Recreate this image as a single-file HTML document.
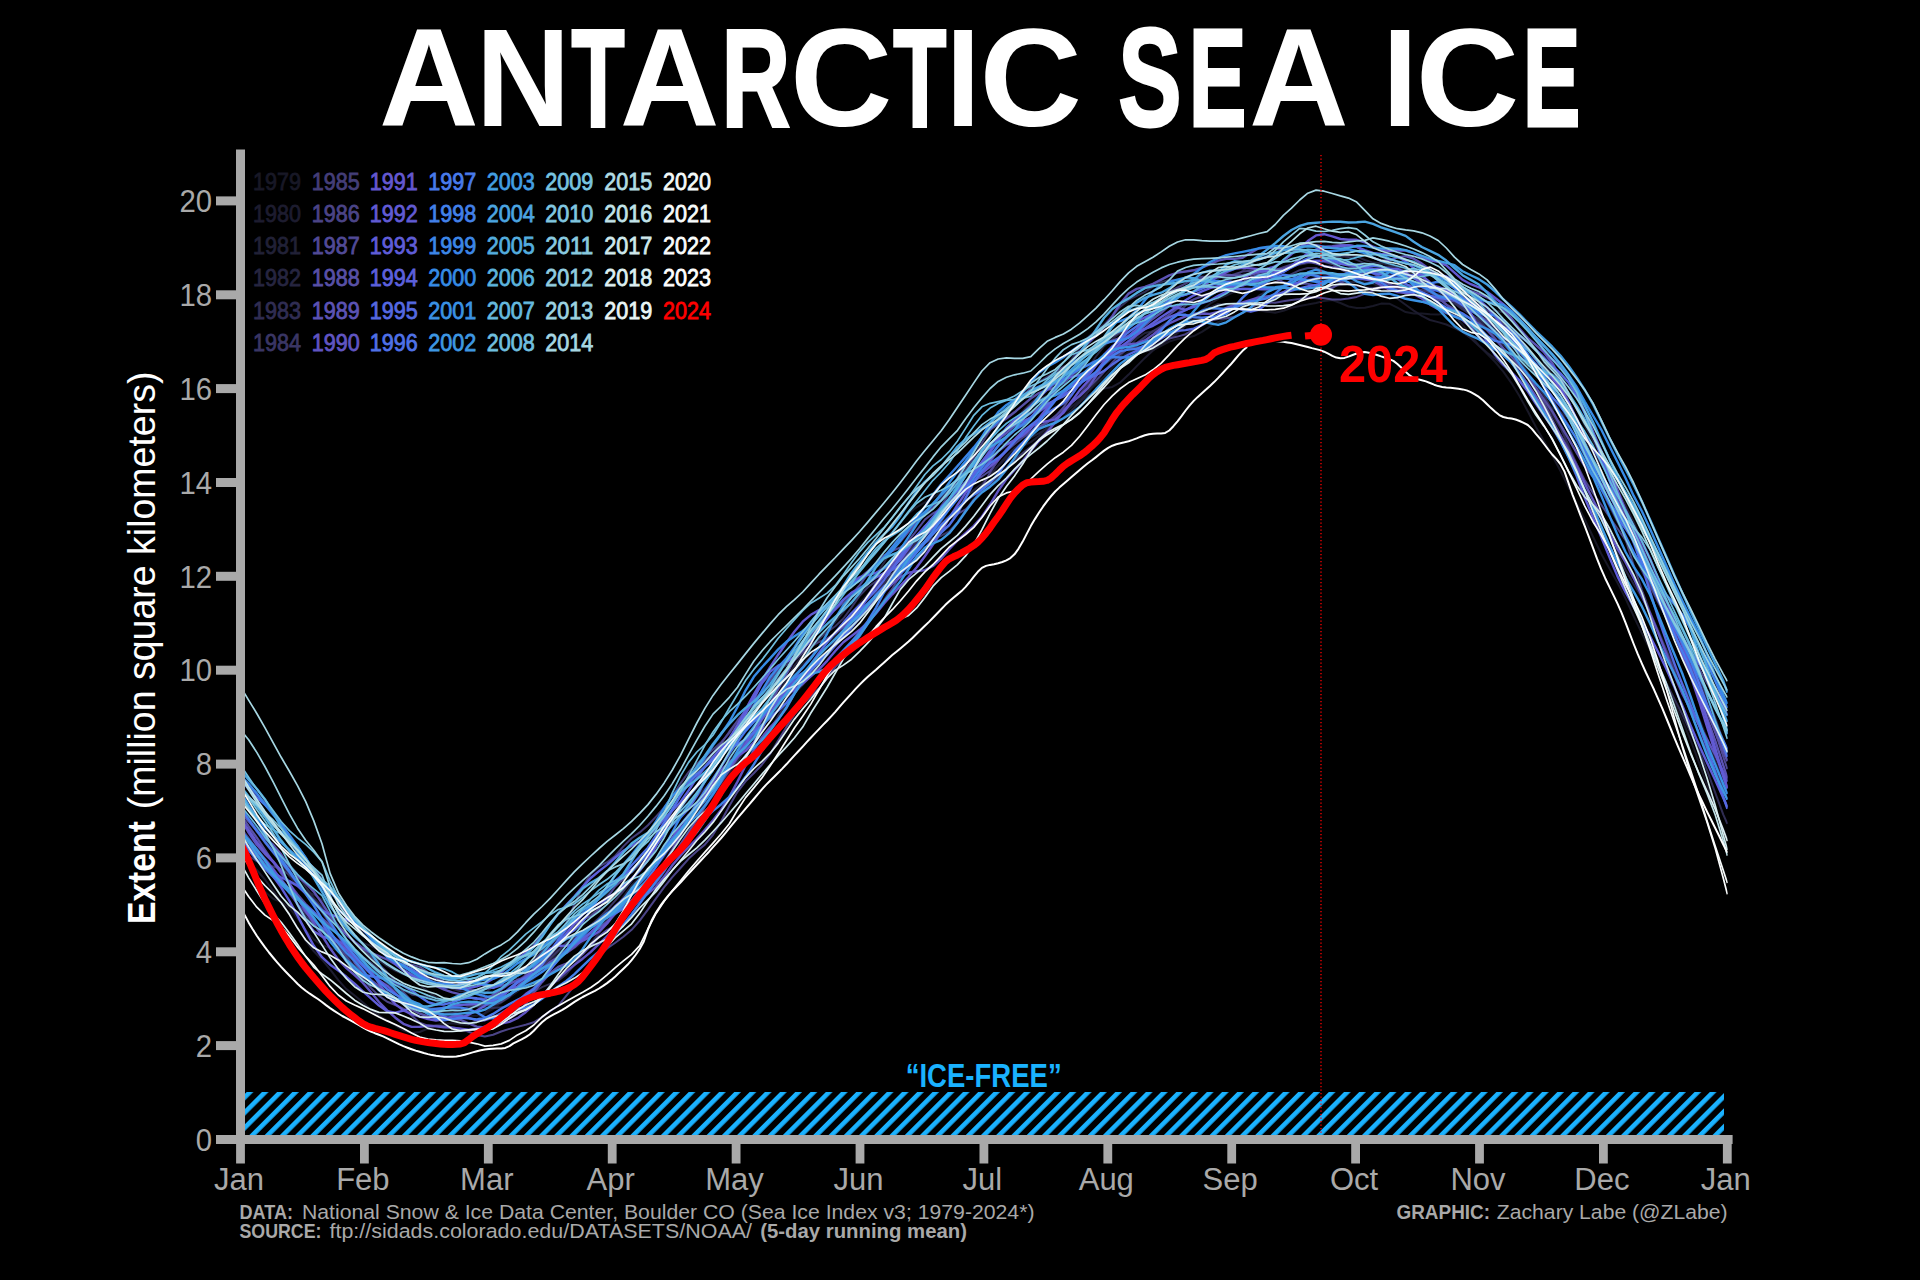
<!DOCTYPE html>
<html lang="en"><head><meta charset="utf-8"><title>Antarctic Sea Ice</title>
<style>
html,body{margin:0;padding:0;background:#000;}
body{width:1920px;height:1280px;overflow:hidden;}
svg{display:block;}
text{font-family:"Liberation Sans",sans-serif;}
.b{font-weight:bold;}
.g{fill:#a9a9a9;}
.yr{font-size:23.4px;stroke-width:0.8px;}
.c path{fill:none;stroke-linejoin:round;stroke-linecap:butt;}
</style></head><body>
<svg width="1920" height="1280" viewBox="0 0 1920 1280">
<defs>
<pattern id="h" width="10.777" height="10.777" patternUnits="userSpaceOnUse" patternTransform="translate(249.4 1135) rotate(-45)">
<rect x="0" y="0" width="10.777" height="4.65" fill="#1ab2ff"/></pattern>
<clipPath id="cp"><rect x="240.5" y="140" width="1487.2" height="1000"/></clipPath>
</defs>
<rect width="1920" height="1280" fill="#000"/>
<text class="b" y="125.8" fill="#fff" font-size="138.6px" aria-label="ANTARCTIC SEA ICE">
<tspan x="379.1" textLength="99.8" lengthAdjust="spacingAndGlyphs">A</tspan><tspan x="475.8" textLength="94.7" lengthAdjust="spacingAndGlyphs">N</tspan><tspan x="571.5" textLength="53.1" lengthAdjust="spacingAndGlyphs" stroke="#fff" stroke-width="3.0" stroke-linejoin="miter">T</tspan><tspan x="619.7" textLength="99.8" lengthAdjust="spacingAndGlyphs">A</tspan><tspan x="721.4" textLength="68.7" lengthAdjust="spacingAndGlyphs" stroke="#fff" stroke-width="3.0" stroke-linejoin="miter">R</tspan><tspan x="790.0" textLength="102.4" lengthAdjust="spacingAndGlyphs">C</tspan><tspan x="893.2" textLength="53.1" lengthAdjust="spacingAndGlyphs" stroke="#fff" stroke-width="3.0" stroke-linejoin="miter">T</tspan><tspan x="946.0" textLength="34.1" lengthAdjust="spacingAndGlyphs">I</tspan><tspan x="979.6" textLength="102.4" lengthAdjust="spacingAndGlyphs">C</tspan><tspan x="1085.0"> </tspan><tspan x="1118.3" textLength="63.3" lengthAdjust="spacingAndGlyphs" stroke="#fff" stroke-width="3.0" stroke-linejoin="miter">S</tspan><tspan x="1188.7" textLength="57.7" lengthAdjust="spacingAndGlyphs" stroke="#fff" stroke-width="3.0" stroke-linejoin="miter">E</tspan><tspan x="1248.9" textLength="99.6" lengthAdjust="spacingAndGlyphs">A</tspan><tspan x="1350.0"> </tspan><tspan x="1382.4" textLength="35.1" lengthAdjust="spacingAndGlyphs">I</tspan><tspan x="1415.7" textLength="103.6" lengthAdjust="spacingAndGlyphs">C</tspan><tspan x="1522.8" textLength="57.7" lengthAdjust="spacingAndGlyphs" stroke="#fff" stroke-width="3.0" stroke-linejoin="miter">E</tspan></text>
<rect x="245" y="1092" width="1479" height="43" fill="url(#h)"/>
<text class="b" x="983.7" y="1087" font-size="33px" fill="#1ab2ff" text-anchor="middle" textLength="156" lengthAdjust="spacingAndGlyphs">“ICE-FREE”</text>
<g class="c" clip-path="url(#cp)">
<path stroke="#181826" stroke-width="2.0" d="M240.5,847.1L248.6,862.0L256.8,878.4L264.9,891.8L273.1,898.7L281.2,901.9L289.4,907.9L297.5,918.5L305.7,930.1L313.8,939.4L322.0,945.1L330.1,947.9L338.3,950.6L346.4,956.8L354.6,964.7L362.7,970.0L370.9,973.5L379.0,977.2L387.2,981.6L395.3,988.1L403.4,996.1L411.6,1004.4L419.7,1011.5L427.9,1016.4L436.0,1017.8L444.2,1015.3L452.3,1012.7L460.5,1013.6L468.6,1015.7L476.8,1015.7L484.9,1013.7L493.1,1009.0L501.2,1002.7L509.4,997.3L517.5,991.6L525.7,984.9L533.8,978.6L542.0,971.7L550.1,963.4L558.2,956.7L566.4,952.3L574.5,948.1L582.7,942.5L590.8,935.3L599.0,927.8L607.1,920.6L615.3,913.0L623.4,903.4L631.6,891.5L639.7,879.0L647.9,867.8L656.0,858.8L664.2,851.3L672.3,843.2L680.5,831.9L688.6,817.0L696.8,801.7L704.9,789.1L713.0,778.8L721.2,767.4L729.3,755.2L737.5,743.4L745.6,731.7L753.8,717.2L761.9,700.5L770.1,685.7L778.2,674.2L786.4,663.5L794.5,653.1L802.7,644.2L810.8,635.8L819.0,627.2L827.1,617.4L835.3,605.9L843.4,593.1L851.6,580.7L859.7,569.7L867.8,559.7L876.0,549.8L884.1,540.5L892.3,531.7L900.4,522.1L908.6,513.2L916.7,507.1L924.9,502.4L933.0,497.7L941.2,492.1L949.3,486.7L957.5,480.4L965.6,470.1L973.8,457.6L981.9,448.0L990.1,444.1L998.2,443.9L1006.4,444.0L1014.5,441.9L1022.7,437.4L1030.8,433.0L1038.9,429.9L1047.1,425.5L1055.2,419.2L1063.4,413.4L1071.5,407.1L1079.7,399.5L1087.8,391.4L1096.0,384.2L1104.1,376.8L1112.3,367.6L1120.4,358.3L1128.6,352.1L1136.7,350.7L1144.9,351.6L1153.0,350.2L1161.2,345.8L1169.3,341.5L1177.5,339.0L1185.6,337.9L1193.7,336.1L1201.9,331.9L1210.0,326.6L1218.2,322.2L1226.3,318.9L1234.5,316.2L1242.6,313.1L1250.8,310.5L1258.9,310.2L1267.1,311.7L1275.2,312.7L1283.4,310.8L1291.5,307.7L1299.7,305.9L1307.8,304.6L1316.0,303.0L1324.1,300.9L1332.3,300.1L1340.4,303.0L1348.5,306.5L1356.7,308.0L1364.8,307.8L1373.0,306.0L1381.1,303.6L1389.3,303.7L1397.4,307.7L1405.6,312.1L1413.7,313.5L1421.9,313.6L1430.0,314.3L1438.2,314.4L1446.3,313.4L1454.5,315.8L1462.6,324.5L1470.8,335.5L1478.9,345.5L1487.1,353.9L1495.2,362.0L1503.3,371.7L1511.5,383.1L1519.6,396.3L1527.8,411.3L1535.9,427.0L1544.1,441.3L1552.2,455.6L1560.4,470.8L1568.5,487.1L1576.7,503.6L1584.8,519.8L1593.0,536.7L1601.1,553.5L1609.3,568.2L1617.4,582.6L1625.6,598.6L1633.7,616.4L1641.9,633.4L1650.0,649.5L1658.1,667.0L1666.3,685.4L1674.4,703.1L1682.6,720.6L1690.7,740.3L1698.9,762.3L1707.0,785.2L1715.2,808.1L1723.3,829.4L1727.4,839.3"/>
<path stroke="#1d1c2f" stroke-width="2.0" d="M240.5,855.3L248.6,862.5L256.8,870.0L264.9,879.5L273.1,890.5L281.2,902.0L289.4,914.3L297.5,927.7L305.7,940.7L313.8,951.3L322.0,959.7L330.1,969.3L338.3,980.2L346.4,989.1L354.6,995.5L362.7,1002.2L370.9,1009.6L379.0,1015.7L387.2,1020.3L395.3,1025.2L403.4,1030.4L411.6,1033.1L419.7,1032.0L427.9,1028.5L436.0,1025.3L444.2,1023.4L452.3,1023.3L460.5,1024.6L468.6,1024.7L476.8,1020.1L484.9,1012.9L493.1,1006.8L501.2,1001.9L509.4,996.0L517.5,989.2L525.7,983.0L533.8,977.1L542.0,970.3L550.1,961.2L558.2,952.0L566.4,945.0L574.5,938.5L582.7,931.7L590.8,925.1L599.0,918.2L607.1,911.5L615.3,906.3L623.4,900.7L631.6,893.9L639.7,885.6L647.9,875.8L656.0,866.4L664.2,856.6L672.3,844.2L680.5,830.9L688.6,820.2L696.8,812.7L704.9,805.6L713.0,796.1L721.2,784.6L729.3,773.1L737.5,761.4L745.6,747.5L753.8,732.2L761.9,718.4L770.1,706.7L778.2,694.7L786.4,682.4L794.5,672.1L802.7,664.2L810.8,657.2L819.0,649.9L827.1,643.1L835.3,635.7L843.4,625.1L851.6,613.2L859.7,603.2L867.8,594.3L876.0,585.0L884.1,575.9L892.3,567.7L900.4,559.7L908.6,550.3L916.7,540.9L924.9,533.6L933.0,528.0L941.2,522.2L949.3,515.8L957.5,509.1L965.6,501.9L973.8,494.4L981.9,485.5L990.1,475.1L998.2,465.9L1006.4,458.3L1014.5,451.2L1022.7,446.1L1030.8,442.1L1038.9,436.0L1047.1,427.4L1055.2,418.9L1063.4,411.8L1071.5,406.5L1079.7,401.6L1087.8,395.6L1096.0,390.6L1104.1,388.4L1112.3,386.9L1120.4,382.3L1128.6,374.6L1136.7,366.1L1144.9,357.9L1153.0,350.4L1161.2,344.2L1169.3,338.7L1177.5,333.2L1185.6,325.6L1193.7,317.4L1201.9,310.3L1210.0,303.7L1218.2,298.9L1226.3,295.6L1234.5,291.5L1242.6,288.2L1250.8,287.6L1258.9,289.6L1267.1,291.2L1275.2,289.5L1283.4,285.5L1291.5,281.7L1299.7,279.6L1307.8,278.9L1316.0,278.4L1324.1,279.0L1332.3,281.5L1340.4,282.9L1348.5,282.0L1356.7,281.6L1364.8,282.4L1373.0,283.8L1381.1,287.2L1389.3,292.9L1397.4,298.8L1405.6,304.7L1413.7,310.6L1421.9,315.9L1430.0,320.0L1438.2,322.1L1446.3,324.5L1454.5,328.2L1462.6,332.2L1470.8,338.2L1478.9,345.8L1487.1,352.7L1495.2,358.8L1503.3,365.9L1511.5,374.0L1519.6,382.4L1527.8,391.2L1535.9,399.1L1544.1,404.5L1552.2,407.8L1560.4,412.0L1568.5,418.4L1576.7,427.3L1584.8,439.4L1593.0,452.0L1601.1,463.9L1609.3,476.5L1617.4,491.5L1625.6,508.0L1633.7,524.6L1641.9,541.8L1650.0,560.5L1658.1,579.7L1666.3,598.0L1674.4,616.0L1682.6,635.6L1690.7,657.9L1698.9,681.0L1707.0,702.2L1715.2,721.2L1723.3,739.7L1727.4,749.0"/>
<path stroke="#212137" stroke-width="2.0" d="M240.5,800.8L248.6,809.4L256.8,819.2L264.9,832.4L273.1,848.2L281.2,863.1L289.4,876.1L297.5,885.8L305.7,891.0L313.8,894.7L322.0,899.7L330.1,906.7L338.3,915.3L346.4,925.6L354.6,936.0L362.7,942.9L370.9,945.9L379.0,950.2L387.2,956.8L395.3,962.8L403.4,969.0L411.6,976.5L419.7,984.7L427.9,991.4L436.0,997.2L444.2,1002.3L452.3,1005.6L460.5,1005.8L468.6,1003.5L476.8,999.9L484.9,993.9L493.1,985.7L501.2,978.6L509.4,976.7L517.5,978.6L525.7,979.7L533.8,976.1L542.0,967.6L550.1,957.4L558.2,946.8L566.4,935.9L574.5,926.8L582.7,920.5L590.8,914.7L599.0,906.4L607.1,894.9L615.3,883.6L623.4,876.4L631.6,871.5L639.7,865.6L647.9,856.9L656.0,846.0L664.2,835.2L672.3,824.2L680.5,813.3L688.6,804.1L696.8,796.0L704.9,788.6L713.0,780.3L721.2,771.1L729.3,761.1L737.5,751.3L745.6,742.9L753.8,734.7L761.9,726.3L770.1,717.2L778.2,707.6L786.4,698.3L794.5,689.6L802.7,680.8L810.8,671.3L819.0,661.9L827.1,653.4L835.3,644.3L843.4,634.5L851.6,625.5L859.7,617.2L867.8,608.6L876.0,599.4L884.1,590.3L892.3,581.6L900.4,573.8L908.6,566.2L916.7,559.0L924.9,551.9L933.0,542.7L941.2,530.8L949.3,518.3L957.5,506.4L965.6,496.6L973.8,490.1L981.9,483.7L990.1,475.3L998.2,465.5L1006.4,455.9L1014.5,448.2L1022.7,442.2L1030.8,437.6L1038.9,433.3L1047.1,428.6L1055.2,423.7L1063.4,417.5L1071.5,410.4L1079.7,402.1L1087.8,392.1L1096.0,381.9L1104.1,372.1L1112.3,363.5L1120.4,356.0L1128.6,347.3L1136.7,338.6L1144.9,333.0L1153.0,331.3L1161.2,332.0L1169.3,331.8L1177.5,329.3L1185.6,325.1L1193.7,319.9L1201.9,313.8L1210.0,307.5L1218.2,303.9L1226.3,304.6L1234.5,306.6L1242.6,305.9L1250.8,301.5L1258.9,295.7L1267.1,291.0L1275.2,288.4L1283.4,287.9L1291.5,288.7L1299.7,288.9L1307.8,288.4L1316.0,288.4L1324.1,288.2L1332.3,286.7L1340.4,285.1L1348.5,283.8L1356.7,281.9L1364.8,279.9L1373.0,278.9L1381.1,279.5L1389.3,279.1L1397.4,277.4L1405.6,276.7L1413.7,278.2L1421.9,281.2L1430.0,284.6L1438.2,287.5L1446.3,289.2L1454.5,290.7L1462.6,295.2L1470.8,302.6L1478.9,309.3L1487.1,311.6L1495.2,310.6L1503.3,312.4L1511.5,320.4L1519.6,330.5L1527.8,339.8L1535.9,349.8L1544.1,362.4L1552.2,375.1L1560.4,384.8L1568.5,394.7L1576.7,408.8L1584.8,425.4L1593.0,440.5L1601.1,455.4L1609.3,472.1L1617.4,489.4L1625.6,505.7L1633.7,522.5L1641.9,541.5L1650.0,561.4L1658.1,581.5L1666.3,602.4L1674.4,624.2L1682.6,646.4L1690.7,667.5L1698.9,687.9L1707.0,708.2L1715.2,729.1L1723.3,750.2L1727.4,760.3"/>
<path stroke="#262540" stroke-width="2.0" d="M240.5,810.1L248.6,818.9L256.8,827.9L264.9,838.3L273.1,848.3L281.2,856.9L289.4,864.3L297.5,874.2L305.7,886.9L313.8,898.0L322.0,906.6L330.1,913.9L338.3,920.4L346.4,926.5L354.6,934.5L362.7,944.3L370.9,953.3L379.0,960.4L387.2,966.1L395.3,970.5L403.4,974.3L411.6,977.0L419.7,978.5L427.9,978.8L436.0,981.1L444.2,985.2L452.3,988.8L460.5,991.2L468.6,991.8L476.8,990.7L484.9,988.9L493.1,985.5L501.2,981.1L509.4,977.5L517.5,974.8L525.7,972.6L533.8,969.1L542.0,964.0L550.1,959.9L558.2,955.9L566.4,949.4L574.5,941.0L582.7,933.2L590.8,927.8L599.0,923.7L607.1,918.9L615.3,909.8L623.4,896.9L631.6,885.5L639.7,878.1L647.9,871.4L656.0,863.3L664.2,855.1L672.3,846.4L680.5,835.6L688.6,823.1L696.8,811.4L704.9,801.8L713.0,792.5L721.2,782.2L729.3,771.6L737.5,760.8L745.6,749.1L753.8,736.6L761.9,723.5L770.1,709.7L778.2,694.9L786.4,679.5L794.5,665.6L802.7,655.4L810.8,648.0L819.0,639.6L827.1,630.4L835.3,621.7L843.4,612.1L851.6,601.5L859.7,592.1L867.8,584.3L876.0,575.1L884.1,562.5L892.3,548.6L900.4,536.6L908.6,526.9L916.7,518.2L924.9,511.5L933.0,505.8L941.2,497.7L949.3,487.7L957.5,479.0L965.6,471.0L973.8,463.2L981.9,455.6L990.1,449.3L998.2,444.4L1006.4,438.6L1014.5,430.8L1022.7,420.1L1030.8,408.3L1038.9,399.7L1047.1,395.9L1055.2,395.3L1063.4,393.4L1071.5,387.1L1079.7,378.3L1087.8,368.1L1096.0,356.5L1104.1,346.2L1112.3,339.0L1120.4,332.6L1128.6,324.8L1136.7,316.0L1144.9,308.1L1153.0,302.5L1161.2,298.4L1169.3,293.4L1177.5,288.8L1185.6,286.6L1193.7,285.5L1201.9,285.0L1210.0,285.2L1218.2,284.3L1226.3,282.1L1234.5,277.5L1242.6,270.9L1250.8,263.8L1258.9,258.2L1267.1,255.5L1275.2,253.8L1283.4,252.6L1291.5,251.4L1299.7,251.7L1307.8,253.8L1316.0,256.3L1324.1,257.8L1332.3,257.9L1340.4,256.7L1348.5,255.2L1356.7,256.3L1364.8,260.0L1373.0,262.6L1381.1,263.3L1389.3,264.6L1397.4,267.4L1405.6,271.1L1413.7,274.5L1421.9,278.6L1430.0,283.2L1438.2,287.1L1446.3,289.6L1454.5,291.3L1462.6,293.6L1470.8,298.8L1478.9,308.1L1487.1,319.1L1495.2,329.2L1503.3,338.8L1511.5,349.2L1519.6,360.7L1527.8,373.4L1535.9,388.1L1544.1,402.7L1552.2,414.8L1560.4,427.9L1568.5,444.8L1576.7,464.1L1584.8,483.2L1593.0,500.8L1601.1,517.9L1609.3,535.7L1617.4,553.7L1625.6,570.0L1633.7,584.2L1641.9,597.5L1650.0,612.1L1658.1,630.1L1666.3,649.5L1674.4,667.2L1682.6,683.7L1690.7,700.3L1698.9,718.3L1707.0,738.5L1715.2,760.1L1723.3,782.7L1727.4,794.4"/>
<path stroke="#302d53" stroke-width="2.0" d="M240.5,830.6L248.6,843.2L256.8,854.4L264.9,864.5L273.1,872.9L281.2,881.1L289.4,891.7L297.5,903.9L305.7,916.0L313.8,925.4L322.0,931.6L330.1,937.5L338.3,946.2L346.4,955.5L354.6,961.3L362.7,964.4L370.9,968.1L379.0,974.9L387.2,983.2L395.3,990.8L403.4,996.2L411.6,1000.3L419.7,1005.4L427.9,1009.9L436.0,1012.3L444.2,1013.5L452.3,1013.1L460.5,1009.8L468.6,1006.5L476.8,1006.4L484.9,1007.6L493.1,1007.9L501.2,1007.3L509.4,1005.9L517.5,1002.7L525.7,997.6L533.8,992.0L542.0,987.1L550.1,983.9L558.2,980.6L566.4,974.1L574.5,964.8L582.7,954.1L590.8,943.3L599.0,933.2L607.1,923.7L615.3,914.0L623.4,903.9L631.6,893.5L639.7,884.4L647.9,878.5L656.0,874.7L664.2,869.7L672.3,861.2L680.5,850.8L688.6,841.0L696.8,831.0L704.9,820.1L713.0,808.1L721.2,794.5L729.3,782.3L737.5,773.6L745.6,765.1L753.8,754.0L761.9,742.2L770.1,729.7L778.2,715.9L786.4,703.2L794.5,693.1L802.7,684.9L810.8,675.9L819.0,665.3L827.1,652.9L835.3,640.0L843.4,628.7L851.6,618.0L859.7,607.6L867.8,599.2L876.0,591.6L884.1,583.3L892.3,573.5L900.4,562.9L908.6,551.9L916.7,541.5L924.9,531.7L933.0,521.6L941.2,510.4L949.3,498.9L957.5,486.8L965.6,474.5L973.8,463.6L981.9,454.2L990.1,445.5L998.2,436.6L1006.4,428.0L1014.5,420.0L1022.7,411.7L1030.8,403.5L1038.9,395.9L1047.1,387.5L1055.2,379.5L1063.4,370.8L1071.5,359.5L1079.7,347.3L1087.8,337.4L1096.0,330.6L1104.1,324.5L1112.3,316.1L1120.4,306.7L1128.6,299.9L1136.7,295.8L1144.9,291.8L1153.0,286.6L1161.2,282.1L1169.3,279.9L1177.5,279.8L1185.6,280.6L1193.7,281.0L1201.9,280.1L1210.0,278.8L1218.2,277.8L1226.3,276.7L1234.5,275.8L1242.6,274.7L1250.8,273.3L1258.9,272.6L1267.1,272.3L1275.2,271.5L1283.4,269.9L1291.5,266.8L1299.7,264.4L1307.8,262.9L1316.0,261.6L1324.1,260.0L1332.3,257.4L1340.4,256.0L1348.5,257.1L1356.7,259.8L1364.8,263.4L1373.0,266.0L1381.1,266.9L1389.3,266.6L1397.4,266.5L1405.6,268.0L1413.7,271.3L1421.9,276.7L1430.0,283.2L1438.2,289.7L1446.3,296.7L1454.5,303.4L1462.6,309.5L1470.8,314.6L1478.9,319.2L1487.1,325.1L1495.2,334.0L1503.3,344.4L1511.5,352.9L1519.6,361.9L1527.8,372.9L1535.9,383.9L1544.1,395.5L1552.2,409.9L1560.4,426.9L1568.5,446.1L1576.7,466.9L1584.8,488.8L1593.0,511.1L1601.1,532.2L1609.3,550.2L1617.4,566.5L1625.6,583.6L1633.7,602.6L1641.9,622.7L1650.0,643.5L1658.1,664.1L1666.3,682.9L1674.4,698.9L1682.6,715.0L1690.7,732.6L1698.9,750.5L1707.0,770.1L1715.2,792.7L1723.3,814.6L1727.4,823.9"/>
<path stroke="#3a3665" stroke-width="2.0" d="M240.5,849.3L248.6,856.0L256.8,861.1L264.9,864.8L273.1,866.4L281.2,869.2L289.4,874.9L297.5,883.0L305.7,892.6L313.8,902.4L322.0,912.2L330.1,923.8L338.3,936.0L346.4,945.0L354.6,951.2L362.7,956.9L370.9,962.8L379.0,969.7L387.2,976.8L395.3,983.7L403.4,989.8L411.6,994.4L419.7,996.0L427.9,997.1L436.0,1001.2L444.2,1006.4L452.3,1009.8L460.5,1010.4L468.6,1008.6L476.8,1005.1L484.9,1001.8L493.1,999.9L501.2,998.3L509.4,994.7L517.5,988.3L525.7,981.2L533.8,973.9L542.0,966.3L550.1,958.6L558.2,950.5L566.4,943.0L574.5,937.7L582.7,932.6L590.8,925.8L599.0,917.9L607.1,909.8L615.3,900.7L623.4,891.0L631.6,880.9L639.7,870.1L647.9,858.9L656.0,846.0L664.2,832.5L672.3,820.2L680.5,808.4L688.6,797.3L696.8,787.7L704.9,778.4L713.0,767.3L721.2,754.4L729.3,740.6L737.5,725.4L745.6,708.9L753.8,694.3L761.9,683.4L770.1,675.6L778.2,669.7L786.4,664.9L794.5,659.5L802.7,652.5L810.8,645.4L819.0,638.5L827.1,632.3L835.3,626.3L843.4,618.5L851.6,607.4L859.7,595.8L867.8,587.2L876.0,581.3L884.1,577.3L892.3,573.7L900.4,567.0L908.6,557.9L916.7,549.8L924.9,543.1L933.0,538.3L941.2,535.7L949.3,531.3L957.5,522.4L965.6,510.6L973.8,499.2L981.9,490.5L990.1,484.1L998.2,477.0L1006.4,468.0L1014.5,460.0L1022.7,453.1L1030.8,446.7L1038.9,439.8L1047.1,431.0L1055.2,421.3L1063.4,412.2L1071.5,403.5L1079.7,394.6L1087.8,384.4L1096.0,373.8L1104.1,364.7L1112.3,358.1L1120.4,353.3L1128.6,348.5L1136.7,343.1L1144.9,337.1L1153.0,331.1L1161.2,326.3L1169.3,321.0L1177.5,313.3L1185.6,305.5L1193.7,299.5L1201.9,295.5L1210.0,293.2L1218.2,291.7L1226.3,289.3L1234.5,285.5L1242.6,282.5L1250.8,282.4L1258.9,283.8L1267.1,284.0L1275.2,282.2L1283.4,278.7L1291.5,274.2L1299.7,270.2L1307.8,268.0L1316.0,267.9L1324.1,271.4L1332.3,277.4L1340.4,282.1L1348.5,284.4L1356.7,285.7L1364.8,287.4L1373.0,287.9L1381.1,287.2L1389.3,286.5L1397.4,286.4L1405.6,286.9L1413.7,288.1L1421.9,290.3L1430.0,292.5L1438.2,294.5L1446.3,297.1L1454.5,301.5L1462.6,307.6L1470.8,314.4L1478.9,321.4L1487.1,328.4L1495.2,335.0L1503.3,340.2L1511.5,345.4L1519.6,352.8L1527.8,362.4L1535.9,374.2L1544.1,387.2L1552.2,399.9L1560.4,412.4L1568.5,425.3L1576.7,440.0L1584.8,455.9L1593.0,472.4L1601.1,489.5L1609.3,505.8L1617.4,521.6L1625.6,537.8L1633.7,554.3L1641.9,570.7L1650.0,586.5L1658.1,602.4L1666.3,617.7L1674.4,631.2L1682.6,643.8L1690.7,658.8L1698.9,677.2L1707.0,697.1L1715.2,718.2L1723.3,741.1L1727.4,753.1"/>
<path stroke="#443e78" stroke-width="2.0" d="M240.5,805.7L248.6,819.3L256.8,831.6L264.9,842.5L273.1,852.6L281.2,863.0L289.4,872.9L297.5,882.5L305.7,891.7L313.8,900.2L322.0,908.9L330.1,918.1L338.3,926.6L346.4,934.5L354.6,941.8L362.7,948.8L370.9,956.6L379.0,964.6L387.2,972.3L395.3,981.3L403.4,992.0L411.6,1000.8L419.7,1006.3L427.9,1008.4L436.0,1008.4L444.2,1008.0L452.3,1007.1L460.5,1005.6L468.6,1004.8L476.8,1005.0L484.9,1005.2L493.1,1004.7L501.2,1002.3L509.4,996.6L517.5,986.9L525.7,974.0L533.8,960.9L542.0,951.2L550.1,945.2L558.2,937.0L566.4,922.5L574.5,904.4L582.7,886.7L590.8,873.8L599.0,866.7L607.1,862.2L615.3,855.7L623.4,846.4L631.6,838.3L639.7,832.4L647.9,825.3L656.0,816.6L664.2,807.4L672.3,796.2L680.5,783.3L688.6,772.0L696.8,763.7L704.9,756.7L713.0,749.5L721.2,742.2L729.3,733.1L737.5,721.5L745.6,711.2L753.8,704.4L761.9,697.9L770.1,689.2L778.2,678.7L786.4,669.1L794.5,660.6L802.7,652.6L810.8,646.6L819.0,642.0L827.1,638.3L835.3,633.7L843.4,625.0L851.6,614.7L859.7,605.9L867.8,597.9L876.0,587.8L884.1,576.2L892.3,566.9L900.4,560.2L908.6,553.7L916.7,546.1L924.9,535.3L933.0,520.9L941.2,506.0L949.3,492.9L957.5,480.9L965.6,469.7L973.8,457.5L981.9,443.1L990.1,430.2L998.2,420.6L1006.4,412.5L1014.5,404.3L1022.7,395.6L1030.8,387.8L1038.9,382.1L1047.1,377.1L1055.2,372.1L1063.4,367.2L1071.5,362.5L1079.7,358.0L1087.8,352.4L1096.0,346.3L1104.1,341.0L1112.3,336.3L1120.4,332.0L1128.6,327.4L1136.7,320.7L1144.9,312.7L1153.0,304.5L1161.2,297.2L1169.3,291.6L1177.5,287.5L1185.6,283.5L1193.7,279.1L1201.9,276.7L1210.0,276.8L1218.2,277.3L1226.3,276.7L1234.5,274.3L1242.6,271.6L1250.8,270.7L1258.9,271.3L1267.1,271.6L1275.2,270.1L1283.4,267.1L1291.5,264.5L1299.7,262.9L1307.8,262.2L1316.0,261.8L1324.1,261.7L1332.3,264.0L1340.4,268.8L1348.5,273.7L1356.7,277.3L1364.8,278.8L1373.0,279.3L1381.1,281.2L1389.3,285.3L1397.4,289.5L1405.6,291.6L1413.7,291.9L1421.9,292.6L1430.0,296.2L1438.2,299.7L1446.3,299.6L1454.5,298.0L1462.6,297.6L1470.8,299.7L1478.9,304.6L1487.1,310.5L1495.2,316.9L1503.3,323.8L1511.5,330.3L1519.6,335.5L1527.8,341.9L1535.9,349.9L1544.1,357.6L1552.2,368.2L1560.4,383.4L1568.5,401.0L1576.7,421.2L1584.8,442.5L1593.0,459.3L1601.1,472.8L1609.3,490.3L1617.4,513.7L1625.6,539.5L1633.7,565.4L1641.9,590.0L1650.0,612.1L1658.1,631.8L1666.3,650.8L1674.4,670.7L1682.6,691.6L1690.7,712.6L1698.9,732.9L1707.0,752.2L1715.2,770.4L1723.3,789.0L1727.4,799.1"/>
<path stroke="#4b4487" stroke-width="2.0" d="M240.5,827.0L248.6,838.1L256.8,849.0L264.9,858.7L273.1,868.4L281.2,880.5L289.4,893.4L297.5,904.1L305.7,912.6L313.8,920.8L322.0,929.1L330.1,938.2L338.3,947.5L346.4,956.5L354.6,967.3L362.7,978.6L370.9,987.9L379.0,995.9L387.2,1001.8L395.3,1005.0L403.4,1008.6L411.6,1015.5L419.7,1022.7L427.9,1025.6L436.0,1025.7L444.2,1026.3L452.3,1027.4L460.5,1028.8L468.6,1031.7L476.8,1034.9L484.9,1036.4L493.1,1034.8L501.2,1031.5L509.4,1028.9L517.5,1026.9L525.7,1024.7L533.8,1022.3L542.0,1017.1L550.1,1011.1L558.2,1005.9L566.4,995.7L574.5,985.6L582.7,975.5L590.8,965.5L599.0,956.0L607.1,948.5L615.3,942.7L623.4,936.8L631.6,929.8L639.7,920.6L647.9,909.7L656.0,898.4L664.2,887.2L672.3,877.1L680.5,868.0L688.6,858.8L696.8,851.2L704.9,844.6L713.0,834.8L721.2,821.3L729.3,806.0L737.5,791.8L745.6,781.3L753.8,773.2L761.9,764.7L770.1,754.0L778.2,740.6L786.4,726.9L794.5,714.4L802.7,704.3L810.8,696.3L819.0,688.3L827.1,678.1L835.3,667.1L843.4,657.7L851.6,648.3L859.7,636.5L867.8,623.5L876.0,611.2L884.1,600.1L892.3,588.7L900.4,575.1L908.6,561.7L916.7,550.5L924.9,541.0L933.0,532.1L941.2,523.9L949.3,518.0L957.5,513.9L965.6,509.4L973.8,501.0L981.9,487.3L990.1,472.4L998.2,460.1L1006.4,451.2L1014.5,444.2L1022.7,437.6L1030.8,431.6L1038.9,427.1L1047.1,422.4L1055.2,416.0L1063.4,409.3L1071.5,402.8L1079.7,396.2L1087.8,388.5L1096.0,380.4L1104.1,371.9L1112.3,362.4L1120.4,353.9L1128.6,348.4L1136.7,347.3L1144.9,348.5L1153.0,347.0L1161.2,342.3L1169.3,338.4L1177.5,336.6L1185.6,334.2L1193.7,329.5L1201.9,324.2L1210.0,320.7L1218.2,319.0L1226.3,318.3L1234.5,317.0L1242.6,312.9L1250.8,307.5L1258.9,303.3L1267.1,302.5L1275.2,302.8L1283.4,301.3L1291.5,300.0L1299.7,299.1L1307.8,297.5L1316.0,297.2L1324.1,298.3L1332.3,299.5L1340.4,299.5L1348.5,298.6L1356.7,296.9L1364.8,293.9L1373.0,290.5L1381.1,287.9L1389.3,287.0L1397.4,286.0L1405.6,284.9L1413.7,285.2L1421.9,287.4L1430.0,292.0L1438.2,298.2L1446.3,304.5L1454.5,311.0L1462.6,317.6L1470.8,324.7L1478.9,332.3L1487.1,339.5L1495.2,346.4L1503.3,353.8L1511.5,361.2L1519.6,368.8L1527.8,376.9L1535.9,387.7L1544.1,402.7L1552.2,419.3L1560.4,434.6L1568.5,448.6L1576.7,464.3L1584.8,480.3L1593.0,493.0L1601.1,504.5L1609.3,516.8L1617.4,528.5L1625.6,540.1L1633.7,553.1L1641.9,568.4L1650.0,585.2L1658.1,601.2L1666.3,616.0L1674.4,629.7L1682.6,641.9L1690.7,653.9L1698.9,667.9L1707.0,682.9L1715.2,696.6L1723.3,709.4L1727.4,716.1"/>
<path stroke="#514a97" stroke-width="2.0" d="M240.5,780.7L248.6,786.7L256.8,794.1L264.9,802.4L273.1,812.8L281.2,825.5L289.4,838.2L297.5,849.6L305.7,859.1L313.8,868.4L322.0,879.3L330.1,890.8L338.3,901.5L346.4,913.0L354.6,925.2L362.7,935.0L370.9,941.0L379.0,946.9L387.2,954.8L395.3,961.8L403.4,964.7L411.6,964.6L419.7,966.9L427.9,972.4L436.0,978.1L444.2,981.7L452.3,983.9L460.5,986.4L468.6,989.3L476.8,990.2L484.9,989.0L493.1,987.7L501.2,985.8L509.4,983.4L517.5,980.4L525.7,975.5L533.8,969.4L542.0,961.5L550.1,951.8L558.2,942.0L566.4,932.6L574.5,924.2L582.7,919.5L590.8,916.1L599.0,908.9L607.1,897.6L615.3,886.5L623.4,878.8L631.6,872.2L639.7,863.5L647.9,853.0L656.0,840.6L664.2,826.3L672.3,810.6L680.5,795.3L688.6,782.0L696.8,770.3L704.9,760.8L713.0,752.9L721.2,743.4L729.3,731.7L737.5,720.5L745.6,710.6L753.8,700.7L761.9,691.2L770.1,680.4L778.2,669.2L786.4,660.0L794.5,653.1L802.7,645.3L810.8,634.2L819.0,623.2L827.1,615.5L835.3,609.7L843.4,602.6L851.6,594.5L859.7,585.2L867.8,573.9L876.0,562.9L884.1,555.2L892.3,551.0L900.4,547.4L908.6,540.8L916.7,530.3L924.9,519.6L933.0,513.3L941.2,508.7L949.3,502.0L957.5,493.5L965.6,485.7L973.8,480.5L981.9,476.5L990.1,470.7L998.2,460.7L1006.4,449.2L1014.5,441.0L1022.7,435.7L1030.8,431.3L1038.9,427.0L1047.1,422.8L1055.2,416.6L1063.4,407.5L1071.5,395.8L1079.7,383.3L1087.8,372.5L1096.0,364.6L1104.1,359.1L1112.3,355.0L1120.4,350.2L1128.6,343.2L1136.7,335.7L1144.9,329.5L1153.0,324.8L1161.2,320.1L1169.3,314.6L1177.5,308.4L1185.6,303.0L1193.7,299.4L1201.9,296.6L1210.0,293.7L1218.2,291.4L1226.3,289.2L1234.5,286.1L1242.6,282.0L1250.8,277.4L1258.9,274.5L1267.1,274.7L1275.2,278.2L1283.4,282.2L1291.5,283.9L1299.7,283.8L1307.8,283.7L1316.0,285.7L1324.1,288.8L1332.3,287.9L1340.4,283.4L1348.5,278.0L1356.7,273.7L1364.8,274.1L1373.0,278.0L1381.1,281.4L1389.3,284.3L1397.4,287.5L1405.6,289.6L1413.7,290.1L1421.9,292.1L1430.0,296.8L1438.2,300.4L1446.3,301.0L1454.5,301.1L1462.6,304.0L1470.8,308.7L1478.9,314.6L1487.1,320.9L1495.2,326.6L1503.3,332.3L1511.5,339.4L1519.6,347.7L1527.8,356.5L1535.9,365.0L1544.1,373.1L1552.2,381.3L1560.4,391.2L1568.5,403.7L1576.7,418.5L1584.8,433.7L1593.0,447.8L1601.1,462.4L1609.3,478.3L1617.4,494.6L1625.6,511.7L1633.7,531.4L1641.9,552.0L1650.0,572.4L1658.1,593.3L1666.3,614.1L1674.4,633.6L1682.6,650.7L1690.7,666.0L1698.9,683.6L1707.0,706.0L1715.2,731.4L1723.3,756.9L1727.4,769.2"/>
<path stroke="#5850a6" stroke-width="2.4" d="M240.5,814.3L248.6,826.5L256.8,837.7L264.9,849.9L273.1,861.9L281.2,873.2L289.4,884.0L297.5,894.5L305.7,904.1L313.8,911.9L322.0,918.5L330.1,925.5L338.3,935.1L346.4,948.4L354.6,962.4L362.7,972.8L370.9,980.0L379.0,986.3L387.2,992.4L395.3,998.5L403.4,1004.2L411.6,1009.5L419.7,1013.7L427.9,1016.4L436.0,1018.5L444.2,1019.1L452.3,1018.7L460.5,1019.9L468.6,1023.3L476.8,1026.6L484.9,1027.5L493.1,1025.0L501.2,1021.5L509.4,1018.4L517.5,1013.4L525.7,1004.1L533.8,992.5L542.0,982.1L550.1,973.2L558.2,966.9L566.4,963.7L574.5,960.3L582.7,953.8L590.8,945.3L599.0,936.7L607.1,930.3L615.3,925.7L623.4,918.9L631.6,909.2L639.7,899.3L647.9,891.1L656.0,882.9L664.2,871.3L672.3,857.6L680.5,844.4L688.6,832.1L696.8,819.6L704.9,806.6L713.0,794.1L721.2,781.9L729.3,769.8L737.5,757.9L745.6,746.4L753.8,734.0L761.9,719.2L770.1,703.7L778.2,689.0L786.4,674.2L794.5,658.9L802.7,645.4L810.8,634.6L819.0,623.9L827.1,611.5L835.3,600.2L843.4,591.7L851.6,584.7L859.7,578.2L867.8,571.4L876.0,564.0L884.1,557.4L892.3,550.1L900.4,541.2L908.6,531.6L916.7,522.5L924.9,514.8L933.0,507.9L941.2,500.3L949.3,490.6L957.5,478.5L965.6,464.3L973.8,450.1L981.9,438.2L990.1,429.6L998.2,423.8L1006.4,418.5L1014.5,412.3L1022.7,405.3L1030.8,398.5L1038.9,393.1L1047.1,389.9L1055.2,387.7L1063.4,383.0L1071.5,375.9L1079.7,368.4L1087.8,358.8L1096.0,349.3L1104.1,343.8L1112.3,340.7L1120.4,338.0L1128.6,336.1L1136.7,332.3L1144.9,325.4L1153.0,318.7L1161.2,312.8L1169.3,305.3L1177.5,296.6L1185.6,288.6L1193.7,282.5L1201.9,278.8L1210.0,276.3L1218.2,274.9L1226.3,274.7L1234.5,275.4L1242.6,275.7L1250.8,274.7L1258.9,272.7L1267.1,270.7L1275.2,269.7L1283.4,268.9L1291.5,266.3L1299.7,263.1L1307.8,261.6L1316.0,263.4L1324.1,266.2L1332.3,267.3L1340.4,268.2L1348.5,268.6L1356.7,268.0L1364.8,269.2L1373.0,273.3L1381.1,277.3L1389.3,279.0L1397.4,278.1L1405.6,276.9L1413.7,277.5L1421.9,281.1L1430.0,288.3L1438.2,297.2L1446.3,304.7L1454.5,309.2L1462.6,313.5L1470.8,318.7L1478.9,323.8L1487.1,330.1L1495.2,338.9L1503.3,348.4L1511.5,356.7L1519.6,365.6L1527.8,376.2L1535.9,388.0L1544.1,399.6L1552.2,411.4L1560.4,424.9L1568.5,438.7L1576.7,452.8L1584.8,466.3L1593.0,476.7L1601.1,484.4L1609.3,491.3L1617.4,500.2L1625.6,513.2L1633.7,529.4L1641.9,547.3L1650.0,566.7L1658.1,587.1L1666.3,607.3L1674.4,626.2L1682.6,646.0L1690.7,667.2L1698.9,688.8L1707.0,711.0L1715.2,732.0L1723.3,751.5L1727.4,761.2"/>
<path stroke="#5c53b4" stroke-width="2.4" d="M240.5,811.8L248.6,821.3L256.8,830.8L264.9,838.2L273.1,844.7L281.2,854.6L289.4,866.6L297.5,876.3L305.7,883.2L313.8,891.6L322.0,903.1L330.1,915.3L338.3,926.1L346.4,934.6L354.6,941.9L362.7,948.1L370.9,952.8L379.0,956.2L387.2,959.5L395.3,964.3L403.4,969.9L411.6,974.6L419.7,978.7L427.9,982.0L436.0,985.9L444.2,989.7L452.3,992.3L460.5,994.4L468.6,997.2L476.8,999.0L484.9,998.4L493.1,995.2L501.2,989.4L509.4,983.8L517.5,980.2L525.7,977.8L533.8,974.5L542.0,968.8L550.1,962.0L558.2,957.2L566.4,953.0L574.5,947.0L582.7,939.5L590.8,933.2L599.0,928.3L607.1,921.7L615.3,913.7L623.4,907.3L631.6,902.6L639.7,896.6L647.9,887.3L656.0,875.2L664.2,862.9L672.3,849.9L680.5,834.8L688.6,820.3L696.8,809.7L704.9,800.6L713.0,789.6L721.2,777.7L729.3,765.4L737.5,752.9L745.6,741.9L753.8,733.6L761.9,725.9L770.1,715.6L778.2,702.2L786.4,688.9L794.5,677.6L802.7,667.6L810.8,657.5L819.0,647.5L827.1,639.5L835.3,633.1L843.4,626.5L851.6,618.8L859.7,608.5L867.8,596.0L876.0,583.5L884.1,573.1L892.3,565.0L900.4,556.6L908.6,547.2L916.7,537.4L924.9,527.0L933.0,517.3L941.2,509.6L949.3,500.8L957.5,488.8L965.6,474.8L973.8,461.7L981.9,450.7L990.1,443.4L998.2,439.0L1006.4,433.0L1014.5,425.5L1022.7,418.7L1030.8,413.1L1038.9,407.9L1047.1,401.6L1055.2,391.1L1063.4,376.7L1071.5,362.4L1079.7,351.6L1087.8,343.5L1096.0,335.6L1104.1,327.1L1112.3,316.2L1120.4,303.5L1128.6,293.6L1136.7,288.9L1144.9,286.9L1153.0,283.9L1161.2,279.6L1169.3,275.4L1177.5,272.6L1185.6,271.5L1193.7,270.3L1201.9,267.6L1210.0,264.1L1218.2,260.6L1226.3,258.8L1234.5,258.9L1242.6,257.7L1250.8,252.7L1258.9,248.2L1267.1,247.6L1275.2,248.4L1283.4,249.4L1291.5,249.3L1299.7,247.0L1307.8,244.7L1316.0,245.1L1324.1,246.6L1332.3,246.2L1340.4,245.3L1348.5,245.2L1356.7,246.8L1364.8,251.7L1373.0,257.7L1381.1,260.9L1389.3,260.3L1397.4,257.4L1405.6,256.1L1413.7,258.7L1421.9,263.6L1430.0,269.5L1438.2,275.5L1446.3,280.5L1454.5,284.7L1462.6,288.4L1470.8,291.2L1478.9,293.9L1487.1,297.3L1495.2,302.0L1503.3,309.3L1511.5,318.4L1519.6,328.9L1527.8,338.1L1535.9,344.9L1544.1,352.4L1552.2,362.9L1560.4,377.6L1568.5,393.8L1576.7,408.3L1584.8,421.7L1593.0,436.5L1601.1,454.5L1609.3,476.8L1617.4,499.9L1625.6,518.6L1633.7,533.9L1641.9,550.2L1650.0,568.8L1658.1,588.6L1666.3,610.1L1674.4,633.4L1682.6,655.3L1690.7,674.8L1698.9,695.6L1707.0,718.0L1715.2,740.7L1723.3,765.4L1727.4,778.6"/>
<path stroke="#6055c2" stroke-width="2.4" d="M240.5,818.2L248.6,832.6L256.8,844.8L264.9,853.8L273.1,861.8L281.2,871.6L289.4,883.8L297.5,897.7L305.7,911.3L313.8,923.4L322.0,935.5L330.1,948.3L338.3,959.6L346.4,968.1L354.6,975.2L362.7,982.7L370.9,992.0L379.0,1002.0L387.2,1010.3L395.3,1017.7L403.4,1023.8L411.6,1026.9L419.7,1026.8L427.9,1025.7L436.0,1026.4L444.2,1027.3L452.3,1027.6L460.5,1028.6L468.6,1029.7L476.8,1028.7L484.9,1026.6L493.1,1025.0L501.2,1023.6L509.4,1021.9L517.5,1018.2L525.7,1012.2L533.8,1004.8L542.0,996.0L550.1,986.8L558.2,978.5L566.4,971.4L574.5,964.9L582.7,958.7L590.8,951.8L599.0,943.8L607.1,936.2L615.3,928.4L623.4,918.7L631.6,907.8L639.7,899.3L647.9,893.7L656.0,886.8L664.2,876.6L672.3,865.3L680.5,855.4L688.6,847.0L696.8,838.8L704.9,829.7L713.0,820.2L721.2,809.7L729.3,796.9L737.5,781.6L745.6,765.5L753.8,750.4L761.9,737.4L770.1,727.3L778.2,719.2L786.4,708.2L794.5,693.4L802.7,679.5L810.8,669.6L819.0,662.5L827.1,654.9L835.3,645.8L843.4,636.2L851.6,627.4L859.7,618.2L867.8,607.8L876.0,599.2L884.1,591.8L892.3,583.8L900.4,577.0L908.6,572.6L916.7,571.2L924.9,570.1L933.0,566.0L941.2,558.5L949.3,549.3L957.5,540.5L965.6,533.1L973.8,525.9L981.9,516.7L990.1,504.5L998.2,490.8L1006.4,479.0L1014.5,470.0L1022.7,461.0L1030.8,450.7L1038.9,441.1L1047.1,432.2L1055.2,422.3L1063.4,411.4L1071.5,402.4L1079.7,395.9L1087.8,388.1L1096.0,376.3L1104.1,362.6L1112.3,351.7L1120.4,346.1L1128.6,344.4L1136.7,343.5L1144.9,340.5L1153.0,334.7L1161.2,328.3L1169.3,323.4L1177.5,319.7L1185.6,316.3L1193.7,313.7L1201.9,313.5L1210.0,313.9L1218.2,311.9L1226.3,307.9L1234.5,304.8L1242.6,302.5L1250.8,299.9L1258.9,297.5L1267.1,296.4L1275.2,295.2L1283.4,292.2L1291.5,287.4L1299.7,281.5L1307.8,276.0L1316.0,272.9L1324.1,273.0L1332.3,274.0L1340.4,274.1L1348.5,274.6L1356.7,276.8L1364.8,279.3L1373.0,281.2L1381.1,285.2L1389.3,289.7L1397.4,292.0L1405.6,293.0L1413.7,294.1L1421.9,298.5L1430.0,304.6L1438.2,309.2L1446.3,312.8L1454.5,316.1L1462.6,320.0L1470.8,327.4L1478.9,337.0L1487.1,343.9L1495.2,349.0L1503.3,355.3L1511.5,362.7L1519.6,372.4L1527.8,384.2L1535.9,396.5L1544.1,409.4L1552.2,422.9L1560.4,436.7L1568.5,450.9L1576.7,466.3L1584.8,483.6L1593.0,499.8L1601.1,515.7L1609.3,533.0L1617.4,548.6L1625.6,562.4L1633.7,578.1L1641.9,595.9L1650.0,613.6L1658.1,632.6L1666.3,653.6L1674.4,675.1L1682.6,694.3L1690.7,709.6L1698.9,724.3L1707.0,739.2L1715.2,754.7L1723.3,772.0L1727.4,781.7"/>
<path stroke="#6458d0" stroke-width="2.4" d="M240.5,818.6L248.6,830.1L256.8,842.1L264.9,852.4L273.1,861.2L281.2,870.9L289.4,883.5L297.5,897.3L305.7,909.9L313.8,920.3L322.0,927.6L330.1,934.1L338.3,940.9L346.4,946.1L354.6,951.8L362.7,960.2L370.9,971.0L379.0,983.4L387.2,995.0L395.3,1004.1L403.4,1010.4L411.6,1014.2L419.7,1016.7L427.9,1019.0L436.0,1020.5L444.2,1019.3L452.3,1016.5L460.5,1015.6L468.6,1017.9L476.8,1020.3L484.9,1020.2L493.1,1017.4L501.2,1013.3L509.4,1008.1L517.5,1001.1L525.7,994.1L533.8,988.4L542.0,980.9L550.1,970.1L558.2,959.2L566.4,950.7L574.5,944.9L582.7,940.8L590.8,936.8L599.0,931.6L607.1,923.5L615.3,912.6L623.4,900.9L631.6,889.8L639.7,879.6L647.9,870.7L656.0,862.4L664.2,851.5L672.3,838.1L680.5,825.0L688.6,815.1L696.8,806.7L704.9,795.5L713.0,782.2L721.2,770.4L729.3,762.1L737.5,756.3L745.6,750.8L753.8,742.3L761.9,729.0L770.1,713.2L778.2,700.5L786.4,694.0L794.5,690.0L802.7,683.7L810.8,676.4L819.0,669.3L827.1,660.8L835.3,651.0L843.4,642.3L851.6,636.0L859.7,629.8L867.8,622.3L876.0,613.4L884.1,603.4L892.3,594.3L900.4,585.8L908.6,577.0L916.7,567.3L924.9,556.2L933.0,544.5L941.2,531.9L949.3,518.0L957.5,504.9L965.6,492.8L973.8,481.9L981.9,473.3L990.1,466.5L998.2,459.5L1006.4,450.6L1014.5,439.9L1022.7,431.0L1030.8,425.8L1038.9,422.8L1047.1,421.1L1055.2,419.3L1063.4,412.8L1071.5,401.5L1079.7,390.4L1087.8,381.4L1096.0,372.2L1104.1,361.0L1112.3,348.3L1120.4,336.8L1128.6,328.1L1136.7,321.8L1144.9,317.3L1153.0,313.6L1161.2,308.3L1169.3,301.8L1177.5,297.0L1185.6,294.7L1193.7,291.5L1201.9,286.4L1210.0,281.2L1218.2,276.5L1226.3,272.1L1234.5,268.9L1242.6,267.7L1250.8,268.4L1258.9,269.2L1267.1,268.9L1275.2,266.3L1283.4,260.7L1291.5,254.1L1299.7,247.9L1307.8,241.1L1316.0,235.4L1324.1,234.2L1332.3,236.4L1340.4,239.0L1348.5,239.8L1356.7,239.8L1364.8,242.3L1373.0,246.7L1381.1,249.8L1389.3,251.0L1397.4,250.4L1405.6,250.5L1413.7,253.1L1421.9,257.2L1430.0,260.2L1438.2,261.7L1446.3,265.3L1454.5,272.6L1462.6,279.8L1470.8,284.2L1478.9,287.3L1487.1,291.8L1495.2,298.0L1503.3,304.2L1511.5,311.3L1519.6,319.5L1527.8,328.3L1535.9,338.4L1544.1,350.6L1552.2,359.2L1560.4,366.5L1568.5,376.6L1576.7,392.1L1584.8,411.8L1593.0,431.8L1601.1,450.5L1609.3,469.6L1617.4,490.0L1625.6,510.7L1633.7,530.1L1641.9,548.5L1650.0,568.2L1658.1,589.1L1666.3,610.7L1674.4,632.4L1682.6,653.9L1690.7,676.2L1698.9,700.5L1707.0,726.6L1715.2,752.3L1723.3,776.7L1727.4,788.6"/>
<path stroke="#615bd4" stroke-width="2.4" d="M240.5,829.9L248.6,841.2L256.8,850.5L264.9,859.5L273.1,869.6L281.2,879.5L289.4,890.1L297.5,904.5L305.7,920.1L313.8,931.3L322.0,936.5L330.1,938.9L338.3,942.7L346.4,949.8L354.6,957.7L362.7,965.9L370.9,974.0L379.0,980.3L387.2,985.9L395.3,993.3L403.4,1000.9L411.6,1005.6L419.7,1009.2L427.9,1011.3L436.0,1010.5L444.2,1008.0L452.3,1005.8L460.5,1004.9L468.6,1004.4L476.8,1003.8L484.9,1002.8L493.1,1001.1L501.2,997.3L509.4,990.2L517.5,982.8L525.7,976.6L533.8,970.3L542.0,963.2L550.1,954.8L558.2,944.8L566.4,933.7L574.5,923.4L582.7,914.6L590.8,908.1L599.0,903.2L607.1,898.8L615.3,893.1L623.4,885.9L631.6,878.6L639.7,870.7L647.9,860.2L656.0,846.3L664.2,831.0L672.3,818.2L680.5,807.2L688.6,796.3L696.8,785.7L704.9,774.6L713.0,762.9L721.2,750.9L729.3,738.5L737.5,724.9L745.6,709.7L753.8,694.6L761.9,680.5L770.1,667.1L778.2,654.7L786.4,642.8L794.5,631.5L802.7,621.7L810.8,614.8L819.0,610.1L827.1,606.1L835.3,600.5L843.4,592.0L851.6,582.8L859.7,577.2L867.8,575.1L876.0,572.9L884.1,568.2L892.3,562.2L900.4,554.8L908.6,545.4L916.7,535.6L924.9,527.6L933.0,520.4L941.2,512.0L949.3,503.7L957.5,497.0L965.6,490.1L973.8,481.6L981.9,471.5L990.1,460.8L998.2,451.3L1006.4,444.6L1014.5,440.1L1022.7,435.4L1030.8,428.4L1038.9,418.5L1047.1,407.7L1055.2,399.6L1063.4,394.9L1071.5,390.9L1079.7,384.7L1087.8,376.2L1096.0,365.6L1104.1,354.6L1112.3,346.3L1120.4,340.9L1128.6,335.9L1136.7,329.1L1144.9,321.3L1153.0,313.7L1161.2,307.4L1169.3,305.5L1177.5,307.8L1185.6,309.6L1193.7,307.2L1201.9,300.8L1210.0,294.2L1218.2,289.6L1226.3,287.1L1234.5,284.6L1242.6,278.9L1250.8,273.4L1258.9,271.0L1267.1,271.3L1275.2,271.8L1283.4,270.5L1291.5,266.0L1299.7,259.1L1307.8,253.3L1316.0,249.5L1324.1,247.9L1332.3,247.5L1340.4,246.2L1348.5,245.2L1356.7,246.8L1364.8,250.1L1373.0,252.9L1381.1,253.9L1389.3,254.7L1397.4,256.7L1405.6,261.3L1413.7,268.2L1421.9,275.5L1430.0,282.5L1438.2,288.5L1446.3,294.0L1454.5,298.5L1462.6,300.9L1470.8,303.3L1478.9,308.3L1487.1,315.0L1495.2,321.9L1503.3,327.7L1511.5,333.5L1519.6,340.5L1527.8,349.2L1535.9,359.8L1544.1,369.8L1552.2,377.9L1560.4,387.9L1568.5,402.1L1576.7,419.2L1584.8,435.3L1593.0,448.2L1601.1,460.8L1609.3,476.2L1617.4,493.3L1625.6,510.1L1633.7,526.4L1641.9,541.6L1650.0,558.5L1658.1,578.5L1666.3,599.9L1674.4,622.6L1682.6,645.8L1690.7,668.8L1698.9,693.3L1707.0,720.2L1715.2,748.2L1723.3,775.2L1727.4,788.1"/>
<path stroke="#5f5dd8" stroke-width="2.4" d="M240.5,828.3L248.6,840.9L256.8,853.4L264.9,865.3L273.1,876.4L281.2,887.6L289.4,900.9L297.5,915.7L305.7,931.1L313.8,945.8L322.0,957.2L330.1,964.7L338.3,970.5L346.4,976.8L354.6,983.7L362.7,991.1L370.9,998.4L379.0,1005.6L387.2,1011.2L395.3,1012.7L403.4,1010.7L411.6,1007.6L419.7,1007.3L427.9,1010.1L436.0,1013.4L444.2,1016.6L452.3,1018.9L460.5,1018.1L468.6,1014.7L476.8,1010.5L484.9,1005.7L493.1,999.8L501.2,993.6L509.4,989.5L517.5,986.6L525.7,980.1L533.8,968.2L542.0,956.2L550.1,948.6L558.2,945.8L566.4,945.9L574.5,943.9L582.7,938.7L590.8,932.2L599.0,924.6L607.1,915.1L615.3,906.1L623.4,899.0L631.6,889.9L639.7,879.1L647.9,870.2L656.0,862.0L664.2,850.5L672.3,838.5L680.5,828.6L688.6,819.3L696.8,809.2L704.9,798.0L713.0,786.4L721.2,776.4L729.3,767.2L737.5,756.5L745.6,744.3L753.8,731.4L761.9,719.1L770.1,708.4L778.2,699.5L786.4,690.7L794.5,681.4L802.7,674.3L810.8,668.3L819.0,660.8L827.1,652.7L835.3,644.4L843.4,634.0L851.6,622.0L859.7,610.2L867.8,597.6L876.0,585.0L884.1,575.3L892.3,567.9L900.4,559.6L908.6,548.5L916.7,536.1L924.9,526.3L933.0,518.8L941.2,511.9L949.3,504.5L957.5,495.2L965.6,484.2L973.8,472.7L981.9,461.6L990.1,450.7L998.2,439.2L1006.4,429.3L1014.5,424.1L1022.7,421.3L1030.8,417.5L1038.9,411.9L1047.1,405.8L1055.2,400.0L1063.4,393.2L1071.5,385.8L1079.7,378.3L1087.8,370.5L1096.0,363.5L1104.1,357.6L1112.3,352.7L1120.4,347.3L1128.6,340.9L1136.7,334.5L1144.9,328.6L1153.0,323.0L1161.2,317.0L1169.3,311.7L1177.5,306.2L1185.6,300.3L1193.7,295.3L1201.9,291.4L1210.0,288.2L1218.2,286.2L1226.3,286.1L1234.5,286.8L1242.6,285.5L1250.8,282.6L1258.9,280.5L1267.1,278.4L1275.2,275.3L1283.4,272.0L1291.5,267.3L1299.7,263.4L1307.8,261.3L1316.0,260.6L1324.1,260.8L1332.3,261.8L1340.4,263.8L1348.5,265.3L1356.7,266.3L1364.8,267.6L1373.0,269.0L1381.1,269.5L1389.3,268.8L1397.4,268.9L1405.6,272.4L1413.7,278.3L1421.9,283.0L1430.0,285.4L1438.2,287.0L1446.3,289.8L1454.5,295.3L1462.6,303.0L1470.8,313.3L1478.9,327.0L1487.1,342.2L1495.2,355.3L1503.3,364.7L1511.5,372.3L1519.6,380.7L1527.8,391.3L1535.9,403.8L1544.1,415.6L1552.2,427.4L1560.4,441.2L1568.5,457.0L1576.7,476.3L1584.8,497.7L1593.0,517.4L1601.1,536.7L1609.3,556.8L1617.4,576.1L1625.6,592.5L1633.7,607.0L1641.9,621.4L1650.0,636.4L1658.1,652.0L1666.3,668.8L1674.4,687.1L1682.6,706.3L1690.7,725.7L1698.9,744.7L1707.0,762.4L1715.2,780.1L1723.3,798.1L1727.4,807.1"/>
<path stroke="#5c60dc" stroke-width="2.4" d="M240.5,837.4L248.6,846.8L256.8,855.9L264.9,864.8L273.1,872.4L281.2,877.5L289.4,881.1L297.5,885.9L305.7,893.7L313.8,902.9L322.0,910.4L330.1,914.5L338.3,917.1L346.4,919.6L354.6,923.3L362.7,929.6L370.9,938.0L379.0,947.2L387.2,956.0L395.3,963.9L403.4,970.6L411.6,975.4L419.7,979.2L427.9,982.3L436.0,984.6L444.2,985.9L452.3,987.3L460.5,988.7L468.6,988.2L476.8,986.3L484.9,983.5L493.1,978.7L501.2,972.4L509.4,965.4L517.5,958.8L525.7,953.1L533.8,945.8L542.0,935.3L550.1,924.0L558.2,913.7L566.4,904.8L574.5,896.2L582.7,886.8L590.8,878.0L599.0,871.1L607.1,864.9L615.3,857.5L623.4,850.7L631.6,845.7L639.7,841.4L647.9,835.7L656.0,828.1L664.2,819.0L672.3,810.6L680.5,802.0L688.6,790.5L696.8,777.7L704.9,766.7L713.0,757.1L721.2,748.0L729.3,738.4L737.5,727.3L745.6,713.9L753.8,698.6L761.9,683.2L770.1,671.7L778.2,665.7L786.4,662.0L794.5,657.1L802.7,649.8L810.8,640.3L819.0,629.5L827.1,618.8L835.3,608.8L843.4,599.6L851.6,592.6L859.7,588.2L867.8,583.4L876.0,577.5L884.1,573.1L892.3,569.9L900.4,564.2L908.6,554.9L916.7,545.1L924.9,536.4L933.0,527.6L941.2,518.5L949.3,508.6L957.5,497.1L965.6,485.6L973.8,474.9L981.9,464.2L990.1,452.4L998.2,439.4L1006.4,427.9L1014.5,420.1L1022.7,413.4L1030.8,405.9L1038.9,397.8L1047.1,389.6L1055.2,382.8L1063.4,379.0L1071.5,377.2L1079.7,374.9L1087.8,370.8L1096.0,364.6L1104.1,357.5L1112.3,350.3L1120.4,343.3L1128.6,336.7L1136.7,331.9L1144.9,329.0L1153.0,325.8L1161.2,321.2L1169.3,317.1L1177.5,313.9L1185.6,310.1L1193.7,305.9L1201.9,303.2L1210.0,300.5L1218.2,295.9L1226.3,291.7L1234.5,289.3L1242.6,289.0L1250.8,289.1L1258.9,289.0L1267.1,289.2L1275.2,288.5L1283.4,286.6L1291.5,284.2L1299.7,282.3L1307.8,280.7L1316.0,278.4L1324.1,276.9L1332.3,276.7L1340.4,277.4L1348.5,278.2L1356.7,278.6L1364.8,278.7L1373.0,278.1L1381.1,277.2L1389.3,275.9L1397.4,275.1L1405.6,275.5L1413.7,275.3L1421.9,274.7L1430.0,274.3L1438.2,274.6L1446.3,276.5L1454.5,280.7L1462.6,287.3L1470.8,293.9L1478.9,299.9L1487.1,307.1L1495.2,316.2L1503.3,327.3L1511.5,338.9L1519.6,348.7L1527.8,357.3L1535.9,366.3L1544.1,376.7L1552.2,387.8L1560.4,401.5L1568.5,417.8L1576.7,433.0L1584.8,447.1L1593.0,461.6L1601.1,478.1L1609.3,495.1L1617.4,510.0L1625.6,523.1L1633.7,536.8L1641.9,553.8L1650.0,573.5L1658.1,592.3L1666.3,608.2L1674.4,622.7L1682.6,637.1L1690.7,651.4L1698.9,663.8L1707.0,675.3L1715.2,689.2L1723.3,706.2L1727.4,715.3"/>
<path stroke="#5569e1" stroke-width="2.4" d="M240.5,779.3L248.6,788.9L256.8,797.4L264.9,804.6L273.1,812.5L281.2,823.2L289.4,837.1L297.5,851.7L305.7,865.2L313.8,875.9L322.0,884.3L330.1,892.1L338.3,900.4L346.4,909.8L354.6,919.7L362.7,928.2L370.9,937.2L379.0,947.8L387.2,956.8L395.3,962.0L403.4,965.2L411.6,969.3L419.7,974.3L427.9,979.3L436.0,984.4L444.2,987.5L452.3,987.0L460.5,983.7L468.6,981.1L476.8,982.1L484.9,986.0L493.1,987.8L501.2,984.3L509.4,977.3L517.5,971.3L525.7,968.4L533.8,965.4L542.0,959.4L550.1,950.2L558.2,941.0L566.4,934.9L574.5,930.0L582.7,921.8L590.8,910.0L599.0,897.3L607.1,887.2L615.3,880.7L623.4,875.3L631.6,869.4L639.7,862.3L647.9,854.1L656.0,844.9L664.2,834.3L672.3,824.9L680.5,817.5L688.6,808.6L696.8,796.1L704.9,781.4L713.0,766.2L721.2,752.4L729.3,741.8L737.5,734.6L745.6,728.0L753.8,720.6L761.9,713.6L770.1,707.0L778.2,700.7L786.4,694.8L794.5,687.4L802.7,676.6L810.8,664.3L819.0,652.9L827.1,642.4L835.3,632.5L843.4,622.6L851.6,613.0L859.7,605.1L867.8,598.3L876.0,590.1L884.1,579.9L892.3,569.0L900.4,557.1L908.6,545.2L916.7,535.7L924.9,527.0L933.0,516.9L941.2,506.9L949.3,498.6L957.5,490.7L965.6,481.8L973.8,473.2L981.9,464.6L990.1,455.4L998.2,446.0L1006.4,437.4L1014.5,430.2L1022.7,423.7L1030.8,417.2L1038.9,409.9L1047.1,404.0L1055.2,400.2L1063.4,396.4L1071.5,390.4L1079.7,383.3L1087.8,378.5L1096.0,375.3L1104.1,370.8L1112.3,364.6L1120.4,359.0L1128.6,354.5L1136.7,350.9L1144.9,347.9L1153.0,343.6L1161.2,338.5L1169.3,333.8L1177.5,330.9L1185.6,330.1L1193.7,328.6L1201.9,325.1L1210.0,320.5L1218.2,315.1L1226.3,309.7L1234.5,307.8L1242.6,309.8L1250.8,311.7L1258.9,309.7L1267.1,303.4L1275.2,296.8L1283.4,292.8L1291.5,290.5L1299.7,288.3L1307.8,286.4L1316.0,284.9L1324.1,282.6L1332.3,279.6L1340.4,276.7L1348.5,273.8L1356.7,271.8L1364.8,271.6L1373.0,273.0L1381.1,274.2L1389.3,275.9L1397.4,279.3L1405.6,283.8L1413.7,288.2L1421.9,292.4L1430.0,295.7L1438.2,297.8L1446.3,299.0L1454.5,298.8L1462.6,298.7L1470.8,301.7L1478.9,308.6L1487.1,316.1L1495.2,322.2L1503.3,326.8L1511.5,330.6L1519.6,335.5L1527.8,342.1L1535.9,349.6L1544.1,357.9L1552.2,366.0L1560.4,373.4L1568.5,382.5L1576.7,396.2L1584.8,413.3L1593.0,433.0L1601.1,456.2L1609.3,480.2L1617.4,502.2L1625.6,522.4L1633.7,542.7L1641.9,565.6L1650.0,591.7L1658.1,617.3L1666.3,640.9L1674.4,663.6L1682.6,685.1L1690.7,705.3L1698.9,725.2L1707.0,747.1L1715.2,771.8L1723.3,796.8L1727.4,808.8"/>
<path stroke="#4f71e7" stroke-width="2.4" d="M240.5,838.6L248.6,850.3L256.8,860.0L264.9,868.6L273.1,876.7L281.2,884.8L289.4,892.0L297.5,898.6L305.7,905.2L313.8,912.2L322.0,922.4L330.1,936.4L338.3,950.0L346.4,961.4L354.6,969.8L362.7,974.7L370.9,976.3L379.0,977.5L387.2,979.5L395.3,982.2L403.4,985.7L411.6,990.4L419.7,996.6L427.9,1002.1L436.0,1004.5L444.2,1004.4L452.3,1002.4L460.5,999.4L468.6,997.6L476.8,998.3L484.9,1000.4L493.1,1000.3L501.2,995.7L509.4,988.5L517.5,982.0L525.7,978.0L533.8,973.6L542.0,965.0L550.1,952.5L558.2,939.8L566.4,929.0L574.5,920.2L582.7,913.4L590.8,906.3L599.0,897.3L607.1,888.4L615.3,881.1L623.4,874.1L631.6,865.3L639.7,856.8L647.9,847.7L656.0,835.5L664.2,822.3L672.3,809.2L680.5,795.8L688.6,783.7L696.8,774.1L704.9,767.0L713.0,759.7L721.2,752.9L729.3,748.2L737.5,744.3L745.6,739.4L753.8,732.8L761.9,725.2L770.1,717.6L778.2,710.6L786.4,702.8L794.5,693.1L802.7,681.9L810.8,670.9L819.0,661.3L827.1,652.8L835.3,645.0L843.4,637.0L851.6,627.4L859.7,616.6L867.8,605.3L876.0,594.6L884.1,586.3L892.3,580.1L900.4,573.7L908.6,565.8L916.7,557.1L924.9,548.4L933.0,540.0L941.2,532.5L949.3,525.0L957.5,513.7L965.6,498.1L973.8,482.7L981.9,470.6L990.1,463.3L998.2,457.8L1006.4,450.7L1014.5,441.8L1022.7,432.9L1030.8,425.2L1038.9,418.9L1047.1,413.2L1055.2,408.1L1063.4,403.2L1071.5,394.9L1079.7,383.7L1087.8,373.0L1096.0,364.1L1104.1,355.9L1112.3,347.1L1120.4,338.7L1128.6,332.0L1136.7,326.2L1144.9,320.0L1153.0,312.7L1161.2,305.7L1169.3,300.2L1177.5,296.9L1185.6,294.7L1193.7,292.0L1201.9,288.6L1210.0,285.3L1218.2,282.7L1226.3,281.6L1234.5,281.9L1242.6,282.9L1250.8,282.4L1258.9,278.6L1267.1,275.1L1275.2,273.6L1283.4,271.6L1291.5,267.2L1299.7,262.1L1307.8,258.3L1316.0,256.5L1324.1,257.5L1332.3,260.2L1340.4,261.9L1348.5,263.0L1356.7,264.8L1364.8,266.2L1373.0,265.9L1381.1,266.5L1389.3,269.0L1397.4,272.9L1405.6,278.5L1413.7,283.9L1421.9,286.9L1430.0,288.5L1438.2,291.0L1446.3,295.3L1454.5,300.1L1462.6,305.3L1470.8,310.4L1478.9,315.7L1487.1,323.4L1495.2,332.1L1503.3,338.0L1511.5,341.5L1519.6,347.1L1527.8,357.6L1535.9,371.9L1544.1,386.3L1552.2,397.0L1560.4,406.2L1568.5,417.6L1576.7,432.4L1584.8,450.5L1593.0,469.4L1601.1,487.3L1609.3,503.7L1617.4,517.3L1625.6,528.7L1633.7,541.0L1641.9,556.2L1650.0,573.4L1658.1,592.6L1666.3,612.0L1674.4,628.1L1682.6,642.6L1690.7,660.9L1698.9,682.7L1707.0,704.5L1715.2,725.0L1723.3,745.8L1727.4,757.0"/>
<path stroke="#487aec" stroke-width="2.4" d="M240.5,807.3L248.6,819.3L256.8,830.5L264.9,841.7L273.1,852.0L281.2,861.6L289.4,872.1L297.5,883.0L305.7,892.7L313.8,901.2L322.0,910.4L330.1,922.0L338.3,934.4L346.4,946.1L354.6,955.5L362.7,964.3L370.9,973.5L379.0,981.7L387.2,989.2L395.3,994.5L403.4,998.4L411.6,1003.1L419.7,1008.6L427.9,1013.8L436.0,1018.5L444.2,1020.3L452.3,1019.0L460.5,1017.7L468.6,1018.4L476.8,1019.4L484.9,1018.1L493.1,1013.9L501.2,1008.7L509.4,1004.0L517.5,999.8L525.7,995.8L533.8,989.3L542.0,979.5L550.1,969.3L558.2,960.1L566.4,950.3L574.5,940.3L582.7,931.6L590.8,925.7L599.0,921.3L607.1,917.2L615.3,913.3L623.4,908.6L631.6,900.6L639.7,889.9L647.9,878.6L656.0,866.9L664.2,854.5L672.3,842.8L680.5,830.8L688.6,817.1L696.8,803.4L704.9,790.7L713.0,778.8L721.2,766.3L729.3,753.6L737.5,741.9L745.6,730.9L753.8,721.9L761.9,715.4L770.1,707.5L778.2,696.5L786.4,685.7L794.5,678.2L802.7,673.0L810.8,667.6L819.0,661.6L827.1,654.3L835.3,643.6L843.4,630.8L851.6,619.5L859.7,611.1L867.8,603.4L876.0,595.3L884.1,587.4L892.3,579.8L900.4,571.5L908.6,562.4L916.7,552.4L924.9,543.0L933.0,534.2L941.2,525.4L949.3,517.2L957.5,508.6L965.6,500.6L973.8,494.7L981.9,489.5L990.1,482.8L998.2,473.6L1006.4,462.0L1014.5,451.1L1022.7,442.5L1030.8,433.7L1038.9,422.5L1047.1,411.0L1055.2,400.7L1063.4,392.2L1071.5,386.7L1079.7,383.0L1087.8,378.2L1096.0,371.9L1104.1,363.9L1112.3,355.9L1120.4,351.1L1128.6,349.6L1136.7,348.9L1144.9,345.4L1153.0,338.9L1161.2,330.3L1169.3,320.7L1177.5,314.7L1185.6,314.8L1193.7,317.1L1201.9,317.8L1210.0,317.0L1218.2,316.5L1226.3,313.8L1234.5,306.7L1242.6,297.6L1250.8,290.1L1258.9,285.2L1267.1,281.7L1275.2,277.7L1283.4,274.8L1291.5,275.9L1299.7,278.8L1307.8,280.3L1316.0,281.1L1324.1,281.9L1332.3,281.7L1340.4,280.4L1348.5,278.4L1356.7,277.3L1364.8,277.8L1373.0,278.8L1381.1,282.6L1389.3,287.8L1397.4,290.6L1405.6,291.6L1413.7,292.0L1421.9,292.7L1430.0,296.6L1438.2,302.9L1446.3,307.7L1454.5,310.5L1462.6,313.7L1470.8,319.1L1478.9,327.5L1487.1,335.9L1495.2,340.9L1503.3,342.6L1511.5,345.2L1519.6,351.7L1527.8,360.9L1535.9,371.2L1544.1,380.7L1552.2,389.5L1560.4,399.2L1568.5,411.4L1576.7,426.7L1584.8,443.5L1593.0,459.8L1601.1,475.6L1609.3,491.7L1617.4,508.2L1625.6,524.0L1633.7,541.0L1641.9,560.7L1650.0,580.4L1658.1,599.3L1666.3,617.5L1674.4,634.9L1682.6,651.9L1690.7,670.1L1698.9,689.8L1707.0,708.1L1715.2,724.1L1723.3,740.5L1727.4,749.7"/>
<path stroke="#4280ea" stroke-width="2.4" d="M240.5,796.7L248.6,807.0L256.8,820.5L264.9,834.5L273.1,847.5L281.2,859.2L289.4,870.7L297.5,882.4L305.7,893.7L313.8,905.5L322.0,918.8L330.1,931.8L338.3,943.5L346.4,953.0L354.6,960.7L362.7,969.9L370.9,980.7L379.0,990.4L387.2,996.8L395.3,1000.0L403.4,1002.6L411.6,1006.1L419.7,1009.2L427.9,1009.7L436.0,1008.9L444.2,1008.0L452.3,1007.4L460.5,1007.6L468.6,1009.1L476.8,1012.5L484.9,1017.2L493.1,1018.2L501.2,1013.7L509.4,1009.3L517.5,1008.4L525.7,1007.5L533.8,1004.3L542.0,998.8L550.1,992.3L558.2,986.5L566.4,981.0L574.5,974.1L582.7,966.1L590.8,958.4L599.0,951.3L607.1,943.7L615.3,934.7L623.4,924.5L631.6,914.2L639.7,903.5L647.9,892.5L656.0,881.2L664.2,870.3L672.3,858.9L680.5,847.2L688.6,837.1L696.8,827.4L704.9,818.3L713.0,810.9L721.2,804.2L729.3,796.8L737.5,787.7L745.6,776.8L753.8,764.4L761.9,751.0L770.1,739.0L778.2,729.0L786.4,719.6L794.5,709.7L802.7,699.5L810.8,689.5L819.0,679.6L827.1,669.1L835.3,658.9L843.4,650.2L851.6,641.6L859.7,632.2L867.8,621.2L876.0,607.6L884.1,592.3L892.3,578.1L900.4,566.5L908.6,557.8L916.7,550.1L924.9,541.2L933.0,530.9L941.2,520.0L949.3,509.1L957.5,499.1L965.6,489.0L973.8,478.1L981.9,467.4L990.1,456.9L998.2,445.9L1006.4,436.4L1014.5,429.9L1022.7,425.1L1030.8,418.5L1038.9,408.9L1047.1,397.8L1055.2,387.5L1063.4,379.6L1071.5,373.6L1079.7,369.1L1087.8,365.1L1096.0,360.9L1104.1,357.9L1112.3,357.0L1120.4,357.5L1128.6,357.3L1136.7,354.3L1144.9,348.6L1153.0,341.8L1161.2,335.1L1169.3,329.3L1177.5,324.8L1185.6,320.7L1193.7,315.8L1201.9,310.8L1210.0,308.2L1218.2,308.5L1226.3,309.0L1234.5,307.6L1242.6,304.4L1250.8,301.4L1258.9,300.0L1267.1,298.3L1275.2,293.5L1283.4,286.5L1291.5,280.2L1299.7,276.1L1307.8,274.4L1316.0,275.7L1324.1,277.8L1332.3,276.8L1340.4,274.7L1348.5,274.0L1356.7,274.3L1364.8,275.5L1373.0,277.1L1381.1,277.6L1389.3,277.3L1397.4,278.3L1405.6,280.9L1413.7,283.3L1421.9,284.4L1430.0,283.4L1438.2,281.7L1446.3,282.7L1454.5,288.3L1462.6,297.8L1470.8,306.8L1478.9,312.0L1487.1,314.0L1495.2,315.6L1503.3,320.5L1511.5,330.3L1519.6,342.0L1527.8,354.1L1535.9,369.6L1544.1,386.9L1552.2,401.7L1560.4,414.4L1568.5,426.1L1576.7,438.9L1584.8,454.8L1593.0,472.3L1601.1,488.7L1609.3,502.3L1617.4,513.9L1625.6,525.2L1633.7,538.4L1641.9,553.2L1650.0,568.4L1658.1,582.8L1666.3,594.7L1674.4,604.2L1682.6,614.9L1690.7,628.8L1698.9,644.8L1707.0,662.3L1715.2,680.9L1723.3,699.3L1727.4,708.3"/>
<path stroke="#3c86e8" stroke-width="2.4" d="M240.5,775.6L248.6,783.9L256.8,793.4L264.9,804.2L273.1,814.5L281.2,824.3L289.4,835.1L297.5,846.2L305.7,857.7L313.8,872.0L322.0,887.3L330.1,900.1L338.3,909.7L346.4,916.6L354.6,922.2L362.7,929.0L370.9,938.3L379.0,948.2L387.2,956.0L395.3,961.6L403.4,966.6L411.6,971.2L419.7,976.2L427.9,980.7L436.0,983.0L444.2,983.7L452.3,984.6L460.5,987.4L468.6,991.2L476.8,994.0L484.9,996.2L493.1,997.7L501.2,997.7L509.4,995.2L517.5,989.2L525.7,982.5L533.8,977.3L542.0,972.1L550.1,965.5L558.2,957.8L566.4,950.3L574.5,943.5L582.7,936.1L590.8,927.7L599.0,919.8L607.1,913.2L615.3,907.9L623.4,900.8L631.6,891.8L639.7,883.0L647.9,874.4L656.0,862.9L664.2,848.4L672.3,832.2L680.5,817.0L688.6,804.6L696.8,793.2L704.9,781.4L713.0,769.7L721.2,757.6L729.3,745.9L737.5,734.3L745.6,721.1L753.8,706.1L761.9,690.7L770.1,677.2L778.2,667.0L786.4,658.3L794.5,647.4L802.7,634.5L810.8,622.3L819.0,612.2L827.1,604.4L835.3,597.7L843.4,591.4L851.6,585.5L859.7,579.7L867.8,572.7L876.0,565.3L884.1,557.0L892.3,547.0L900.4,536.9L908.6,527.4L916.7,517.8L924.9,506.9L933.0,494.8L941.2,484.3L949.3,475.3L957.5,466.0L965.6,456.8L973.8,447.4L981.9,437.3L990.1,428.3L998.2,421.0L1006.4,413.4L1014.5,405.1L1022.7,396.8L1030.8,390.5L1038.9,386.7L1047.1,382.9L1055.2,376.6L1063.4,369.9L1071.5,364.0L1079.7,358.2L1087.8,352.6L1096.0,347.4L1104.1,343.5L1112.3,341.4L1120.4,340.3L1128.6,337.9L1136.7,331.9L1144.9,323.7L1153.0,315.8L1161.2,308.5L1169.3,302.1L1177.5,296.2L1185.6,290.6L1193.7,286.4L1201.9,282.9L1210.0,280.7L1218.2,280.9L1226.3,283.0L1234.5,285.1L1242.6,284.4L1250.8,280.0L1258.9,275.4L1267.1,274.1L1275.2,276.2L1283.4,278.6L1291.5,279.1L1299.7,279.2L1307.8,280.5L1316.0,281.7L1324.1,281.5L1332.3,279.4L1340.4,276.0L1348.5,272.7L1356.7,270.7L1364.8,270.0L1373.0,270.2L1381.1,270.5L1389.3,272.0L1397.4,275.2L1405.6,279.0L1413.7,282.6L1421.9,286.0L1430.0,290.9L1438.2,296.0L1446.3,297.8L1454.5,298.0L1462.6,301.7L1470.8,307.7L1478.9,312.6L1487.1,316.7L1495.2,322.0L1503.3,329.2L1511.5,337.2L1519.6,345.6L1527.8,354.7L1535.9,364.3L1544.1,375.3L1552.2,388.5L1560.4,403.4L1568.5,417.5L1576.7,431.4L1584.8,447.0L1593.0,465.1L1601.1,484.7L1609.3,503.0L1617.4,519.6L1625.6,536.0L1633.7,552.3L1641.9,567.2L1650.0,580.5L1658.1,594.2L1666.3,608.8L1674.4,625.0L1682.6,642.8L1690.7,660.2L1698.9,676.2L1707.0,691.4L1715.2,706.9L1723.3,724.3L1727.4,734.4"/>
<path stroke="#368ce6" stroke-width="2.4" d="M240.5,791.8L248.6,805.2L256.8,817.7L264.9,827.5L273.1,835.2L281.2,842.4L289.4,850.0L297.5,857.1L305.7,863.6L313.8,871.9L322.0,881.0L330.1,889.0L338.3,897.6L346.4,909.5L354.6,919.7L362.7,928.4L370.9,938.0L379.0,948.6L387.2,957.2L395.3,961.7L403.4,965.6L411.6,971.7L419.7,977.1L427.9,980.4L436.0,983.7L444.2,986.2L452.3,987.3L460.5,986.7L468.6,984.4L476.8,981.2L484.9,979.5L493.1,978.8L501.2,975.6L509.4,969.6L517.5,963.4L525.7,958.9L533.8,954.4L542.0,947.8L550.1,939.6L558.2,932.2L566.4,926.4L574.5,920.5L582.7,914.2L590.8,907.3L599.0,898.3L607.1,887.0L615.3,875.3L623.4,864.6L631.6,854.9L639.7,844.8L647.9,833.9L656.0,821.4L664.2,808.0L672.3,796.1L680.5,787.5L688.6,779.9L696.8,769.9L704.9,757.6L713.0,745.4L721.2,734.0L729.3,722.0L737.5,707.0L745.6,690.3L753.8,676.8L761.9,667.2L770.1,658.4L778.2,649.4L786.4,641.8L794.5,636.2L802.7,631.0L810.8,624.3L819.0,615.2L827.1,606.3L835.3,598.6L843.4,591.5L851.6,585.6L859.7,580.6L867.8,573.4L876.0,564.9L884.1,557.8L892.3,550.6L900.4,540.6L908.6,529.3L916.7,519.6L924.9,512.0L933.0,504.2L941.2,494.0L949.3,482.5L957.5,471.5L965.6,461.0L973.8,449.8L981.9,436.8L990.1,423.3L998.2,412.2L1006.4,404.9L1014.5,399.8L1022.7,392.6L1030.8,382.3L1038.9,372.7L1047.1,366.7L1055.2,362.4L1063.4,357.3L1071.5,351.1L1079.7,345.1L1087.8,338.7L1096.0,331.8L1104.1,326.5L1112.3,323.4L1120.4,321.1L1128.6,317.7L1136.7,310.4L1144.9,300.3L1153.0,291.2L1161.2,285.4L1169.3,282.0L1177.5,279.7L1185.6,277.7L1193.7,274.0L1201.9,267.8L1210.0,262.0L1218.2,258.1L1226.3,255.2L1234.5,253.4L1242.6,251.9L1250.8,250.2L1258.9,248.3L1267.1,247.0L1275.2,246.0L1283.4,246.1L1291.5,247.7L1299.7,249.5L1307.8,250.4L1316.0,250.8L1324.1,251.2L1332.3,251.2L1340.4,250.3L1348.5,249.4L1356.7,251.0L1364.8,253.2L1373.0,253.5L1381.1,254.8L1389.3,258.7L1397.4,261.7L1405.6,262.9L1413.7,265.2L1421.9,269.0L1430.0,273.4L1438.2,277.0L1446.3,280.3L1454.5,284.0L1462.6,288.7L1470.8,294.0L1478.9,298.8L1487.1,302.0L1495.2,303.4L1503.3,304.9L1511.5,311.2L1519.6,319.7L1527.8,328.5L1535.9,337.2L1544.1,345.5L1552.2,354.1L1560.4,363.8L1568.5,374.8L1576.7,387.0L1584.8,401.6L1593.0,415.5L1601.1,429.3L1609.3,445.8L1617.4,461.8L1625.6,478.2L1633.7,495.9L1641.9,511.3L1650.0,528.7L1658.1,547.0L1666.3,565.4L1674.4,584.0L1682.6,601.6L1690.7,618.1L1698.9,634.4L1707.0,654.2L1715.2,675.6L1723.3,694.8L1727.4,704.1"/>
<path stroke="#3a92e5" stroke-width="2.4" d="M240.5,777.2L248.6,787.4L256.8,800.0L264.9,813.6L273.1,824.8L281.2,832.1L289.4,837.8L297.5,846.2L305.7,858.1L313.8,870.1L322.0,880.8L330.1,889.5L338.3,897.1L346.4,908.3L354.6,918.3L362.7,927.5L370.9,935.8L379.0,944.1L387.2,950.0L395.3,954.9L403.4,960.6L411.6,966.5L419.7,971.2L427.9,974.1L436.0,976.2L444.2,977.6L452.3,979.4L460.5,981.9L468.6,982.8L476.8,982.7L484.9,984.4L493.1,985.7L501.2,983.3L509.4,979.2L517.5,975.6L525.7,971.5L533.8,965.2L542.0,958.7L550.1,951.9L558.2,944.4L566.4,938.9L574.5,935.6L582.7,932.7L590.8,928.1L599.0,922.0L607.1,917.1L615.3,912.5L623.4,904.7L631.6,893.8L639.7,882.5L647.9,872.2L656.0,862.2L664.2,850.6L672.3,839.5L680.5,830.8L688.6,823.5L696.8,815.5L704.9,805.5L713.0,794.1L721.2,781.0L729.3,765.8L737.5,750.8L745.6,737.7L753.8,726.7L761.9,716.0L770.1,705.5L778.2,695.3L786.4,685.0L794.5,675.8L802.7,667.7L810.8,658.4L819.0,647.6L827.1,633.8L835.3,618.2L843.4,605.4L851.6,596.5L859.7,589.0L867.8,581.6L876.0,574.9L884.1,568.1L892.3,559.8L900.4,549.3L908.6,536.9L916.7,524.3L924.9,513.1L933.0,503.6L941.2,495.1L949.3,486.9L957.5,479.1L965.6,472.2L973.8,465.6L981.9,456.0L990.1,444.7L998.2,435.7L1006.4,429.2L1014.5,423.7L1022.7,416.7L1030.8,407.9L1038.9,401.0L1047.1,397.9L1055.2,395.4L1063.4,390.5L1071.5,383.6L1079.7,376.6L1087.8,369.7L1096.0,362.0L1104.1,354.9L1112.3,350.0L1120.4,347.9L1128.6,347.0L1136.7,345.1L1144.9,342.2L1153.0,339.4L1161.2,336.5L1169.3,333.1L1177.5,328.9L1185.6,321.6L1193.7,311.2L1201.9,301.8L1210.0,295.6L1218.2,290.6L1226.3,285.9L1234.5,283.1L1242.6,283.0L1250.8,284.7L1258.9,286.6L1267.1,287.4L1275.2,287.3L1283.4,286.1L1291.5,283.1L1299.7,278.2L1307.8,272.4L1316.0,269.6L1324.1,271.8L1332.3,275.1L1340.4,278.0L1348.5,282.6L1356.7,288.9L1364.8,293.9L1373.0,295.1L1381.1,294.0L1389.3,293.7L1397.4,295.8L1405.6,298.8L1413.7,300.3L1421.9,301.7L1430.0,304.0L1438.2,307.3L1446.3,312.3L1454.5,316.7L1462.6,319.6L1470.8,322.2L1478.9,325.4L1487.1,329.0L1495.2,333.7L1503.3,341.5L1511.5,352.2L1519.6,363.9L1527.8,374.4L1535.9,383.5L1544.1,392.3L1552.2,402.8L1560.4,416.5L1568.5,431.3L1576.7,446.2L1584.8,460.9L1593.0,476.6L1601.1,495.4L1609.3,515.5L1617.4,534.6L1625.6,552.0L1633.7,566.6L1641.9,579.2L1650.0,594.7L1658.1,614.3L1666.3,634.6L1674.4,654.2L1682.6,674.3L1690.7,696.7L1698.9,720.9L1707.0,743.9L1715.2,764.5L1723.3,784.3L1727.4,794.1"/>
<path stroke="#3e98e3" stroke-width="2.4" d="M240.5,830.9L248.6,839.7L256.8,849.5L264.9,860.5L273.1,872.4L281.2,883.6L289.4,892.4L297.5,899.5L305.7,907.6L313.8,917.7L322.0,929.7L330.1,941.4L338.3,951.4L346.4,959.9L354.6,967.2L362.7,974.9L370.9,982.6L379.0,988.9L387.2,993.9L395.3,998.3L403.4,1000.4L411.6,1001.1L419.7,1004.2L427.9,1009.4L436.0,1013.1L444.2,1014.5L452.3,1014.4L460.5,1013.6L468.6,1012.8L476.8,1012.0L484.9,1009.7L493.1,1004.7L501.2,999.0L509.4,994.3L517.5,989.8L525.7,985.9L533.8,982.6L542.0,979.1L550.1,974.5L558.2,969.9L566.4,965.6L574.5,959.2L582.7,948.9L590.8,936.9L599.0,925.9L607.1,916.2L615.3,908.9L623.4,902.2L631.6,894.8L639.7,887.4L647.9,880.1L656.0,872.1L664.2,863.5L672.3,855.4L680.5,848.8L688.6,841.7L696.8,832.3L704.9,820.6L713.0,807.9L721.2,794.9L729.3,781.1L737.5,767.3L745.6,755.6L753.8,747.5L761.9,740.1L770.1,730.7L778.2,719.6L786.4,707.4L794.5,693.7L802.7,681.0L810.8,673.8L819.0,671.9L827.1,668.2L835.3,660.0L843.4,651.8L851.6,644.6L859.7,635.4L867.8,623.9L876.0,612.5L884.1,601.6L892.3,591.6L900.4,581.3L908.6,569.0L916.7,556.6L924.9,547.8L933.0,543.5L941.2,539.9L949.3,533.2L957.5,523.1L965.6,511.5L973.8,500.5L981.9,492.5L990.1,486.7L998.2,479.7L1006.4,469.5L1014.5,458.1L1022.7,446.5L1030.8,436.0L1038.9,428.8L1047.1,425.7L1055.2,422.9L1063.4,418.3L1071.5,413.3L1079.7,406.9L1087.8,398.2L1096.0,389.2L1104.1,380.7L1112.3,371.9L1120.4,363.6L1128.6,357.6L1136.7,353.5L1144.9,348.2L1153.0,341.2L1161.2,334.5L1169.3,328.9L1177.5,324.6L1185.6,322.3L1193.7,321.5L1201.9,321.5L1210.0,323.3L1218.2,324.9L1226.3,322.3L1234.5,317.3L1242.6,312.8L1250.8,307.4L1258.9,299.4L1267.1,292.2L1275.2,288.4L1283.4,287.5L1291.5,288.6L1299.7,289.2L1307.8,288.4L1316.0,287.2L1324.1,284.2L1332.3,278.4L1340.4,274.9L1348.5,276.7L1356.7,281.3L1364.8,284.3L1373.0,282.6L1381.1,277.4L1389.3,272.1L1397.4,271.2L1405.6,276.6L1413.7,285.8L1421.9,295.0L1430.0,302.3L1438.2,309.0L1446.3,317.6L1454.5,325.9L1462.6,331.6L1470.8,335.6L1478.9,339.2L1487.1,344.1L1495.2,349.4L1503.3,355.0L1511.5,362.6L1519.6,373.8L1527.8,387.0L1535.9,399.9L1544.1,412.7L1552.2,426.0L1560.4,440.8L1568.5,457.2L1576.7,474.1L1584.8,490.4L1593.0,507.3L1601.1,526.0L1609.3,544.9L1617.4,562.2L1625.6,577.5L1633.7,591.7L1641.9,606.4L1650.0,623.3L1658.1,641.7L1666.3,658.6L1674.4,674.0L1682.6,691.1L1690.7,711.8L1698.9,734.0L1707.0,755.3L1715.2,774.4L1723.3,791.2L1727.4,799.8"/>
<path stroke="#429ee2" stroke-width="2.4" d="M240.5,832.1L248.6,842.2L256.8,854.7L264.9,866.1L273.1,874.6L281.2,881.9L289.4,889.2L297.5,897.3L305.7,906.0L313.8,914.2L322.0,921.7L330.1,928.1L338.3,934.5L346.4,942.1L354.6,951.1L362.7,960.8L370.9,969.4L379.0,976.1L387.2,981.6L395.3,987.9L403.4,994.4L411.6,1001.4L419.7,1008.9L427.9,1013.8L436.0,1013.2L444.2,1008.7L452.3,1004.4L460.5,1002.4L468.6,1001.8L476.8,1002.1L484.9,1003.2L493.1,1003.1L501.2,999.9L509.4,994.6L517.5,988.2L525.7,981.2L533.8,974.2L542.0,968.4L550.1,964.4L558.2,959.8L566.4,952.4L574.5,942.8L582.7,933.8L590.8,927.4L599.0,922.2L607.1,917.6L615.3,911.0L623.4,900.1L631.6,888.4L639.7,879.5L647.9,871.9L656.0,862.7L664.2,851.9L672.3,841.5L680.5,830.7L688.6,819.2L696.8,809.0L704.9,800.1L713.0,789.8L721.2,776.9L729.3,764.0L737.5,754.2L745.6,747.0L753.8,737.7L761.9,726.0L770.1,715.0L778.2,704.6L786.4,693.7L794.5,683.2L802.7,673.7L810.8,664.6L819.0,655.3L827.1,646.8L835.3,638.9L843.4,630.7L851.6,622.7L859.7,614.6L867.8,605.0L876.0,595.9L884.1,588.6L892.3,581.0L900.4,570.6L908.6,558.9L916.7,546.3L924.9,533.2L933.0,521.7L941.2,510.8L949.3,498.9L957.5,486.0L965.6,473.4L973.8,462.6L981.9,453.6L990.1,447.0L998.2,442.0L1006.4,436.9L1014.5,429.4L1022.7,418.8L1030.8,407.2L1038.9,396.4L1047.1,387.9L1055.2,381.8L1063.4,376.1L1071.5,369.4L1079.7,361.6L1087.8,353.2L1096.0,344.7L1104.1,337.5L1112.3,333.5L1120.4,331.2L1128.6,327.8L1136.7,321.4L1144.9,312.9L1153.0,306.8L1161.2,304.7L1169.3,303.2L1177.5,298.3L1185.6,289.5L1193.7,279.7L1201.9,272.9L1210.0,270.6L1218.2,270.4L1226.3,270.4L1234.5,268.7L1242.6,264.8L1250.8,261.6L1258.9,259.6L1267.1,256.7L1275.2,252.9L1283.4,250.2L1291.5,248.6L1299.7,247.1L1307.8,246.3L1316.0,246.5L1324.1,247.0L1332.3,248.1L1340.4,248.6L1348.5,247.8L1356.7,245.8L1364.8,245.9L1373.0,247.6L1381.1,248.4L1389.3,248.5L1397.4,248.7L1405.6,250.1L1413.7,252.9L1421.9,255.9L1430.0,258.7L1438.2,260.9L1446.3,262.8L1454.5,265.2L1462.6,271.2L1470.8,275.3L1478.9,279.2L1487.1,284.5L1495.2,291.7L1503.3,299.3L1511.5,306.7L1519.6,314.4L1527.8,322.8L1535.9,331.1L1544.1,338.9L1552.2,346.7L1560.4,355.5L1568.5,365.8L1576.7,377.4L1584.8,390.0L1593.0,404.2L1601.1,420.6L1609.3,437.7L1617.4,453.9L1625.6,469.5L1633.7,485.0L1641.9,501.6L1650.0,519.5L1658.1,538.0L1666.3,556.5L1674.4,575.2L1682.6,593.6L1690.7,611.5L1698.9,629.1L1707.0,646.4L1715.2,663.4L1723.3,680.9L1727.4,692.6"/>
<path stroke="#4ba5e1" stroke-width="2.4" d="M240.5,769.8L248.6,779.8L256.8,788.7L264.9,799.2L273.1,812.7L281.2,827.2L289.4,839.9L297.5,851.3L305.7,863.8L313.8,877.8L322.0,892.0L330.1,905.5L338.3,917.6L346.4,928.1L354.6,936.3L362.7,943.7L370.9,953.0L379.0,964.3L387.2,976.9L395.3,988.6L403.4,997.3L411.6,1003.2L419.7,1006.4L427.9,1006.5L436.0,1004.5L444.2,1001.7L452.3,998.4L460.5,994.9L468.6,992.5L476.8,991.7L484.9,992.7L493.1,992.6L501.2,988.6L509.4,981.9L517.5,975.4L525.7,970.3L533.8,963.7L542.0,953.9L550.1,944.0L558.2,935.6L566.4,926.4L574.5,916.9L582.7,910.0L590.8,905.0L599.0,898.8L607.1,891.7L615.3,884.2L623.4,873.9L631.6,860.9L639.7,848.4L647.9,836.3L656.0,825.1L664.2,814.9L672.3,804.0L680.5,791.0L688.6,778.0L696.8,766.7L704.9,755.6L713.0,743.9L721.2,733.4L729.3,724.0L737.5,715.2L745.6,707.9L753.8,701.5L761.9,693.9L770.1,684.2L778.2,672.7L786.4,661.3L794.5,651.6L802.7,641.8L810.8,631.3L819.0,621.1L827.1,611.2L835.3,599.9L843.4,585.9L851.6,572.7L859.7,562.3L867.8,552.3L876.0,542.3L884.1,534.2L892.3,526.3L900.4,515.7L908.6,503.0L916.7,491.1L924.9,481.9L933.0,474.7L941.2,466.9L949.3,456.9L957.5,446.6L965.6,439.2L973.8,434.0L981.9,428.7L990.1,422.5L998.2,415.6L1006.4,408.4L1014.5,402.0L1022.7,396.9L1030.8,392.7L1038.9,389.0L1047.1,385.6L1055.2,381.7L1063.4,376.5L1071.5,371.5L1079.7,366.6L1087.8,359.2L1096.0,349.3L1104.1,338.0L1112.3,326.9L1120.4,317.2L1128.6,309.0L1136.7,302.6L1144.9,297.8L1153.0,294.8L1161.2,292.7L1169.3,288.4L1177.5,282.0L1185.6,277.4L1193.7,278.1L1201.9,281.0L1210.0,279.8L1218.2,272.5L1226.3,264.4L1234.5,261.3L1242.6,262.0L1250.8,260.8L1258.9,255.8L1267.1,249.6L1275.2,243.1L1283.4,236.0L1291.5,230.0L1299.7,225.8L1307.8,223.5L1316.0,222.8L1324.1,222.1L1332.3,221.6L1340.4,221.8L1348.5,222.5L1356.7,222.3L1364.8,221.6L1373.0,223.9L1381.1,227.3L1389.3,230.0L1397.4,232.8L1405.6,235.9L1413.7,241.8L1421.9,247.0L1430.0,250.8L1438.2,254.8L1446.3,260.6L1454.5,268.0L1462.6,275.2L1470.8,279.9L1478.9,284.5L1487.1,292.7L1495.2,301.9L1503.3,308.1L1511.5,312.9L1519.6,319.8L1527.8,328.4L1535.9,337.4L1544.1,346.1L1552.2,354.8L1560.4,364.4L1568.5,375.2L1576.7,389.8L1584.8,405.6L1593.0,422.1L1601.1,440.4L1609.3,459.1L1617.4,476.8L1625.6,493.7L1633.7,510.1L1641.9,524.6L1650.0,538.2L1658.1,553.5L1666.3,570.3L1674.4,587.5L1682.6,606.6L1690.7,629.5L1698.9,653.9L1707.0,675.5L1715.2,693.6L1723.3,712.1L1727.4,722.1"/>
<path stroke="#53addf" stroke-width="2.4" d="M240.5,786.0L248.6,796.5L256.8,806.3L264.9,816.9L273.1,828.8L281.2,840.6L289.4,850.9L297.5,859.7L305.7,868.0L313.8,876.8L322.0,884.4L330.1,891.5L338.3,899.6L346.4,909.5L354.6,919.1L362.7,927.6L370.9,935.9L379.0,944.5L387.2,951.0L395.3,955.8L403.4,959.4L411.6,961.5L419.7,964.2L427.9,968.5L436.0,972.7L444.2,975.9L452.3,977.9L460.5,977.8L468.6,976.1L476.8,973.9L484.9,972.9L493.1,972.4L501.2,970.7L509.4,966.2L517.5,960.5L525.7,954.8L533.8,947.2L542.0,936.8L550.1,924.5L558.2,913.6L566.4,905.5L574.5,897.1L582.7,888.6L590.8,882.8L599.0,878.0L607.1,871.2L615.3,862.3L623.4,852.4L631.6,843.6L639.7,837.8L647.9,832.7L656.0,824.0L664.2,812.7L672.3,801.3L680.5,791.9L688.6,785.4L696.8,779.4L704.9,772.2L713.0,764.6L721.2,756.5L729.3,747.6L737.5,737.6L745.6,726.8L753.8,717.1L761.9,708.9L770.1,698.6L778.2,684.9L786.4,670.8L794.5,657.8L802.7,646.4L810.8,638.9L819.0,632.1L827.1,624.1L835.3,616.8L843.4,610.1L851.6,602.5L859.7,592.8L867.8,580.4L876.0,567.2L884.1,558.3L892.3,554.6L900.4,551.3L908.6,545.6L916.7,538.2L924.9,529.7L933.0,519.4L941.2,508.7L949.3,498.8L957.5,488.2L965.6,475.7L973.8,462.7L981.9,450.6L990.1,439.1L998.2,426.6L1006.4,414.3L1014.5,403.5L1022.7,395.5L1030.8,390.7L1038.9,387.5L1047.1,383.4L1055.2,377.4L1063.4,369.7L1071.5,361.5L1079.7,353.0L1087.8,342.2L1096.0,329.6L1104.1,317.8L1112.3,309.0L1120.4,303.3L1128.6,298.4L1136.7,292.9L1144.9,288.2L1153.0,286.1L1161.2,284.9L1169.3,283.8L1177.5,282.7L1185.6,281.1L1193.7,280.0L1201.9,280.4L1210.0,281.9L1218.2,283.8L1226.3,283.7L1234.5,283.1L1242.6,283.9L1250.8,284.4L1258.9,283.2L1267.1,280.7L1275.2,278.8L1283.4,278.0L1291.5,276.0L1299.7,273.8L1307.8,273.1L1316.0,273.1L1324.1,272.7L1332.3,273.1L1340.4,274.8L1348.5,275.0L1356.7,272.9L1364.8,270.6L1373.0,270.0L1381.1,272.1L1389.3,277.2L1397.4,283.3L1405.6,287.1L1413.7,290.1L1421.9,295.6L1430.0,302.5L1438.2,307.6L1446.3,309.4L1454.5,311.1L1462.6,316.5L1470.8,324.1L1478.9,332.1L1487.1,339.4L1495.2,345.9L1503.3,350.7L1511.5,354.1L1519.6,357.7L1527.8,362.6L1535.9,367.8L1544.1,371.3L1552.2,374.9L1560.4,382.4L1568.5,393.5L1576.7,405.9L1584.8,419.5L1593.0,435.1L1601.1,451.7L1609.3,466.5L1617.4,479.7L1625.6,492.4L1633.7,505.6L1641.9,521.4L1650.0,539.2L1658.1,556.8L1666.3,574.1L1674.4,591.4L1682.6,608.3L1690.7,626.3L1698.9,645.7L1707.0,667.0L1715.2,690.9L1723.3,717.6L1727.4,731.2"/>
<path stroke="#5cb4de" stroke-width="1.7" d="M240.5,792.5L248.6,806.8L256.8,817.1L264.9,824.5L273.1,829.9L281.2,833.8L289.4,838.4L297.5,847.4L305.7,860.0L313.8,871.5L322.0,879.3L330.1,886.2L338.3,897.1L346.4,909.0L354.6,919.0L362.7,927.8L370.9,935.7L379.0,943.5L387.2,952.6L395.3,958.7L403.4,960.6L411.6,961.4L419.7,963.7L427.9,965.9L436.0,967.7L444.2,968.9L452.3,971.9L460.5,976.8L468.6,979.6L476.8,977.6L484.9,973.5L493.1,970.2L501.2,967.0L509.4,962.8L517.5,958.7L525.7,956.2L533.8,953.8L542.0,949.0L550.1,942.4L558.2,934.9L566.4,926.8L574.5,918.2L582.7,908.4L590.8,898.7L599.0,890.1L607.1,883.9L615.3,880.6L623.4,877.8L631.6,871.6L639.7,861.5L647.9,850.3L656.0,840.8L664.2,832.9L672.3,824.6L680.5,815.6L688.6,806.0L696.8,794.5L704.9,780.5L713.0,765.9L721.2,752.7L729.3,740.7L737.5,729.2L745.6,717.9L753.8,707.2L761.9,698.0L770.1,689.4L778.2,680.9L786.4,671.2L794.5,659.3L802.7,646.0L810.8,633.4L819.0,624.2L827.1,615.9L835.3,605.6L843.4,595.1L851.6,584.0L859.7,571.1L867.8,558.7L876.0,548.4L884.1,540.8L892.3,535.6L900.4,530.5L908.6,523.1L916.7,514.0L924.9,507.3L933.0,504.2L941.2,500.7L949.3,493.4L957.5,483.1L965.6,472.1L973.8,461.0L981.9,449.8L990.1,439.6L998.2,430.9L1006.4,423.5L1014.5,417.9L1022.7,412.6L1030.8,406.9L1038.9,401.6L1047.1,396.6L1055.2,390.4L1063.4,382.2L1071.5,372.6L1079.7,364.2L1087.8,358.1L1096.0,352.1L1104.1,344.6L1112.3,335.7L1120.4,326.3L1128.6,318.7L1136.7,313.6L1144.9,309.7L1153.0,306.1L1161.2,302.6L1169.3,298.6L1177.5,295.8L1185.6,294.1L1193.7,291.2L1201.9,285.9L1210.0,279.4L1218.2,274.2L1226.3,270.7L1234.5,268.6L1242.6,266.5L1250.8,262.3L1258.9,257.1L1267.1,253.4L1275.2,252.6L1283.4,253.3L1291.5,252.7L1299.7,251.2L1307.8,252.6L1316.0,255.6L1324.1,257.4L1332.3,258.6L1340.4,260.0L1348.5,259.7L1356.7,257.4L1364.8,255.4L1373.0,254.5L1381.1,254.6L1389.3,255.6L1397.4,257.3L1405.6,259.3L1413.7,261.6L1421.9,265.7L1430.0,272.0L1438.2,278.5L1446.3,283.0L1454.5,286.4L1462.6,289.6L1470.8,293.6L1478.9,301.6L1487.1,312.9L1495.2,323.8L1503.3,331.8L1511.5,337.3L1519.6,343.3L1527.8,350.2L1535.9,358.9L1544.1,370.3L1552.2,383.2L1560.4,395.6L1568.5,407.7L1576.7,423.8L1584.8,442.8L1593.0,459.5L1601.1,473.4L1609.3,486.7L1617.4,502.3L1625.6,520.3L1633.7,537.8L1641.9,554.7L1650.0,571.1L1658.1,586.7L1666.3,601.1L1674.4,615.1L1682.6,630.3L1690.7,648.2L1698.9,670.3L1707.0,695.6L1715.2,720.2L1723.3,742.4L1727.4,752.8"/>
<path stroke="#65b9df" stroke-width="1.7" d="M240.5,805.3L248.6,815.5L256.8,826.0L264.9,837.1L273.1,847.3L281.2,856.4L289.4,865.4L297.5,874.4L305.7,882.2L313.8,888.9L322.0,895.6L330.1,911.2L338.3,928.1L346.4,939.8L354.6,949.6L362.7,957.9L370.9,965.4L379.0,972.7L387.2,979.3L395.3,985.1L403.4,989.6L411.6,992.9L419.7,995.7L427.9,998.4L436.0,1000.3L444.2,1000.9L452.3,1000.5L460.5,998.8L468.6,996.1L476.8,993.2L484.9,989.5L493.1,985.1L501.2,979.7L509.4,973.9L517.5,967.1L525.7,959.8L533.8,952.5L542.0,944.5L550.1,935.9L558.2,927.1L566.4,918.6L574.5,910.9L582.7,904.0L590.8,898.6L599.0,893.1L607.1,887.6L615.3,882.7L623.4,877.6L631.6,871.3L639.7,862.0L647.9,850.7L656.0,838.8L664.2,827.3L672.3,818.2L680.5,811.1L688.6,802.5L696.8,792.5L704.9,781.9L713.0,770.4L721.2,757.9L729.3,745.2L737.5,732.3L745.6,719.5L753.8,708.7L761.9,699.1L770.1,687.9L778.2,674.8L786.4,661.3L794.5,648.6L802.7,636.8L810.8,625.6L819.0,615.7L827.1,606.9L835.3,598.4L843.4,590.0L851.6,581.2L859.7,571.9L867.8,562.3L876.0,552.7L884.1,542.9L892.3,532.6L900.4,521.9L908.6,511.3L916.7,500.9L924.9,490.5L933.0,480.3L941.2,472.0L949.3,462.8L957.5,450.7L965.6,437.6L973.8,425.9L981.9,415.4L990.1,408.1L998.2,403.4L1006.4,400.4L1014.5,399.3L1022.7,398.5L1030.8,396.1L1038.9,388.2L1047.1,380.1L1055.2,374.3L1063.4,369.6L1071.5,365.3L1079.7,360.5L1087.8,355.1L1096.0,348.8L1104.1,341.2L1112.3,333.1L1120.4,328.5L1128.6,325.6L1136.7,323.0L1144.9,320.2L1153.0,315.3L1161.2,310.2L1169.3,306.5L1177.5,304.7L1185.6,304.4L1193.7,304.4L1201.9,303.0L1210.0,300.5L1218.2,297.8L1226.3,293.5L1234.5,288.1L1242.6,283.1L1250.8,279.8L1258.9,277.7L1267.1,275.2L1275.2,268.0L1283.4,259.3L1291.5,253.1L1299.7,251.3L1307.8,249.4L1316.0,250.0L1324.1,252.8L1332.3,254.2L1340.4,253.8L1348.5,252.5L1356.7,251.2L1364.8,251.2L1373.0,257.4L1381.1,261.1L1389.3,263.7L1397.4,266.0L1405.6,268.2L1413.7,270.4L1421.9,272.7L1430.0,275.3L1438.2,279.2L1446.3,285.3L1454.5,292.9L1462.6,300.1L1470.8,305.6L1478.9,310.5L1487.1,316.2L1495.2,324.0L1503.3,332.9L1511.5,341.9L1519.6,350.9L1527.8,360.2L1535.9,369.6L1544.1,379.2L1552.2,389.2L1560.4,400.0L1568.5,410.3L1576.7,420.1L1584.8,431.6L1593.0,445.5L1601.1,462.3L1609.3,479.8L1617.4,495.8L1625.6,510.5L1633.7,525.3L1641.9,541.4L1650.0,559.1L1658.1,577.0L1666.3,594.2L1674.4,611.2L1682.6,628.3L1690.7,645.3L1698.9,662.1L1707.0,678.2L1715.2,693.4L1723.3,708.2L1727.4,715.7"/>
<path stroke="#6fbfdf" stroke-width="1.7" d="M240.5,764.9L248.6,777.2L256.8,789.1L264.9,799.5L273.1,810.4L281.2,821.5L289.4,830.6L297.5,837.8L305.7,844.4L313.8,852.1L322.0,861.6L330.1,880.8L338.3,897.5L346.4,909.0L354.6,918.7L362.7,927.2L370.9,935.1L379.0,942.4L387.2,949.3L395.3,956.2L403.4,962.1L411.6,966.8L419.7,970.8L427.9,973.2L436.0,976.2L444.2,979.4L452.3,980.7L460.5,980.2L468.6,979.1L476.8,977.3L484.9,973.2L493.1,965.6L501.2,956.3L509.4,949.8L517.5,942.1L525.7,934.1L533.8,927.9L542.0,921.6L550.1,914.7L558.2,909.5L566.4,907.0L574.5,903.7L582.7,897.5L590.8,890.6L599.0,884.7L607.1,879.3L615.3,872.5L623.4,864.0L631.6,855.9L639.7,848.9L647.9,841.7L656.0,830.5L664.2,812.6L672.3,792.8L680.5,776.1L688.6,762.4L696.8,752.0L704.9,744.5L713.0,735.2L721.2,722.0L729.3,708.0L737.5,694.2L745.6,680.6L753.8,669.4L761.9,659.9L770.1,649.2L778.2,638.3L786.4,628.7L794.5,619.7L802.7,610.6L810.8,603.2L819.0,598.2L827.1,593.1L835.3,585.4L843.4,574.5L851.6,562.6L859.7,551.6L867.8,542.4L876.0,534.9L884.1,527.4L892.3,517.8L900.4,507.3L908.6,497.5L916.7,486.1L924.9,474.5L933.0,465.9L941.2,459.5L949.3,451.4L957.5,440.9L965.6,428.4L973.8,415.3L981.9,406.8L990.1,403.3L998.2,401.6L1006.4,399.7L1014.5,396.0L1022.7,390.8L1030.8,386.1L1038.9,382.4L1047.1,378.6L1055.2,372.0L1063.4,362.5L1071.5,354.8L1079.7,351.8L1087.8,349.9L1096.0,345.6L1104.1,336.6L1112.3,324.9L1120.4,315.7L1128.6,310.7L1136.7,308.0L1144.9,305.7L1153.0,302.4L1161.2,298.0L1169.3,294.0L1177.5,290.3L1185.6,286.4L1193.7,282.9L1201.9,280.7L1210.0,277.3L1218.2,272.1L1226.3,268.2L1234.5,264.9L1242.6,262.7L1250.8,264.0L1258.9,265.5L1267.1,263.6L1275.2,258.5L1283.4,253.3L1291.5,250.1L1299.7,249.1L1307.8,250.9L1316.0,254.8L1324.1,258.0L1332.3,258.4L1340.4,258.8L1348.5,261.5L1356.7,266.0L1364.8,272.8L1373.0,279.2L1381.1,281.1L1389.3,279.7L1397.4,278.7L1405.6,278.7L1413.7,278.0L1421.9,276.5L1430.0,275.2L1438.2,274.8L1446.3,276.9L1454.5,281.8L1462.6,286.8L1470.8,291.6L1478.9,296.8L1487.1,301.7L1495.2,305.2L1503.3,307.6L1511.5,314.9L1519.6,322.4L1527.8,331.1L1535.9,340.6L1544.1,350.1L1552.2,359.2L1560.4,368.6L1568.5,379.1L1576.7,392.2L1584.8,413.0L1593.0,433.5L1601.1,452.8L1609.3,472.4L1617.4,492.8L1625.6,512.4L1633.7,531.0L1641.9,549.2L1650.0,566.7L1658.1,582.9L1666.3,599.3L1674.4,617.5L1682.6,636.2L1690.7,654.8L1698.9,673.8L1707.0,691.7L1715.2,707.5L1723.3,724.1L1727.4,733.7"/>
<path stroke="#78c4e0" stroke-width="1.7" d="M240.5,786.8L248.6,798.0L256.8,809.7L264.9,820.9L273.1,833.2L281.2,848.1L289.4,864.1L297.5,879.3L305.7,892.0L313.8,902.0L322.0,911.3L330.1,919.7L338.3,927.8L346.4,939.1L354.6,948.6L362.7,956.7L370.9,964.1L379.0,971.0L387.2,976.9L395.3,981.8L403.4,985.8L411.6,989.0L419.7,992.0L427.9,995.4L436.0,998.3L444.2,999.6L452.3,999.3L460.5,997.3L468.6,994.8L476.8,992.2L484.9,988.9L493.1,985.4L501.2,981.3L509.4,976.0L517.5,969.7L525.7,960.2L533.8,951.1L542.0,942.4L550.1,936.7L558.2,931.9L566.4,923.1L574.5,913.7L582.7,907.4L590.8,902.7L599.0,896.2L607.1,886.1L615.3,874.9L623.4,865.6L631.6,856.1L639.7,845.9L647.9,836.6L656.0,827.0L664.2,816.7L672.3,804.9L680.5,791.1L688.6,775.9L696.8,760.3L704.9,745.3L713.0,732.0L721.2,720.7L729.3,711.7L737.5,704.1L745.6,696.2L753.8,687.3L761.9,678.3L770.1,668.9L778.2,659.3L786.4,650.3L794.5,641.2L802.7,631.6L810.8,621.7L819.0,612.2L827.1,603.7L835.3,595.3L843.4,586.8L851.6,578.1L859.7,569.5L867.8,560.6L876.0,551.2L884.1,542.5L892.3,533.1L900.4,522.7L908.6,512.2L916.7,503.2L924.9,497.3L933.0,493.6L941.2,490.2L949.3,485.7L957.5,479.9L965.6,474.0L973.8,469.3L981.9,464.2L990.1,458.3L998.2,451.3L1006.4,442.9L1014.5,435.0L1022.7,428.1L1030.8,420.6L1038.9,411.3L1047.1,401.4L1055.2,393.1L1063.4,386.0L1071.5,379.4L1079.7,371.7L1087.8,361.3L1096.0,350.3L1104.1,341.8L1112.3,335.6L1120.4,330.4L1128.6,324.7L1136.7,318.5L1144.9,313.9L1153.0,311.2L1161.2,307.9L1169.3,301.9L1177.5,294.9L1185.6,290.0L1193.7,287.9L1201.9,287.0L1210.0,286.9L1218.2,287.7L1226.3,288.8L1234.5,288.4L1242.6,285.0L1250.8,279.7L1258.9,275.4L1267.1,273.2L1275.2,266.2L1283.4,262.0L1291.5,258.9L1299.7,256.7L1307.8,255.6L1316.0,255.8L1324.1,258.4L1332.3,262.7L1340.4,266.6L1348.5,268.7L1356.7,268.3L1364.8,265.9L1373.0,264.2L1381.1,265.7L1389.3,270.2L1397.4,272.7L1405.6,270.3L1413.7,268.4L1421.9,270.6L1430.0,274.1L1438.2,279.0L1446.3,286.1L1454.5,293.8L1462.6,300.1L1470.8,305.1L1478.9,310.2L1487.1,316.1L1495.2,323.5L1503.3,332.2L1511.5,341.0L1519.6,349.5L1527.8,358.4L1535.9,367.7L1544.1,377.6L1552.2,390.8L1560.4,403.8L1568.5,417.8L1576.7,435.2L1584.8,454.4L1593.0,470.7L1601.1,484.8L1609.3,500.8L1617.4,519.6L1625.6,539.0L1633.7,556.0L1641.9,568.9L1650.0,580.0L1658.1,593.2L1666.3,608.8L1674.4,624.5L1682.6,639.2L1690.7,654.7L1698.9,672.7L1707.0,691.7L1715.2,709.3L1723.3,724.6L1727.4,731.8"/>
<path stroke="#81c7e0" stroke-width="1.7" d="M240.5,791.0L248.6,797.5L256.8,805.2L264.9,812.8L273.1,820.0L281.2,828.5L289.4,839.1L297.5,850.4L305.7,860.0L313.8,867.7L322.0,875.1L330.1,895.8L338.3,912.8L346.4,924.5L354.6,934.5L362.7,943.6L370.9,951.8L379.0,958.5L387.2,963.6L395.3,968.6L403.4,973.6L411.6,978.2L419.7,981.7L427.9,984.1L436.0,985.5L444.2,986.3L452.3,987.2L460.5,987.3L468.6,986.2L476.8,984.5L484.9,982.4L493.1,976.5L501.2,970.9L509.4,964.8L517.5,958.0L525.7,955.1L533.8,951.6L542.0,944.2L550.1,934.0L558.2,924.8L566.4,919.2L574.5,916.5L582.7,913.7L590.8,910.4L599.0,907.1L607.1,901.1L615.3,891.9L623.4,883.8L631.6,879.1L639.7,876.3L647.9,870.3L656.0,858.4L664.2,845.0L672.3,833.9L680.5,824.7L688.6,815.4L696.8,805.8L704.9,797.5L713.0,787.8L721.2,773.9L729.3,758.6L737.5,746.6L745.6,738.1L753.8,728.2L761.9,713.8L770.1,698.0L778.2,686.3L786.4,678.0L794.5,670.3L802.7,660.5L810.8,648.5L819.0,637.1L827.1,628.5L835.3,619.4L843.4,607.7L851.6,597.4L859.7,590.7L867.8,584.4L876.0,576.4L884.1,567.0L892.3,558.2L900.4,550.1L908.6,544.4L916.7,540.6L924.9,534.2L933.0,523.3L941.2,511.8L949.3,503.0L957.5,494.2L965.6,482.2L973.8,469.3L981.9,456.8L990.1,444.6L998.2,435.0L1006.4,429.1L1014.5,424.5L1022.7,419.3L1030.8,412.4L1038.9,404.8L1047.1,396.5L1055.2,386.1L1063.4,374.6L1071.5,364.9L1079.7,357.4L1087.8,350.7L1096.0,344.3L1104.1,338.7L1112.3,333.4L1120.4,327.9L1128.6,322.7L1136.7,318.0L1144.9,313.3L1153.0,308.1L1161.2,303.1L1169.3,298.1L1177.5,294.0L1185.6,290.4L1193.7,287.4L1201.9,286.1L1210.0,284.8L1218.2,282.0L1226.3,279.5L1234.5,277.8L1242.6,276.5L1250.8,273.6L1258.9,268.9L1267.1,264.3L1275.2,261.9L1283.4,261.8L1291.5,261.5L1299.7,259.1L1307.8,255.3L1316.0,253.3L1324.1,254.1L1332.3,255.7L1340.4,255.4L1348.5,253.0L1356.7,250.8L1364.8,251.0L1373.0,253.0L1381.1,256.6L1389.3,259.1L1397.4,261.3L1405.6,263.8L1413.7,264.9L1421.9,267.9L1430.0,273.8L1438.2,281.1L1446.3,287.6L1454.5,291.2L1462.6,294.5L1470.8,300.6L1478.9,308.3L1487.1,315.6L1495.2,322.9L1503.3,332.7L1511.5,344.7L1519.6,356.0L1527.8,364.9L1535.9,372.0L1544.1,378.5L1552.2,385.6L1560.4,395.6L1568.5,409.0L1576.7,425.4L1584.8,443.8L1593.0,461.5L1601.1,478.2L1609.3,494.4L1617.4,508.4L1625.6,518.9L1633.7,527.7L1641.9,537.4L1650.0,549.5L1658.1,567.3L1666.3,585.1L1674.4,603.3L1682.6,621.3L1690.7,639.3L1698.9,659.2L1707.0,680.1L1715.2,702.6L1723.3,726.8L1727.4,739.0"/>
<path stroke="#89cbe0" stroke-width="1.7" d="M240.5,797.2L248.6,809.0L256.8,820.3L264.9,833.2L273.1,847.9L281.2,865.6L289.4,885.9L297.5,904.9L305.7,918.7L313.8,926.0L322.0,930.8L330.1,937.9L338.3,948.6L346.4,961.2L354.6,972.2L362.7,980.2L370.9,985.2L379.0,988.7L387.2,992.5L395.3,997.8L403.4,1003.9L411.6,1008.4L419.7,1011.1L427.9,1011.9L436.0,1011.7L444.2,1010.8L452.3,1010.4L460.5,1010.5L468.6,1009.3L476.8,1005.8L484.9,1001.6L493.1,996.9L501.2,992.6L509.4,990.3L517.5,989.1L525.7,987.9L533.8,985.2L542.0,978.7L550.1,967.6L558.2,955.8L566.4,945.5L574.5,934.8L582.7,924.6L590.8,917.6L599.0,911.5L607.1,904.4L615.3,896.9L623.4,888.3L631.6,879.2L639.7,870.0L647.9,860.9L656.0,850.9L664.2,837.7L672.3,822.3L680.5,808.0L688.6,796.4L696.8,786.6L704.9,777.2L713.0,766.4L721.2,754.0L729.3,740.8L737.5,728.7L745.6,717.3L753.8,706.4L761.9,697.9L770.1,690.5L778.2,681.6L786.4,669.8L794.5,655.1L802.7,641.0L810.8,630.4L819.0,620.8L827.1,609.9L835.3,600.0L843.4,593.1L851.6,587.2L859.7,580.3L867.8,572.1L876.0,562.5L884.1,552.1L892.3,542.4L900.4,533.9L908.6,526.5L916.7,520.4L924.9,515.4L933.0,509.1L941.2,500.6L949.3,490.4L957.5,478.7L965.6,465.9L973.8,452.2L981.9,438.7L990.1,427.6L998.2,418.7L1006.4,411.7L1014.5,405.7L1022.7,399.4L1030.8,391.0L1038.9,379.9L1047.1,368.5L1055.2,358.2L1063.4,349.7L1071.5,344.6L1079.7,341.7L1087.8,338.1L1096.0,332.3L1104.1,325.6L1112.3,318.7L1120.4,311.7L1128.6,306.3L1136.7,305.3L1144.9,306.8L1153.0,306.2L1161.2,301.6L1169.3,295.8L1177.5,291.4L1185.6,288.4L1193.7,285.1L1201.9,280.1L1210.0,276.5L1218.2,276.7L1226.3,277.8L1234.5,277.8L1242.6,276.1L1250.8,272.7L1258.9,269.4L1267.1,268.6L1275.2,270.3L1283.4,270.5L1291.5,267.0L1299.7,262.7L1307.8,259.7L1316.0,256.5L1324.1,254.9L1332.3,256.8L1340.4,261.0L1348.5,264.4L1356.7,264.7L1364.8,263.5L1373.0,264.1L1381.1,266.3L1389.3,269.5L1397.4,273.5L1405.6,277.9L1413.7,281.4L1421.9,284.1L1430.0,286.7L1438.2,289.6L1446.3,293.2L1454.5,297.4L1462.6,302.0L1470.8,308.7L1478.9,316.6L1487.1,324.2L1495.2,331.5L1503.3,340.0L1511.5,350.0L1519.6,359.7L1527.8,368.2L1535.9,375.8L1544.1,383.6L1552.2,391.5L1560.4,401.6L1568.5,414.8L1576.7,430.2L1584.8,446.0L1593.0,460.9L1601.1,477.1L1609.3,493.9L1617.4,510.2L1625.6,526.1L1633.7,541.9L1641.9,557.4L1650.0,573.2L1658.1,590.2L1666.3,607.5L1674.4,622.7L1682.6,636.7L1690.7,652.7L1698.9,671.2L1707.0,690.1L1715.2,707.7L1723.3,723.2L1727.4,730.8"/>
<path stroke="#92cee0" stroke-width="1.7" d="M240.5,791.1L248.6,797.0L256.8,803.8L264.9,812.6L273.1,822.8L281.2,832.6L289.4,841.4L297.5,850.0L305.7,859.1L313.8,869.3L322.0,880.2L330.1,896.2L338.3,913.4L346.4,925.2L354.6,935.0L362.7,943.5L370.9,951.3L379.0,958.6L387.2,964.6L395.3,969.6L403.4,973.8L411.6,977.5L419.7,980.1L427.9,982.2L436.0,984.1L444.2,985.4L452.3,985.8L460.5,984.8L468.6,983.0L476.8,980.9L484.9,978.1L493.1,974.6L501.2,969.8L509.4,963.7L517.5,956.4L525.7,949.3L533.8,942.3L542.0,932.7L550.1,922.7L558.2,913.8L566.4,907.0L574.5,901.3L582.7,894.6L590.8,886.7L599.0,878.2L607.1,871.0L615.3,866.9L623.4,863.9L631.6,858.7L639.7,849.2L647.9,838.8L656.0,831.9L664.2,826.3L672.3,820.0L680.5,814.7L688.6,809.4L696.8,802.2L704.9,792.7L713.0,780.3L721.2,766.0L729.3,751.6L737.5,738.3L745.6,725.3L753.8,712.5L761.9,701.4L770.1,690.5L778.2,679.5L786.4,668.7L794.5,656.6L802.7,642.5L810.8,626.8L819.0,611.0L827.1,597.7L835.3,586.6L843.4,576.1L851.6,567.2L859.7,558.2L867.8,548.5L876.0,538.5L884.1,528.0L892.3,517.3L900.4,506.8L908.6,497.0L916.7,488.8L924.9,482.7L933.0,475.7L941.2,466.6L949.3,457.0L957.5,449.3L965.6,442.1L973.8,432.9L981.9,424.6L990.1,419.1L998.2,414.8L1006.4,409.9L1014.5,402.0L1022.7,391.7L1030.8,383.2L1038.9,377.6L1047.1,373.8L1055.2,369.4L1063.4,362.2L1071.5,353.3L1079.7,347.2L1087.8,341.4L1096.0,334.8L1104.1,327.2L1112.3,321.6L1120.4,315.0L1128.6,307.6L1136.7,300.4L1144.9,295.1L1153.0,291.3L1161.2,286.9L1169.3,279.9L1177.5,271.1L1185.6,267.5L1193.7,265.4L1201.9,264.6L1210.0,264.4L1218.2,264.0L1226.3,263.4L1234.5,262.4L1242.6,261.6L1250.8,260.7L1258.9,259.4L1267.1,257.3L1275.2,250.3L1283.4,241.8L1291.5,235.1L1299.7,228.4L1307.8,229.1L1316.0,231.1L1324.1,231.5L1332.3,230.3L1340.4,228.6L1348.5,227.6L1356.7,228.9L1364.8,235.0L1373.0,241.8L1381.1,246.0L1389.3,249.4L1397.4,252.3L1405.6,254.5L1413.7,256.3L1421.9,258.9L1430.0,262.3L1438.2,266.2L1446.3,272.5L1454.5,280.4L1462.6,287.0L1470.8,291.7L1478.9,296.4L1487.1,302.4L1495.2,310.1L1503.3,318.8L1511.5,327.2L1519.6,334.9L1527.8,342.7L1535.9,350.8L1544.1,359.1L1552.2,367.6L1560.4,376.8L1568.5,387.0L1576.7,398.5L1584.8,411.4L1593.0,425.8L1601.1,441.8L1609.3,458.1L1617.4,473.1L1625.6,487.2L1633.7,501.9L1641.9,518.3L1650.0,535.8L1658.1,553.3L1666.3,570.8L1674.4,588.2L1682.6,605.3L1690.7,621.6L1698.9,637.4L1707.0,653.1L1715.2,668.5L1723.3,683.3L1727.4,690.6"/>
<path stroke="#9dd3e1" stroke-width="1.7" d="M240.5,729.9L248.6,739.8L256.8,752.4L264.9,766.5L273.1,781.9L281.2,797.9L289.4,813.8L297.5,828.2L305.7,840.2L313.8,850.3L322.0,861.8L330.1,887.1L338.3,904.4L346.4,916.0L354.6,925.5L362.7,933.8L370.9,941.7L379.0,948.8L387.2,954.3L395.3,958.7L403.4,962.6L411.6,966.1L419.7,969.4L427.9,972.5L436.0,974.6L444.2,975.7L452.3,976.1L460.5,975.1L468.6,972.8L476.8,970.0L484.9,966.7L493.1,963.5L501.2,959.6L509.4,954.7L517.5,948.4L525.7,940.8L533.8,932.2L542.0,922.8L550.1,913.4L558.2,904.3L566.4,895.7L574.5,887.8L582.7,880.3L590.8,873.2L599.0,865.7L607.1,857.2L615.3,848.9L623.4,841.2L631.6,833.7L639.7,825.5L647.9,816.3L656.0,806.4L664.2,795.7L672.3,783.6L680.5,769.8L688.6,754.9L696.8,740.2L704.9,726.3L713.0,714.1L721.2,706.0L729.3,697.3L737.5,687.3L745.6,674.1L753.8,661.2L761.9,651.0L770.1,641.7L778.2,633.5L786.4,625.7L794.5,617.7L802.7,609.5L810.8,601.1L819.0,592.6L827.1,584.4L835.3,575.9L843.4,567.2L851.6,558.1L859.7,548.5L867.8,538.4L876.0,528.2L884.1,518.3L892.3,508.7L900.4,498.7L908.6,488.3L916.7,477.8L924.9,467.4L933.0,456.9L941.2,446.8L949.3,438.6L957.5,430.3L965.6,418.8L973.8,407.8L981.9,397.9L990.1,388.5L998.2,381.4L1006.4,377.2L1014.5,374.8L1022.7,373.2L1030.8,371.0L1038.9,363.5L1047.1,355.4L1055.2,348.9L1063.4,343.5L1071.5,339.1L1079.7,334.3L1087.8,328.6L1096.0,321.9L1104.1,313.9L1112.3,304.9L1120.4,296.1L1128.6,288.4L1136.7,282.1L1144.9,277.1L1153.0,272.3L1161.2,267.9L1169.3,264.5L1177.5,262.2L1185.6,260.4L1193.7,259.2L1201.9,258.7L1210.0,258.3L1218.2,257.8L1226.3,257.2L1234.5,256.5L1242.6,255.7L1250.8,254.8L1258.9,254.2L1267.1,253.6L1275.2,247.8L1283.4,248.0L1291.5,245.7L1299.7,243.2L1307.8,242.6L1316.0,241.7L1324.1,241.4L1332.3,242.3L1340.4,242.8L1348.5,241.8L1356.7,241.0L1364.8,240.4L1373.0,237.9L1381.1,239.3L1389.3,241.2L1397.4,243.4L1405.6,246.0L1413.7,249.0L1421.9,252.6L1430.0,256.5L1438.2,261.5L1446.3,270.2L1454.5,278.9L1462.6,284.2L1470.8,288.2L1478.9,291.5L1487.1,296.2L1495.2,303.5L1503.3,312.1L1511.5,320.9L1519.6,330.1L1527.8,339.7L1535.9,349.6L1544.1,361.6L1552.2,370.5L1560.4,379.5L1568.5,392.8L1576.7,409.0L1584.8,423.8L1593.0,436.8L1601.1,450.6L1609.3,464.9L1617.4,479.9L1625.6,495.6L1633.7,511.9L1641.9,528.1L1650.0,542.6L1658.1,558.9L1666.3,575.7L1674.4,592.7L1682.6,609.7L1690.7,626.6L1698.9,643.1L1707.0,659.5L1715.2,675.3L1723.3,690.4L1727.4,697.7"/>
<path stroke="#a7d7e3" stroke-width="1.7" d="M240.5,686.6L248.6,700.1L256.8,713.5L264.9,727.7L273.1,742.7L281.2,757.3L289.4,771.3L297.5,785.6L305.7,801.7L313.8,820.9L322.0,843.8L330.1,873.4L338.3,892.7L346.4,905.5L354.6,916.3L362.7,924.9L370.9,931.7L379.0,937.7L387.2,943.2L395.3,948.6L403.4,953.2L411.6,956.9L419.7,960.0L427.9,962.3L436.0,962.8L444.2,962.6L452.3,963.5L460.5,964.0L468.6,962.7L476.8,959.2L484.9,953.9L493.1,949.1L501.2,944.9L509.4,939.6L517.5,931.9L525.7,922.7L533.8,914.2L542.0,906.5L550.1,898.4L558.2,889.5L566.4,880.4L574.5,871.7L582.7,863.6L590.8,856.0L599.0,848.5L607.1,841.4L615.3,835.0L623.4,828.6L631.6,821.4L639.7,813.4L647.9,804.6L656.0,794.4L664.2,782.9L672.3,770.0L680.5,755.3L688.6,739.1L696.8,723.0L704.9,708.4L713.0,695.4L721.2,684.3L729.3,674.0L737.5,663.9L745.6,653.6L753.8,643.4L761.9,633.6L770.1,623.9L778.2,614.7L786.4,606.7L794.5,599.7L802.7,592.0L810.8,583.2L819.0,574.2L827.1,565.8L835.3,557.5L843.4,548.9L851.6,540.3L859.7,531.5L867.8,522.1L876.0,512.4L884.1,502.8L892.3,492.8L900.4,482.5L908.6,471.7L916.7,460.7L924.9,450.5L933.0,440.8L941.2,430.8L949.3,419.5L957.5,407.3L965.6,395.3L973.8,382.9L981.9,371.0L990.1,362.7L998.2,359.0L1006.4,357.9L1014.5,358.3L1022.7,358.4L1030.8,356.7L1038.9,348.7L1047.1,341.3L1055.2,337.4L1063.4,334.0L1071.5,329.2L1079.7,322.9L1087.8,315.7L1096.0,308.1L1104.1,299.7L1112.3,290.7L1120.4,281.4L1128.6,272.9L1136.7,266.3L1144.9,261.7L1153.0,257.2L1161.2,251.9L1169.3,246.3L1177.5,242.0L1185.6,239.8L1193.7,239.9L1201.9,240.7L1210.0,241.2L1218.2,241.2L1226.3,241.1L1234.5,240.0L1242.6,237.9L1250.8,235.7L1258.9,233.5L1267.1,231.7L1275.2,224.5L1283.4,215.4L1291.5,208.2L1299.7,200.0L1307.8,193.2L1316.0,190.1L1324.1,191.2L1332.3,193.5L1340.4,195.9L1348.5,198.1L1356.7,202.1L1364.8,210.4L1373.0,218.8L1381.1,223.4L1389.3,226.4L1397.4,228.7L1405.6,229.9L1413.7,230.8L1421.9,232.8L1430.0,236.0L1438.2,240.5L1446.3,248.0L1454.5,257.1L1462.6,264.5L1470.8,269.4L1478.9,273.9L1487.1,279.9L1495.2,289.1L1503.3,299.2L1511.5,307.8L1519.6,315.7L1527.8,324.1L1535.9,332.8L1544.1,341.1L1552.2,349.1L1560.4,358.1L1568.5,368.4L1576.7,379.1L1584.8,390.0L1593.0,403.1L1601.1,419.7L1609.3,437.1L1617.4,452.4L1625.6,466.8L1633.7,483.0L1641.9,501.2L1650.0,520.0L1658.1,538.6L1666.3,557.4L1674.4,575.8L1682.6,592.8L1690.7,609.0L1698.9,625.9L1707.0,642.9L1715.2,659.1L1723.3,674.1L1727.4,681.3"/>
<path stroke="#b2dce4" stroke-width="1.7" d="M240.5,776.4L248.6,789.8L256.8,802.4L264.9,814.2L273.1,824.8L281.2,834.4L289.4,842.5L297.5,849.9L305.7,859.4L313.8,871.9L322.0,884.3L330.1,902.6L338.3,920.0L346.4,932.3L354.6,942.6L362.7,951.2L370.9,959.1L379.0,966.4L387.2,972.9L395.3,978.6L403.4,983.3L411.6,986.6L419.7,989.0L427.9,991.5L436.0,994.0L444.2,998.2L452.3,999.4L460.5,996.3L468.6,992.3L476.8,989.6L484.9,986.7L493.1,985.0L501.2,981.9L509.4,977.6L517.5,972.9L525.7,967.3L533.8,958.0L542.0,945.6L550.1,934.7L558.2,925.8L566.4,916.6L574.5,907.5L582.7,899.7L590.8,890.3L599.0,880.2L607.1,871.4L615.3,863.5L623.4,856.1L631.6,848.9L639.7,841.2L647.9,832.6L656.0,822.9L664.2,812.4L672.3,800.7L680.5,787.4L688.6,778.0L696.8,770.9L704.9,762.6L713.0,753.4L721.2,745.3L729.3,738.8L737.5,731.5L745.6,721.6L753.8,711.7L761.9,702.4L770.1,692.0L778.2,681.3L786.4,670.5L794.5,659.7L802.7,649.5L810.8,638.5L819.0,626.5L827.1,615.2L835.3,603.7L843.4,589.8L851.6,575.0L859.7,564.7L867.8,554.5L876.0,544.4L884.1,534.4L892.3,524.1L900.4,513.7L908.6,503.4L916.7,493.1L924.9,482.7L933.0,473.4L941.2,466.0L949.3,459.6L957.5,453.1L965.6,445.2L973.8,437.1L981.9,429.8L990.1,424.3L998.2,419.6L1006.4,413.9L1014.5,406.7L1022.7,398.7L1030.8,393.1L1038.9,389.6L1047.1,385.0L1055.2,379.2L1063.4,372.5L1071.5,365.1L1079.7,357.9L1087.8,352.2L1096.0,347.5L1104.1,342.3L1112.3,335.9L1120.4,328.8L1128.6,322.2L1136.7,315.8L1144.9,309.3L1153.0,303.9L1161.2,297.7L1169.3,289.9L1177.5,283.0L1185.6,277.6L1193.7,274.3L1201.9,272.5L1210.0,271.1L1218.2,270.3L1226.3,269.4L1234.5,268.3L1242.6,267.0L1250.8,265.8L1258.9,264.4L1267.1,262.7L1275.2,256.4L1283.4,248.2L1291.5,241.3L1299.7,233.8L1307.8,228.0L1316.0,226.2L1324.1,228.8L1332.3,231.2L1340.4,232.3L1348.5,231.7L1356.7,234.8L1364.8,241.3L1373.0,247.7L1381.1,251.0L1389.3,253.5L1397.4,256.4L1405.6,259.6L1413.7,262.8L1421.9,266.0L1430.0,269.4L1438.2,273.6L1446.3,279.7L1454.5,286.5L1462.6,292.5L1470.8,297.1L1478.9,301.8L1487.1,307.4L1495.2,314.1L1503.3,321.8L1511.5,330.1L1519.6,338.7L1527.8,347.9L1535.9,357.5L1544.1,366.9L1552.2,375.8L1560.4,385.3L1568.5,395.9L1576.7,408.0L1584.8,421.4L1593.0,436.3L1601.1,452.9L1609.3,469.6L1617.4,484.9L1625.6,499.2L1633.7,514.3L1641.9,531.1L1650.0,549.1L1658.1,566.8L1666.3,584.0L1674.4,601.7L1682.6,619.9L1690.7,637.7L1698.9,654.7L1707.0,671.2L1715.2,687.2L1723.3,703.0L1727.4,711.0"/>
<path stroke="#c1e3e9" stroke-width="1.7" d="M240.5,773.6L248.6,786.9L256.8,799.4L264.9,811.2L273.1,822.1L281.2,833.0L289.4,844.3L297.5,854.9L305.7,863.6L313.8,872.2L322.0,884.7L330.1,899.4L338.3,912.4L346.4,921.9L354.6,928.7L362.7,935.5L370.9,942.0L379.0,947.4L387.2,952.9L395.3,960.5L403.4,970.2L411.6,979.1L419.7,985.0L427.9,986.9L436.0,986.3L444.2,986.5L452.3,988.0L460.5,987.9L468.6,984.5L476.8,979.5L484.9,976.2L493.1,975.3L501.2,973.9L509.4,972.8L517.5,973.1L525.7,972.8L533.8,969.7L542.0,962.7L550.1,954.1L558.2,945.3L566.4,938.0L574.5,934.0L582.7,930.5L590.8,925.7L599.0,920.7L607.1,914.6L615.3,906.6L623.4,899.3L631.6,894.1L639.7,888.9L647.9,881.9L656.0,873.3L664.2,862.8L672.3,851.0L680.5,839.1L688.6,827.8L696.8,818.7L704.9,811.3L713.0,803.2L721.2,793.8L729.3,783.3L737.5,771.1L745.6,758.3L753.8,743.9L761.9,726.7L770.1,709.4L778.2,696.0L786.4,689.3L794.5,686.0L802.7,681.6L810.8,674.6L819.0,665.4L827.1,654.4L835.3,643.1L843.4,633.7L851.6,626.3L859.7,618.7L867.8,609.9L876.0,599.7L884.1,587.7L892.3,575.2L900.4,563.8L908.6,555.0L916.7,546.8L924.9,536.4L933.0,525.0L941.2,513.9L949.3,503.7L957.5,494.7L965.6,483.4L973.8,468.7L981.9,454.4L990.1,443.7L998.2,436.5L1006.4,429.7L1014.5,422.0L1022.7,415.1L1030.8,408.5L1038.9,399.2L1047.1,387.6L1055.2,376.7L1063.4,368.2L1071.5,360.8L1079.7,353.5L1087.8,346.6L1096.0,341.4L1104.1,337.0L1112.3,331.5L1120.4,324.8L1128.6,317.7L1136.7,311.3L1144.9,305.1L1153.0,299.3L1161.2,295.2L1169.3,292.3L1177.5,289.6L1185.6,287.8L1193.7,285.4L1201.9,279.9L1210.0,272.7L1218.2,267.7L1226.3,266.7L1234.5,267.1L1242.6,266.0L1250.8,262.5L1258.9,258.9L1267.1,257.2L1275.2,256.2L1283.4,253.6L1291.5,249.3L1299.7,244.5L1307.8,242.8L1316.0,245.5L1324.1,250.2L1332.3,253.6L1340.4,254.6L1348.5,254.9L1356.7,254.8L1364.8,255.5L1373.0,257.9L1381.1,260.4L1389.3,262.2L1397.4,263.5L1405.6,266.5L1413.7,273.0L1421.9,281.7L1430.0,287.8L1438.2,288.5L1446.3,288.6L1454.5,293.5L1462.6,303.0L1470.8,315.6L1478.9,327.6L1487.1,337.4L1495.2,344.8L1503.3,351.2L1511.5,361.3L1519.6,375.4L1527.8,389.5L1535.9,402.6L1544.1,415.6L1552.2,427.8L1560.4,439.4L1568.5,452.5L1576.7,470.7L1584.8,490.0L1593.0,504.8L1601.1,518.8L1609.3,536.4L1617.4,556.1L1625.6,576.6L1633.7,599.0L1641.9,622.4L1650.0,644.2L1658.1,663.6L1666.3,683.2L1674.4,705.7L1682.6,729.3L1690.7,752.5L1698.9,773.9L1707.0,793.5L1715.2,814.8L1723.3,841.0L1727.4,855.7"/>
<path stroke="#cfe9ed" stroke-width="1.7" d="M240.5,832.6L248.6,847.0L256.8,859.8L264.9,871.9L273.1,884.3L281.2,896.3L289.4,905.6L297.5,912.2L305.7,920.8L313.8,932.4L322.0,945.1L330.1,957.7L338.3,968.9L346.4,978.6L354.6,986.7L362.7,992.0L370.9,994.0L379.0,994.4L387.2,995.1L395.3,998.2L403.4,1004.4L411.6,1012.2L419.7,1016.8L427.9,1017.3L436.0,1016.7L444.2,1018.0L452.3,1020.9L460.5,1022.8L468.6,1023.3L476.8,1022.3L484.9,1019.7L493.1,1016.7L501.2,1015.3L509.4,1014.5L517.5,1012.4L525.7,1009.4L533.8,1004.8L542.0,996.6L550.1,986.0L558.2,974.4L566.4,963.9L574.5,956.1L582.7,950.6L590.8,946.4L599.0,942.8L607.1,938.9L615.3,933.2L623.4,926.0L631.6,917.4L639.7,907.9L647.9,899.8L656.0,891.6L664.2,881.2L672.3,870.2L680.5,861.4L688.6,854.5L696.8,847.9L704.9,840.1L713.0,831.5L721.2,822.7L729.3,813.3L737.5,803.6L745.6,793.8L753.8,784.0L761.9,774.3L770.1,764.9L778.2,755.7L786.4,746.8L794.5,737.8L802.7,727.1L810.8,713.0L819.0,700.2L827.1,687.2L835.3,673.0L843.4,658.8L851.6,648.2L859.7,640.8L867.8,635.2L876.0,629.0L884.1,618.3L892.3,603.5L900.4,589.4L908.6,579.6L916.7,572.9L924.9,565.9L933.0,557.2L941.2,548.6L949.3,542.0L957.5,535.1L965.6,526.1L973.8,516.2L981.9,505.5L990.1,494.4L998.2,485.7L1006.4,478.0L1014.5,469.2L1022.7,461.1L1030.8,454.3L1038.9,448.0L1047.1,441.0L1055.2,433.1L1063.4,424.3L1071.5,415.2L1079.7,406.8L1087.8,399.1L1096.0,391.3L1104.1,382.6L1112.3,374.6L1120.4,368.4L1128.6,362.9L1136.7,355.2L1144.9,345.7L1153.0,337.8L1161.2,333.3L1169.3,329.9L1177.5,325.3L1185.6,319.9L1193.7,315.1L1201.9,311.8L1210.0,308.8L1218.2,305.6L1226.3,303.8L1234.5,303.7L1242.6,303.7L1250.8,303.1L1258.9,302.9L1267.1,302.5L1275.2,299.5L1283.4,294.1L1291.5,288.5L1299.7,284.1L1307.8,280.9L1316.0,278.8L1324.1,277.8L1332.3,277.9L1340.4,278.8L1348.5,278.7L1356.7,277.0L1364.8,274.3L1373.0,271.4L1381.1,269.6L1389.3,269.8L1397.4,271.7L1405.6,274.1L1413.7,276.5L1421.9,279.4L1430.0,283.1L1438.2,289.0L1446.3,297.2L1454.5,307.1L1462.6,318.6L1470.8,328.7L1478.9,336.9L1487.1,345.3L1495.2,354.1L1503.3,363.3L1511.5,373.9L1519.6,387.0L1527.8,401.6L1535.9,415.1L1544.1,426.4L1552.2,438.6L1560.4,454.6L1568.5,471.0L1576.7,485.5L1584.8,497.0L1593.0,504.7L1601.1,513.7L1609.3,528.0L1617.4,544.3L1625.6,559.5L1633.7,574.6L1641.9,593.0L1650.0,616.5L1658.1,641.8L1666.3,664.6L1674.4,686.0L1682.6,708.2L1690.7,730.8L1698.9,753.6L1707.0,777.9L1715.2,805.2L1723.3,835.2L1727.4,850.1"/>
<path stroke="#def0f2" stroke-width="1.7" d="M240.5,863.0L248.6,877.6L256.8,890.8L264.9,903.5L273.1,913.6L281.2,922.3L289.4,932.9L297.5,944.3L305.7,956.6L313.8,967.3L322.0,973.9L330.1,979.7L338.3,986.5L346.4,993.5L354.6,1000.2L362.7,1005.3L370.9,1009.4L379.0,1012.4L387.2,1012.7L395.3,1012.9L403.4,1016.0L411.6,1019.4L419.7,1023.2L427.9,1028.4L436.0,1030.0L444.2,1031.3L452.3,1031.5L460.5,1030.9L468.6,1030.0L476.8,1029.2L484.9,1028.3L493.1,1026.0L501.2,1021.9L509.4,1016.2L517.5,1009.9L525.7,1005.1L533.8,1001.8L542.0,997.9L550.1,992.0L558.2,986.8L566.4,982.7L574.5,978.1L582.7,972.8L590.8,965.7L599.0,957.0L607.1,946.8L615.3,937.7L623.4,930.9L631.6,923.8L639.7,913.2L647.9,900.9L656.0,889.3L664.2,879.2L672.3,870.2L680.5,860.5L688.6,850.7L696.8,840.5L704.9,832.0L713.0,822.4L721.2,811.1L729.3,799.5L737.5,788.3L745.6,777.6L753.8,768.6L761.9,761.3L770.1,753.2L778.2,743.1L786.4,731.0L794.5,719.1L802.7,708.9L810.8,699.3L819.0,688.8L827.1,678.2L835.3,670.2L843.4,665.1L851.6,659.2L859.7,651.4L867.8,642.8L876.0,633.8L884.1,625.8L892.3,620.8L900.4,619.0L908.6,615.4L916.7,607.9L924.9,597.4L933.0,586.2L941.2,577.7L949.3,571.4L957.5,564.6L965.6,555.9L973.8,544.3L981.9,529.7L990.1,513.4L998.2,498.5L1006.4,486.4L1014.5,475.9L1022.7,464.1L1030.8,450.7L1038.9,439.7L1047.1,432.8L1055.2,428.2L1063.4,424.2L1071.5,419.5L1079.7,413.0L1087.8,404.1L1096.0,394.3L1104.1,384.5L1112.3,375.2L1120.4,367.2L1128.6,360.1L1136.7,354.5L1144.9,351.1L1153.0,348.1L1161.2,343.1L1169.3,336.3L1177.5,329.5L1185.6,324.3L1193.7,321.1L1201.9,319.8L1210.0,319.5L1218.2,318.5L1226.3,316.2L1234.5,311.9L1242.6,306.9L1250.8,304.1L1258.9,304.6L1267.1,306.0L1275.2,306.0L1283.4,305.6L1291.5,304.7L1299.7,301.1L1307.8,294.4L1316.0,288.4L1324.1,287.0L1332.3,289.9L1340.4,293.6L1348.5,294.3L1356.7,293.1L1364.8,292.0L1373.0,293.0L1381.1,296.1L1389.3,298.3L1397.4,297.6L1405.6,295.4L1413.7,294.7L1421.9,296.4L1430.0,300.5L1438.2,305.5L1446.3,309.9L1454.5,313.6L1462.6,317.6L1470.8,322.7L1478.9,328.8L1487.1,336.3L1495.2,345.3L1503.3,353.6L1511.5,360.7L1519.6,368.5L1527.8,378.6L1535.9,391.2L1544.1,406.1L1552.2,422.0L1560.4,438.5L1568.5,455.2L1576.7,472.0L1584.8,491.0L1593.0,511.6L1601.1,531.3L1609.3,550.1L1617.4,569.7L1625.6,588.8L1633.7,607.4L1641.9,625.9L1650.0,646.2L1658.1,668.0L1666.3,689.1L1674.4,711.2L1682.6,733.1L1690.7,753.8L1698.9,773.2L1707.0,791.0L1715.2,809.2L1723.3,829.8L1727.4,841.2"/>
<path stroke="#e9f5f6" stroke-width="1.7" d="M240.5,853.1L248.6,865.4L256.8,876.7L264.9,885.5L273.1,893.6L281.2,902.7L289.4,914.6L297.5,928.1L305.7,940.0L313.8,947.8L322.0,951.9L330.1,955.2L338.3,959.9L346.4,965.9L354.6,971.5L362.7,976.6L370.9,982.4L379.0,990.1L387.2,997.2L395.3,1001.0L403.4,1002.8L411.6,1005.0L419.7,1007.8L427.9,1010.8L436.0,1016.3L444.2,1023.6L452.3,1029.0L460.5,1030.7L468.6,1029.8L476.8,1029.4L484.9,1030.1L493.1,1028.8L501.2,1024.2L509.4,1018.4L517.5,1013.6L525.7,1009.9L533.8,1005.1L542.0,997.4L550.1,987.7L558.2,977.7L566.4,968.5L574.5,960.8L582.7,952.6L590.8,943.9L599.0,937.3L607.1,932.1L615.3,923.7L623.4,910.5L631.6,895.0L639.7,880.2L647.9,868.5L656.0,860.5L664.2,853.5L672.3,844.6L680.5,834.5L688.6,823.4L696.8,811.1L704.9,798.3L713.0,785.4L721.2,774.9L729.3,769.2L737.5,764.3L745.6,756.0L753.8,744.4L761.9,732.4L770.1,721.5L778.2,710.1L786.4,697.8L794.5,687.0L802.7,676.8L810.8,667.0L819.0,658.6L827.1,651.3L835.3,644.5L843.4,638.0L851.6,631.4L859.7,623.2L867.8,612.6L876.0,601.5L884.1,591.3L892.3,581.4L900.4,572.2L908.6,565.8L916.7,560.2L924.9,551.3L933.0,539.5L941.2,527.9L949.3,518.8L957.5,510.7L965.6,501.7L973.8,493.4L981.9,486.5L990.1,480.5L998.2,475.0L1006.4,469.2L1014.5,462.5L1022.7,455.5L1030.8,447.8L1038.9,440.4L1047.1,434.8L1055.2,430.0L1063.4,424.9L1071.5,419.1L1079.7,412.4L1087.8,404.5L1096.0,395.8L1104.1,387.3L1112.3,378.1L1120.4,368.5L1128.6,360.9L1136.7,355.1L1144.9,350.0L1153.0,344.6L1161.2,337.8L1169.3,330.3L1177.5,325.5L1185.6,324.2L1193.7,323.8L1201.9,321.2L1210.0,316.6L1218.2,312.0L1226.3,309.1L1234.5,308.7L1242.6,309.4L1250.8,309.9L1258.9,307.0L1267.1,300.9L1275.2,295.9L1283.4,294.3L1291.5,294.1L1299.7,294.2L1307.8,293.6L1316.0,291.6L1324.1,288.1L1332.3,285.0L1340.4,284.2L1348.5,284.3L1356.7,285.0L1364.8,287.5L1373.0,290.1L1381.1,290.8L1389.3,291.0L1397.4,291.2L1405.6,289.9L1413.7,287.2L1421.9,286.0L1430.0,286.6L1438.2,288.3L1446.3,291.7L1454.5,296.2L1462.6,300.9L1470.8,305.2L1478.9,310.2L1487.1,317.9L1495.2,327.5L1503.3,336.5L1511.5,343.8L1519.6,350.5L1527.8,357.3L1535.9,365.1L1544.1,373.5L1552.2,381.8L1560.4,391.4L1568.5,404.0L1576.7,418.7L1584.8,435.1L1593.0,452.0L1601.1,470.3L1609.3,489.0L1617.4,504.7L1625.6,519.0L1633.7,536.3L1641.9,556.7L1650.0,577.4L1658.1,598.1L1666.3,619.5L1674.4,640.4L1682.6,659.7L1690.7,677.3L1698.9,694.0L1707.0,710.2L1715.2,726.4L1723.3,743.0L1727.4,751.8"/>
<path stroke="#f4fafa" stroke-width="1.7" d="M240.5,801.2L248.6,811.0L256.8,821.4L264.9,831.4L273.1,840.4L281.2,848.9L289.4,856.8L297.5,863.4L305.7,869.1L313.8,876.0L322.0,886.0L330.1,897.7L338.3,908.7L346.4,917.8L354.6,925.7L362.7,934.3L370.9,943.1L379.0,951.0L387.2,956.1L395.3,958.8L403.4,961.0L411.6,965.7L419.7,972.2L427.9,977.0L436.0,980.0L444.2,981.8L452.3,982.7L460.5,982.7L468.6,982.2L476.8,980.4L484.9,977.2L493.1,975.6L501.2,976.2L509.4,974.9L517.5,971.0L525.7,966.4L533.8,961.1L542.0,955.5L550.1,950.1L558.2,943.9L566.4,936.3L574.5,927.8L582.7,919.1L590.8,911.8L599.0,906.8L607.1,902.1L615.3,893.7L623.4,881.9L631.6,870.4L639.7,860.6L647.9,850.8L656.0,838.7L664.2,826.1L672.3,815.4L680.5,804.9L688.6,794.7L696.8,785.3L704.9,774.5L713.0,762.1L721.2,751.0L729.3,742.0L737.5,733.8L745.6,725.0L753.8,714.4L761.9,703.4L770.1,694.1L778.2,685.8L786.4,677.7L794.5,669.1L802.7,659.9L810.8,652.4L819.0,647.3L827.1,640.7L835.3,632.1L843.4,624.3L851.6,616.6L859.7,606.9L867.8,595.8L876.0,584.5L884.1,573.0L892.3,561.7L900.4,551.4L908.6,542.2L916.7,536.2L924.9,532.3L933.0,526.0L941.2,516.6L949.3,506.8L957.5,497.4L965.6,489.4L973.8,483.9L981.9,480.1L990.1,476.5L998.2,470.7L1006.4,462.6L1014.5,454.2L1022.7,444.8L1030.8,434.1L1038.9,424.5L1047.1,416.7L1055.2,409.2L1063.4,401.1L1071.5,390.5L1079.7,379.2L1087.8,370.9L1096.0,364.1L1104.1,356.9L1112.3,348.1L1120.4,336.6L1128.6,324.3L1136.7,314.9L1144.9,310.5L1153.0,308.6L1161.2,306.3L1169.3,303.1L1177.5,300.8L1185.6,301.5L1193.7,302.5L1201.9,300.1L1210.0,295.0L1218.2,290.9L1226.3,289.7L1234.5,291.6L1242.6,293.3L1250.8,291.5L1258.9,287.7L1267.1,283.9L1275.2,282.4L1283.4,282.9L1291.5,284.7L1299.7,288.6L1307.8,291.3L1316.0,290.5L1324.1,287.5L1332.3,283.1L1340.4,279.0L1348.5,276.7L1356.7,276.6L1364.8,277.9L1373.0,279.3L1381.1,279.5L1389.3,277.5L1397.4,273.6L1405.6,271.1L1413.7,271.3L1421.9,272.0L1430.0,272.8L1438.2,274.6L1446.3,277.3L1454.5,282.3L1462.6,289.8L1470.8,297.8L1478.9,305.6L1487.1,313.1L1495.2,320.4L1503.3,326.6L1511.5,333.8L1519.6,344.3L1527.8,356.0L1535.9,367.5L1544.1,379.7L1552.2,391.5L1560.4,402.5L1568.5,413.1L1576.7,425.4L1584.8,438.4L1593.0,448.1L1601.1,457.0L1609.3,467.1L1617.4,479.3L1625.6,494.1L1633.7,509.5L1641.9,525.2L1650.0,543.2L1658.1,563.1L1666.3,582.1L1674.4,599.0L1682.6,616.9L1690.7,638.6L1698.9,660.6L1707.0,679.7L1715.2,697.5L1723.3,716.2L1727.4,726.5"/>
<path stroke="#f8fcfc" stroke-width="1.7" d="M240.5,788.1L248.6,800.6L256.8,814.4L264.9,826.1L273.1,836.5L281.2,846.4L289.4,854.1L297.5,860.0L305.7,867.2L313.8,875.5L322.0,883.2L330.1,890.7L338.3,900.2L346.4,912.4L354.6,923.5L362.7,930.0L370.9,935.5L379.0,941.8L387.2,947.7L395.3,953.3L403.4,958.0L411.6,961.8L419.7,964.0L427.9,966.2L436.0,968.1L444.2,971.7L452.3,976.0L460.5,976.4L468.6,973.9L476.8,971.1L484.9,968.8L493.1,965.3L501.2,961.0L509.4,957.7L517.5,954.8L525.7,951.0L533.8,946.4L542.0,942.5L550.1,938.7L558.2,933.9L566.4,928.3L574.5,921.7L582.7,914.6L590.8,908.6L599.0,903.0L607.1,897.8L615.3,893.0L623.4,887.5L631.6,879.4L639.7,868.3L647.9,855.8L656.0,843.2L664.2,830.9L672.3,818.4L680.5,806.1L688.6,795.1L696.8,786.1L704.9,778.3L713.0,769.8L721.2,758.9L729.3,746.3L737.5,735.5L745.6,726.7L753.8,718.9L761.9,711.3L770.1,703.1L778.2,694.0L786.4,683.2L794.5,670.3L802.7,656.8L810.8,643.8L819.0,629.9L827.1,614.6L835.3,599.4L843.4,586.8L851.6,576.8L859.7,566.5L867.8,554.4L876.0,544.0L884.1,538.2L892.3,534.2L900.4,529.0L908.6,523.2L916.7,516.3L924.9,506.4L933.0,495.0L941.2,485.1L949.3,478.0L957.5,472.1L965.6,464.6L973.8,455.9L981.9,446.7L990.1,437.1L998.2,426.8L1006.4,415.7L1014.5,403.6L1022.7,390.9L1030.8,380.0L1038.9,372.0L1047.1,365.8L1055.2,360.5L1063.4,356.3L1071.5,351.4L1079.7,345.4L1087.8,340.6L1096.0,336.2L1104.1,330.5L1112.3,324.5L1120.4,318.1L1128.6,312.0L1136.7,308.7L1144.9,307.7L1153.0,304.7L1161.2,299.2L1169.3,293.9L1177.5,290.5L1185.6,290.0L1193.7,293.3L1201.9,295.7L1210.0,293.3L1218.2,288.3L1226.3,284.1L1234.5,281.4L1242.6,279.2L1250.8,277.5L1258.9,277.3L1267.1,276.9L1275.2,274.3L1283.4,270.6L1291.5,266.4L1299.7,262.3L1307.8,260.4L1316.0,262.2L1324.1,266.1L1332.3,268.0L1340.4,269.1L1348.5,270.9L1356.7,273.6L1364.8,276.5L1373.0,278.5L1381.1,280.3L1389.3,282.6L1397.4,283.8L1405.6,282.0L1413.7,276.2L1421.9,269.6L1430.0,267.1L1438.2,270.9L1446.3,277.7L1454.5,285.8L1462.6,294.5L1470.8,302.1L1478.9,308.3L1487.1,314.1L1495.2,320.7L1503.3,328.7L1511.5,337.1L1519.6,346.5L1527.8,358.7L1535.9,373.4L1544.1,387.8L1552.2,402.1L1560.4,417.4L1568.5,432.1L1576.7,447.6L1584.8,466.7L1593.0,488.8L1601.1,511.6L1609.3,534.7L1617.4,558.0L1625.6,581.1L1633.7,603.5L1641.9,625.6L1650.0,648.9L1658.1,673.9L1666.3,698.7L1674.4,722.3L1682.6,746.2L1690.7,770.6L1698.9,795.3L1707.0,820.7L1715.2,846.0L1723.3,870.6L1727.4,883.1"/>
<path stroke="#fbfdfd" stroke-width="1.7" d="M240.5,884.2L248.6,896.5L256.8,907.2L264.9,915.1L273.1,920.6L281.2,926.9L289.4,936.3L297.5,947.1L305.7,956.2L313.8,965.0L322.0,975.8L330.1,986.4L338.3,995.0L346.4,1001.0L354.6,1005.0L362.7,1008.6L370.9,1012.8L379.0,1017.0L387.2,1020.9L395.3,1024.5L403.4,1028.4L411.6,1033.0L419.7,1037.1L427.9,1039.1L436.0,1039.9L444.2,1040.4L452.3,1040.4L460.5,1040.8L468.6,1042.1L476.8,1043.8L484.9,1046.1L493.1,1045.3L501.2,1043.9L509.4,1040.4L517.5,1034.9L525.7,1030.7L533.8,1025.0L542.0,1017.0L550.1,1010.9L558.2,1005.9L566.4,1001.2L574.5,996.7L582.7,992.3L590.8,987.5L599.0,981.7L607.1,974.9L615.3,967.7L623.4,960.9L631.6,954.4L639.7,945.7L647.9,929.0L656.0,913.4L664.2,901.3L672.3,890.8L680.5,880.8L688.6,870.7L696.8,861.2L704.9,852.1L713.0,843.1L721.2,833.8L729.3,823.8L737.5,810.0L745.6,797.6L753.8,787.9L761.9,777.9L770.1,765.9L778.2,753.5L786.4,740.5L794.5,727.8L802.7,716.2L810.8,704.1L819.0,689.9L827.1,675.5L835.3,663.5L843.4,654.4L851.6,648.6L859.7,643.7L867.8,636.3L876.0,626.7L884.1,617.9L892.3,609.7L900.4,600.8L908.6,591.0L916.7,580.8L924.9,571.9L933.0,564.5L941.2,555.8L949.3,547.0L957.5,540.6L965.6,534.5L973.8,527.4L981.9,517.5L990.1,506.0L998.2,497.0L1006.4,492.9L1014.5,491.0L1022.7,486.5L1030.8,479.0L1038.9,471.4L1047.1,464.2L1055.2,457.7L1063.4,452.2L1071.5,445.4L1079.7,436.3L1087.8,425.7L1096.0,414.8L1104.1,404.5L1112.3,395.9L1120.4,388.5L1128.6,382.6L1136.7,378.8L1144.9,375.1L1153.0,369.8L1161.2,363.1L1169.3,354.6L1177.5,345.6L1185.6,337.6L1193.7,330.7L1201.9,325.1L1210.0,320.7L1218.2,316.5L1226.3,311.9L1234.5,308.7L1242.6,308.8L1250.8,309.6L1258.9,309.9L1267.1,309.8L1275.2,309.3L1283.4,308.2L1291.5,305.2L1299.7,301.2L1307.8,298.7L1316.0,296.6L1324.1,293.0L1332.3,290.5L1340.4,290.7L1348.5,291.1L1356.7,290.4L1364.8,289.9L1373.0,288.8L1381.1,287.4L1389.3,286.8L1397.4,286.9L1405.6,288.0L1413.7,290.6L1421.9,293.6L1430.0,297.1L1438.2,302.5L1446.3,310.7L1454.5,320.7L1462.6,329.0L1470.8,332.3L1478.9,333.8L1487.1,339.1L1495.2,348.6L1503.3,359.4L1511.5,371.6L1519.6,385.8L1527.8,399.9L1535.9,412.9L1544.1,425.6L1552.2,439.3L1560.4,455.1L1568.5,471.7L1576.7,488.6L1584.8,506.1L1593.0,521.7L1601.1,534.8L1609.3,549.6L1617.4,567.7L1625.6,584.6L1633.7,599.7L1641.9,617.0L1650.0,637.8L1658.1,661.4L1666.3,688.4L1674.4,718.3L1682.6,747.9L1690.7,774.3L1698.9,798.1L1707.0,822.1L1715.2,848.2L1723.3,878.3L1727.4,894.4"/>
<path stroke="#fff" stroke-width="2" d="M240.5,906.2L244.6,914.9L248.6,922.4L252.7,929.3L256.8,935.7L260.9,941.6L264.9,947.2L269.0,952.5L273.1,957.5L277.2,962.3L281.2,966.9L285.3,971.3L289.4,975.5L293.5,979.6L297.5,983.7L301.6,987.5L305.7,990.8L309.8,993.7L313.8,996.3L317.9,999.0L322.0,1002.0L326.0,1005.1L330.1,1008.1L334.2,1010.9L338.3,1013.5L342.3,1016.0L346.4,1018.2L350.5,1020.4L354.6,1022.7L358.6,1025.0L362.7,1027.4L366.8,1029.6L370.9,1031.5L374.9,1033.2L379.0,1034.8L383.1,1036.4L387.2,1038.3L391.2,1040.3L395.3,1042.4L399.4,1044.4L403.4,1046.1L407.5,1047.7L411.6,1049.2L415.7,1050.6L419.7,1051.8L423.8,1053.0L427.9,1054.1L432.0,1055.1L436.0,1055.8L440.1,1056.3L444.2,1056.7L448.3,1056.8L452.3,1056.8L456.4,1056.4L460.5,1055.8L464.6,1054.8L468.6,1053.6L472.7,1052.4L476.8,1051.3L480.8,1050.3L484.9,1049.6L489.0,1049.1L493.1,1048.7L497.1,1048.5L501.2,1048.4L505.3,1047.9L509.4,1046.1L513.4,1043.4L517.5,1041.3L521.6,1039.4L525.7,1037.2L529.7,1034.5L533.8,1030.8L537.9,1026.4L542.0,1022.2L546.0,1018.9L550.1,1016.4L554.2,1014.2L558.2,1012.1L562.3,1009.9L566.4,1007.4L570.5,1004.6L574.5,1001.9L578.6,999.4L582.7,997.0L586.8,994.9L590.8,992.9L594.9,990.8L599.0,988.5L603.1,985.9L607.1,983.1L611.2,979.9L615.3,976.4L619.4,972.6L623.4,968.8L627.5,964.8L631.6,960.2L635.6,955.0L639.7,949.0L643.8,941.5L647.9,929.6L651.9,919.9L656.0,912.6L660.1,906.2L664.2,900.6L668.2,895.6L672.3,891.0L676.4,886.8L680.5,882.6L684.5,878.1L688.6,873.6L692.7,869.2L696.8,864.8L700.8,860.5L704.9,856.1L709.0,851.7L713.0,847.2L717.1,842.6L721.2,838.0L725.3,833.1L729.3,828.1L733.4,823.1L737.5,818.1L741.6,813.3L745.6,808.6L749.7,803.8L753.8,799.0L757.9,794.2L761.9,789.4L766.0,784.9L770.1,780.7L774.2,776.7L778.2,772.7L782.3,768.6L786.4,764.3L790.4,759.9L794.5,755.4L798.6,751.0L802.7,746.6L806.7,742.2L810.8,737.8L814.9,733.4L819.0,729.1L823.0,724.9L827.1,720.7L831.2,716.4L835.3,711.8L839.3,707.1L843.4,702.4L847.5,697.8L851.6,693.3L855.6,688.9L859.7,684.6L863.8,680.5L867.8,676.8L871.9,673.2L876.0,669.7L880.1,666.0L884.1,662.4L888.2,658.7L892.3,655.1L896.4,651.7L900.4,648.4L904.5,645.0L908.6,641.5L912.7,637.7L916.7,633.8L920.8,629.8L924.9,625.8L929.0,621.9L933.0,617.8L937.1,613.5L941.2,609.3L945.2,605.1L949.3,601.3L953.4,597.7L957.5,594.4L961.5,591.1L965.6,586.9L969.7,582.0L973.8,576.7L977.8,571.8L981.9,567.9L986.0,565.9L990.1,564.9L994.1,564.2L998.2,563.3L1002.3,562.0L1006.4,560.3L1010.4,558.1L1014.5,554.3L1018.6,548.6L1022.7,541.6L1026.7,533.9L1030.8,526.1L1034.9,519.1L1038.9,512.8L1043.0,506.7L1047.1,501.1L1051.2,496.0L1055.2,491.5L1059.3,487.6L1063.4,484.0L1067.5,480.5L1071.5,477.0L1075.6,473.4L1079.7,469.9L1083.8,466.5L1087.8,463.3L1091.9,460.3L1096.0,457.1L1100.1,453.8L1104.1,450.6L1108.2,447.8L1112.3,445.7L1116.3,444.3L1120.4,443.3L1124.5,442.3L1128.6,441.2L1132.6,439.9L1136.7,438.4L1140.8,436.7L1144.9,435.3L1148.9,434.3L1153.0,433.8L1157.1,433.6L1161.2,433.5L1165.2,432.9L1169.3,430.5L1173.4,426.2L1177.5,421.3L1181.5,416.1L1185.6,410.5L1189.7,405.3L1193.7,400.9L1197.8,396.9L1201.9,393.2L1206.0,389.6L1210.0,385.9L1214.1,382.1L1218.2,377.9L1222.3,373.5L1226.3,369.1L1230.4,364.8L1234.5,360.0L1238.6,355.2L1242.6,350.8L1246.7,347.3L1250.8,344.9L1254.9,343.6L1258.9,342.7L1263.0,341.9L1267.1,341.4L1271.1,341.2L1275.2,341.3L1279.3,341.5L1283.4,341.8L1287.4,342.4L1291.5,343.1L1295.6,344.0L1299.7,345.0L1303.7,346.0L1307.8,347.0L1311.9,348.1L1316.0,349.1L1320.0,350.1L1324.1,351.7L1328.2,353.7L1332.3,355.9L1336.3,357.6L1340.4,358.3L1344.5,357.9L1348.5,356.6L1352.6,355.0L1356.7,353.5L1360.8,352.4L1364.8,352.1L1368.9,352.7L1373.0,353.7L1377.1,355.0L1381.1,356.4L1385.2,357.7L1389.3,359.1L1393.4,360.9L1397.4,364.0L1401.5,367.8L1405.6,371.8L1409.7,375.4L1413.7,378.0L1417.8,379.3L1421.9,380.3L1425.9,381.4L1430.0,383.0L1434.1,384.7L1438.2,386.1L1442.2,386.9L1446.3,387.5L1450.4,387.8L1454.5,388.2L1458.5,388.7L1462.6,389.4L1466.7,390.4L1470.8,392.1L1474.8,394.3L1478.9,396.9L1483.0,400.3L1487.1,404.3L1491.1,408.1L1495.2,411.7L1499.3,415.1L1503.3,417.0L1507.4,417.9L1511.5,418.6L1515.6,419.5L1519.6,421.0L1523.7,422.8L1527.8,425.0L1531.9,428.9L1535.9,433.9L1540.0,438.7L1544.1,444.0L1548.2,449.5L1552.2,454.5L1556.3,458.9L1560.4,464.0L1564.5,471.6L1568.5,482.9L1572.6,494.8L1576.7,505.4L1580.7,515.8L1584.8,526.1L1588.9,536.8L1593.0,547.8L1597.0,558.7L1601.1,568.9L1605.2,578.2L1609.3,586.6L1613.3,594.9L1617.4,603.4L1621.5,612.7L1625.6,622.8L1629.6,633.4L1633.7,644.0L1637.8,654.2L1641.9,663.6L1645.9,672.5L1650.0,681.1L1654.1,689.8L1658.1,698.8L1662.2,708.2L1666.3,718.0L1670.4,728.0L1674.4,737.9L1678.5,747.7L1682.6,757.2L1686.7,766.7L1690.7,776.2L1694.8,785.5L1698.9,794.6L1703.0,803.2L1707.0,811.6L1711.1,819.8L1715.2,828.0L1719.3,836.3L1723.3,844.6L1727.4,852.9"/>
</g>
<line x1="1321" y1="155" x2="1321" y2="1135" stroke="#f00" stroke-width="1.3" stroke-dasharray="1.3 2.2"/>
<g class="c"><path stroke="#000" stroke-width="10" d="M1246.7,343.5L1250.8,342.7L1254.9,341.9L1258.9,341.1L1263.0,340.4L1267.1,339.6L1271.1,338.8L1275.2,337.9L1279.3,337.1L1283.4,336.4L1287.4,335.8L1291.5,335.3"/>
<path stroke="#f00" stroke-width="7" stroke-linecap="butt" d="M240.5,843.0L244.6,851.2L248.6,860.3L252.7,870.2L256.8,880.3L260.9,890.0L264.9,899.0L269.0,907.4L273.1,915.5L277.2,923.3L281.2,930.7L285.3,937.7L289.4,944.5L293.5,950.9L297.5,956.9L301.6,962.5L305.7,967.8L309.8,972.7L313.8,977.5L317.9,982.2L322.0,986.8L326.0,991.3L330.1,995.6L334.2,999.7L338.3,1003.7L342.3,1007.5L346.4,1011.1L350.5,1014.4L354.6,1017.6L358.6,1020.7L362.7,1023.5L366.8,1025.7L370.9,1027.2L374.9,1028.4L379.0,1029.4L383.1,1030.4L387.2,1031.7L391.2,1033.0L395.3,1034.4L399.4,1035.7L403.4,1036.9L407.5,1038.1L411.6,1039.3L415.7,1040.3L419.7,1041.1L423.8,1041.9L427.9,1042.5L432.0,1043.1L436.0,1043.5L440.1,1043.9L444.2,1044.3L448.3,1044.5L452.3,1044.5L456.4,1044.3L460.5,1044.0L464.6,1042.6L468.6,1039.7L472.7,1036.5L476.8,1033.9L480.8,1031.5L484.9,1029.2L489.0,1026.7L493.1,1024.0L497.1,1020.8L501.2,1017.4L505.3,1014.0L509.4,1010.8L513.4,1007.4L517.5,1004.2L521.6,1001.5L525.7,999.5L529.7,997.8L533.8,996.5L537.9,995.4L542.0,994.6L546.0,994.0L550.1,993.2L554.2,992.3L558.2,991.4L562.3,990.3L566.4,988.8L570.5,987.0L574.5,984.6L578.6,981.3L582.7,976.6L586.8,971.3L590.8,966.1L594.9,960.6L599.0,954.9L603.1,948.9L607.1,942.8L611.2,936.2L615.3,929.3L619.4,922.7L623.4,916.5L627.5,910.7L631.6,905.1L635.6,899.8L639.7,894.6L643.8,889.3L647.9,884.2L651.9,879.2L656.0,874.6L660.1,870.1L664.2,865.8L668.2,861.5L672.3,857.4L676.4,853.4L680.5,849.4L684.5,844.8L688.6,839.5L692.7,833.6L696.8,827.6L700.8,821.9L704.9,816.6L709.0,811.2L713.0,805.0L717.1,798.1L721.2,791.3L725.3,785.2L729.3,779.8L733.4,774.8L737.5,770.2L741.6,766.1L745.6,762.6L749.7,759.4L753.8,756.0L757.9,752.1L761.9,747.6L766.0,742.7L770.1,737.8L774.2,733.2L778.2,728.7L782.3,724.1L786.4,719.6L790.4,715.0L794.5,710.3L798.6,705.6L802.7,700.8L806.7,695.8L810.8,690.5L814.9,685.0L819.0,679.5L823.0,674.3L827.1,669.5L831.2,665.3L835.3,661.5L839.3,658.0L843.4,654.6L847.5,651.5L851.6,648.4L855.6,645.5L859.7,642.7L863.8,640.1L867.8,637.5L871.9,635.0L876.0,632.5L880.1,630.0L884.1,627.5L888.2,625.2L892.3,622.8L896.4,620.2L900.4,617.1L904.5,613.5L908.6,609.3L912.7,604.6L916.7,599.7L920.8,594.6L924.9,589.4L929.0,583.5L933.0,577.6L937.1,572.2L941.2,566.7L945.2,561.9L949.3,558.8L953.4,556.8L957.5,555.0L961.5,552.9L965.6,550.6L969.7,548.2L973.8,545.4L977.8,542.2L981.9,538.1L986.0,533.2L990.1,527.8L994.1,522.1L998.2,516.5L1002.3,510.5L1006.4,504.1L1010.4,498.1L1014.5,493.0L1018.6,488.8L1022.7,485.0L1026.7,482.7L1030.8,482.1L1034.9,481.8L1038.9,481.6L1043.0,481.3L1047.1,480.4L1051.2,477.9L1055.2,474.2L1059.3,470.1L1063.4,466.3L1067.5,463.3L1071.5,460.7L1075.6,458.3L1079.7,455.8L1083.8,452.9L1087.8,449.7L1091.9,446.2L1096.0,442.3L1100.1,437.9L1104.1,432.8L1108.2,426.2L1112.3,419.2L1116.3,413.2L1120.4,408.1L1124.5,403.3L1128.6,398.9L1132.6,394.7L1136.7,390.7L1140.8,386.7L1144.9,382.4L1148.9,378.1L1153.0,374.6L1157.1,371.7L1161.2,369.2L1165.2,367.4L1169.3,366.3L1173.4,365.4L1177.5,364.7L1181.5,364.0L1185.6,363.3L1189.7,362.6L1193.7,361.8L1197.8,361.1L1201.9,360.4L1206.0,359.3L1210.0,356.9L1214.1,353.0L1218.2,351.1L1222.3,349.6L1226.3,348.3L1230.4,347.2L1234.5,346.3L1238.6,345.3L1242.6,344.4L1246.7,343.5L1250.8,342.7L1254.9,341.9L1258.9,341.1L1263.0,340.4L1267.1,339.6L1271.1,338.8L1275.2,337.9L1279.3,337.1L1283.4,336.4L1287.4,335.8L1291.5,335.3"/></g>
<path d="M1305,336 L1321,334.7" stroke="#f00" stroke-width="7" fill="none"/>
<circle cx="1321" cy="334.7" r="11" fill="#f00"/>
<text class="b" x="1339" y="381.6" font-size="51px" fill="#f00" textLength="108.5" lengthAdjust="spacingAndGlyphs">2024</text>
<g fill="#a9a9a9">
<rect x="236" y="149.5" width="9" height="994.5"/>
<rect x="236" y="1135" width="1496.6" height="9"/>
<rect x="216" y="1135.0" width="21" height="9"/>
<rect x="216" y="1041.1" width="21" height="9"/>
<rect x="216" y="947.3" width="21" height="9"/>
<rect x="216" y="853.4" width="21" height="9"/>
<rect x="216" y="759.6" width="21" height="9"/>
<rect x="216" y="665.7" width="21" height="9"/>
<rect x="216" y="571.8" width="21" height="9"/>
<rect x="216" y="478.0" width="21" height="9"/>
<rect x="216" y="384.1" width="21" height="9"/>
<rect x="216" y="290.3" width="21" height="9"/>
<rect x="216" y="196.4" width="21" height="9"/>
<rect x="236.1" y="1143" width="8.8" height="20.5"/>
<rect x="360.0" y="1143" width="8.8" height="20.5"/>
<rect x="483.9" y="1143" width="8.8" height="20.5"/>
<rect x="607.8" y="1143" width="8.8" height="20.5"/>
<rect x="731.7" y="1143" width="8.8" height="20.5"/>
<rect x="855.6" y="1143" width="8.8" height="20.5"/>
<rect x="979.5" y="1143" width="8.8" height="20.5"/>
<rect x="1103.4" y="1143" width="8.8" height="20.5"/>
<rect x="1227.3" y="1143" width="8.8" height="20.5"/>
<rect x="1351.2" y="1143" width="8.8" height="20.5"/>
<rect x="1475.1" y="1143" width="8.8" height="20.5"/>
<rect x="1599.0" y="1143" width="8.8" height="20.5"/>
<rect x="1722.9" y="1143" width="8.8" height="20.5"/>
</g>
<g class="g" font-size="32px" text-anchor="end">
<text x="212" y="1150.7" textLength="16.3" lengthAdjust="spacingAndGlyphs">0</text>
<text x="212" y="1056.8" textLength="16.3" lengthAdjust="spacingAndGlyphs">2</text>
<text x="212" y="963.0" textLength="16.3" lengthAdjust="spacingAndGlyphs">4</text>
<text x="212" y="869.1" textLength="16.3" lengthAdjust="spacingAndGlyphs">6</text>
<text x="212" y="775.3" textLength="16.3" lengthAdjust="spacingAndGlyphs">8</text>
<text x="212" y="681.4" textLength="32.6" lengthAdjust="spacingAndGlyphs">10</text>
<text x="212" y="587.5" textLength="32.6" lengthAdjust="spacingAndGlyphs">12</text>
<text x="212" y="493.7" textLength="32.6" lengthAdjust="spacingAndGlyphs">14</text>
<text x="212" y="399.8" textLength="32.6" lengthAdjust="spacingAndGlyphs">16</text>
<text x="212" y="306.0" textLength="32.6" lengthAdjust="spacingAndGlyphs">18</text>
<text x="212" y="212.1" textLength="32.6" lengthAdjust="spacingAndGlyphs">20</text>
</g>
<g class="g" font-size="31px" text-anchor="middle">
<text x="239.0" y="1189.5">Jan</text>
<text x="362.9" y="1189.5">Feb</text>
<text x="486.8" y="1189.5">Mar</text>
<text x="610.7" y="1189.5">Apr</text>
<text x="734.6" y="1189.5">May</text>
<text x="858.5" y="1189.5">Jun</text>
<text x="982.4" y="1189.5">Jul</text>
<text x="1106.3" y="1189.5">Aug</text>
<text x="1230.2" y="1189.5">Sep</text>
<text x="1354.1" y="1189.5">Oct</text>
<text x="1478.0" y="1189.5">Nov</text>
<text x="1601.9" y="1189.5">Dec</text>
<text x="1725.8" y="1189.5">Jan</text>
</g>
<text transform="translate(155.3 922.6) rotate(-90)" font-size="38px" fill="#fff"><tspan class="b" x="-1.5" textLength="103" lengthAdjust="spacingAndGlyphs">Extent</tspan><tspan x="103" textLength="448" lengthAdjust="spacingAndGlyphs"> (million square kilometers)</tspan></text>
<g class="yr">
<text x="252.9" y="189.8" fill="#181826" stroke="#181826" textLength="48" lengthAdjust="spacingAndGlyphs">1979</text>
<text x="252.9" y="222.1" fill="#1d1c2f" stroke="#1d1c2f" textLength="48" lengthAdjust="spacingAndGlyphs">1980</text>
<text x="252.9" y="254.3" fill="#212137" stroke="#212137" textLength="48" lengthAdjust="spacingAndGlyphs">1981</text>
<text x="252.9" y="286.4" fill="#262540" stroke="#262540" textLength="48" lengthAdjust="spacingAndGlyphs">1982</text>
<text x="252.9" y="318.7" fill="#302d53" stroke="#302d53" textLength="48" lengthAdjust="spacingAndGlyphs">1983</text>
<text x="252.9" y="351.1" fill="#3a3665" stroke="#3a3665" textLength="48" lengthAdjust="spacingAndGlyphs">1984</text>
<text x="311.7" y="189.8" fill="#443e78" stroke="#443e78" textLength="48" lengthAdjust="spacingAndGlyphs">1985</text>
<text x="311.7" y="222.1" fill="#4b4487" stroke="#4b4487" textLength="48" lengthAdjust="spacingAndGlyphs">1986</text>
<text x="311.7" y="254.3" fill="#514a97" stroke="#514a97" textLength="48" lengthAdjust="spacingAndGlyphs">1987</text>
<text x="311.7" y="286.4" fill="#5850a6" stroke="#5850a6" textLength="48" lengthAdjust="spacingAndGlyphs">1988</text>
<text x="311.7" y="318.7" fill="#5c53b4" stroke="#5c53b4" textLength="48" lengthAdjust="spacingAndGlyphs">1989</text>
<text x="311.7" y="351.1" fill="#6055c2" stroke="#6055c2" textLength="48" lengthAdjust="spacingAndGlyphs">1990</text>
<text x="369.7" y="189.8" fill="#6458d0" stroke="#6458d0" textLength="48" lengthAdjust="spacingAndGlyphs">1991</text>
<text x="369.7" y="222.1" fill="#615bd4" stroke="#615bd4" textLength="48" lengthAdjust="spacingAndGlyphs">1992</text>
<text x="369.7" y="254.3" fill="#5f5dd8" stroke="#5f5dd8" textLength="48" lengthAdjust="spacingAndGlyphs">1993</text>
<text x="369.7" y="286.4" fill="#5c60dc" stroke="#5c60dc" textLength="48" lengthAdjust="spacingAndGlyphs">1994</text>
<text x="369.7" y="318.7" fill="#5569e1" stroke="#5569e1" textLength="48" lengthAdjust="spacingAndGlyphs">1995</text>
<text x="369.7" y="351.1" fill="#4f71e7" stroke="#4f71e7" textLength="48" lengthAdjust="spacingAndGlyphs">1996</text>
<text x="428.2" y="189.8" fill="#487aec" stroke="#487aec" textLength="48" lengthAdjust="spacingAndGlyphs">1997</text>
<text x="428.2" y="222.1" fill="#4280ea" stroke="#4280ea" textLength="48" lengthAdjust="spacingAndGlyphs">1998</text>
<text x="428.2" y="254.3" fill="#3c86e8" stroke="#3c86e8" textLength="48" lengthAdjust="spacingAndGlyphs">1999</text>
<text x="428.2" y="286.4" fill="#368ce6" stroke="#368ce6" textLength="48" lengthAdjust="spacingAndGlyphs">2000</text>
<text x="428.2" y="318.7" fill="#3a92e5" stroke="#3a92e5" textLength="48" lengthAdjust="spacingAndGlyphs">2001</text>
<text x="428.2" y="351.1" fill="#3e98e3" stroke="#3e98e3" textLength="48" lengthAdjust="spacingAndGlyphs">2002</text>
<text x="486.7" y="189.8" fill="#429ee2" stroke="#429ee2" textLength="48" lengthAdjust="spacingAndGlyphs">2003</text>
<text x="486.7" y="222.1" fill="#4ba5e1" stroke="#4ba5e1" textLength="48" lengthAdjust="spacingAndGlyphs">2004</text>
<text x="486.7" y="254.3" fill="#53addf" stroke="#53addf" textLength="48" lengthAdjust="spacingAndGlyphs">2005</text>
<text x="486.7" y="286.4" fill="#5cb4de" stroke="#5cb4de" textLength="48" lengthAdjust="spacingAndGlyphs">2006</text>
<text x="486.7" y="318.7" fill="#65b9df" stroke="#65b9df" textLength="48" lengthAdjust="spacingAndGlyphs">2007</text>
<text x="486.7" y="351.1" fill="#6fbfdf" stroke="#6fbfdf" textLength="48" lengthAdjust="spacingAndGlyphs">2008</text>
<text x="545.2" y="189.8" fill="#78c4e0" stroke="#78c4e0" textLength="48" lengthAdjust="spacingAndGlyphs">2009</text>
<text x="545.2" y="222.1" fill="#81c7e0" stroke="#81c7e0" textLength="48" lengthAdjust="spacingAndGlyphs">2010</text>
<text x="545.2" y="254.3" fill="#89cbe0" stroke="#89cbe0" textLength="48" lengthAdjust="spacingAndGlyphs">2011</text>
<text x="545.2" y="286.4" fill="#92cee0" stroke="#92cee0" textLength="48" lengthAdjust="spacingAndGlyphs">2012</text>
<text x="545.2" y="318.7" fill="#9dd3e1" stroke="#9dd3e1" textLength="48" lengthAdjust="spacingAndGlyphs">2013</text>
<text x="545.2" y="351.1" fill="#a7d7e3" stroke="#a7d7e3" textLength="48" lengthAdjust="spacingAndGlyphs">2014</text>
<text x="604.2" y="189.8" fill="#b2dce4" stroke="#b2dce4" textLength="48" lengthAdjust="spacingAndGlyphs">2015</text>
<text x="604.2" y="222.1" fill="#c1e3e9" stroke="#c1e3e9" textLength="48" lengthAdjust="spacingAndGlyphs">2016</text>
<text x="604.2" y="254.3" fill="#cfe9ed" stroke="#cfe9ed" textLength="48" lengthAdjust="spacingAndGlyphs">2017</text>
<text x="604.2" y="286.4" fill="#def0f2" stroke="#def0f2" textLength="48" lengthAdjust="spacingAndGlyphs">2018</text>
<text x="604.2" y="318.7" fill="#e9f5f6" stroke="#e9f5f6" textLength="48" lengthAdjust="spacingAndGlyphs">2019</text>
<text x="663.0" y="189.8" fill="#f4fafa" stroke="#f4fafa" textLength="48" lengthAdjust="spacingAndGlyphs">2020</text>
<text x="663.0" y="222.1" fill="#f8fcfc" stroke="#f8fcfc" textLength="48" lengthAdjust="spacingAndGlyphs">2021</text>
<text x="663.0" y="254.3" fill="#fbfdfd" stroke="#fbfdfd" textLength="48" lengthAdjust="spacingAndGlyphs">2022</text>
<text x="663.0" y="286.4" fill="#ffffff" stroke="#ffffff" textLength="48" lengthAdjust="spacingAndGlyphs">2023</text>
<text x="663.0" y="318.7" fill="#f00" stroke="#f00" textLength="48" lengthAdjust="spacingAndGlyphs">2024</text>
</g>
<g class="g" font-size="19.3px">
<text y="1218.8"><tspan class="b" x="239.5" textLength="53.5" lengthAdjust="spacingAndGlyphs">DATA:</tspan><tspan x="296" textLength="738.5" lengthAdjust="spacingAndGlyphs"> National Snow &amp; Ice Data Center, Boulder CO (Sea Ice Index v3; 1979-2024*)</tspan></text>
<text y="1238"><tspan class="b" x="239.5" textLength="82" lengthAdjust="spacingAndGlyphs">SOURCE:</tspan><tspan x="323.5" textLength="428.5" lengthAdjust="spacingAndGlyphs"> ftp://sidads.colorado.edu/DATASETS/NOAA/</tspan><tspan class="b" x="754.5" textLength="212.5" lengthAdjust="spacingAndGlyphs"> (5-day running mean)</tspan></text>
<text y="1218.8"><tspan class="b" x="1396.5" textLength="93.5" lengthAdjust="spacingAndGlyphs">GRAPHIC:</tspan><tspan x="1491" textLength="236.5" lengthAdjust="spacingAndGlyphs"> Zachary Labe (@ZLabe)</tspan></text>
</g>
</svg></body></html>
